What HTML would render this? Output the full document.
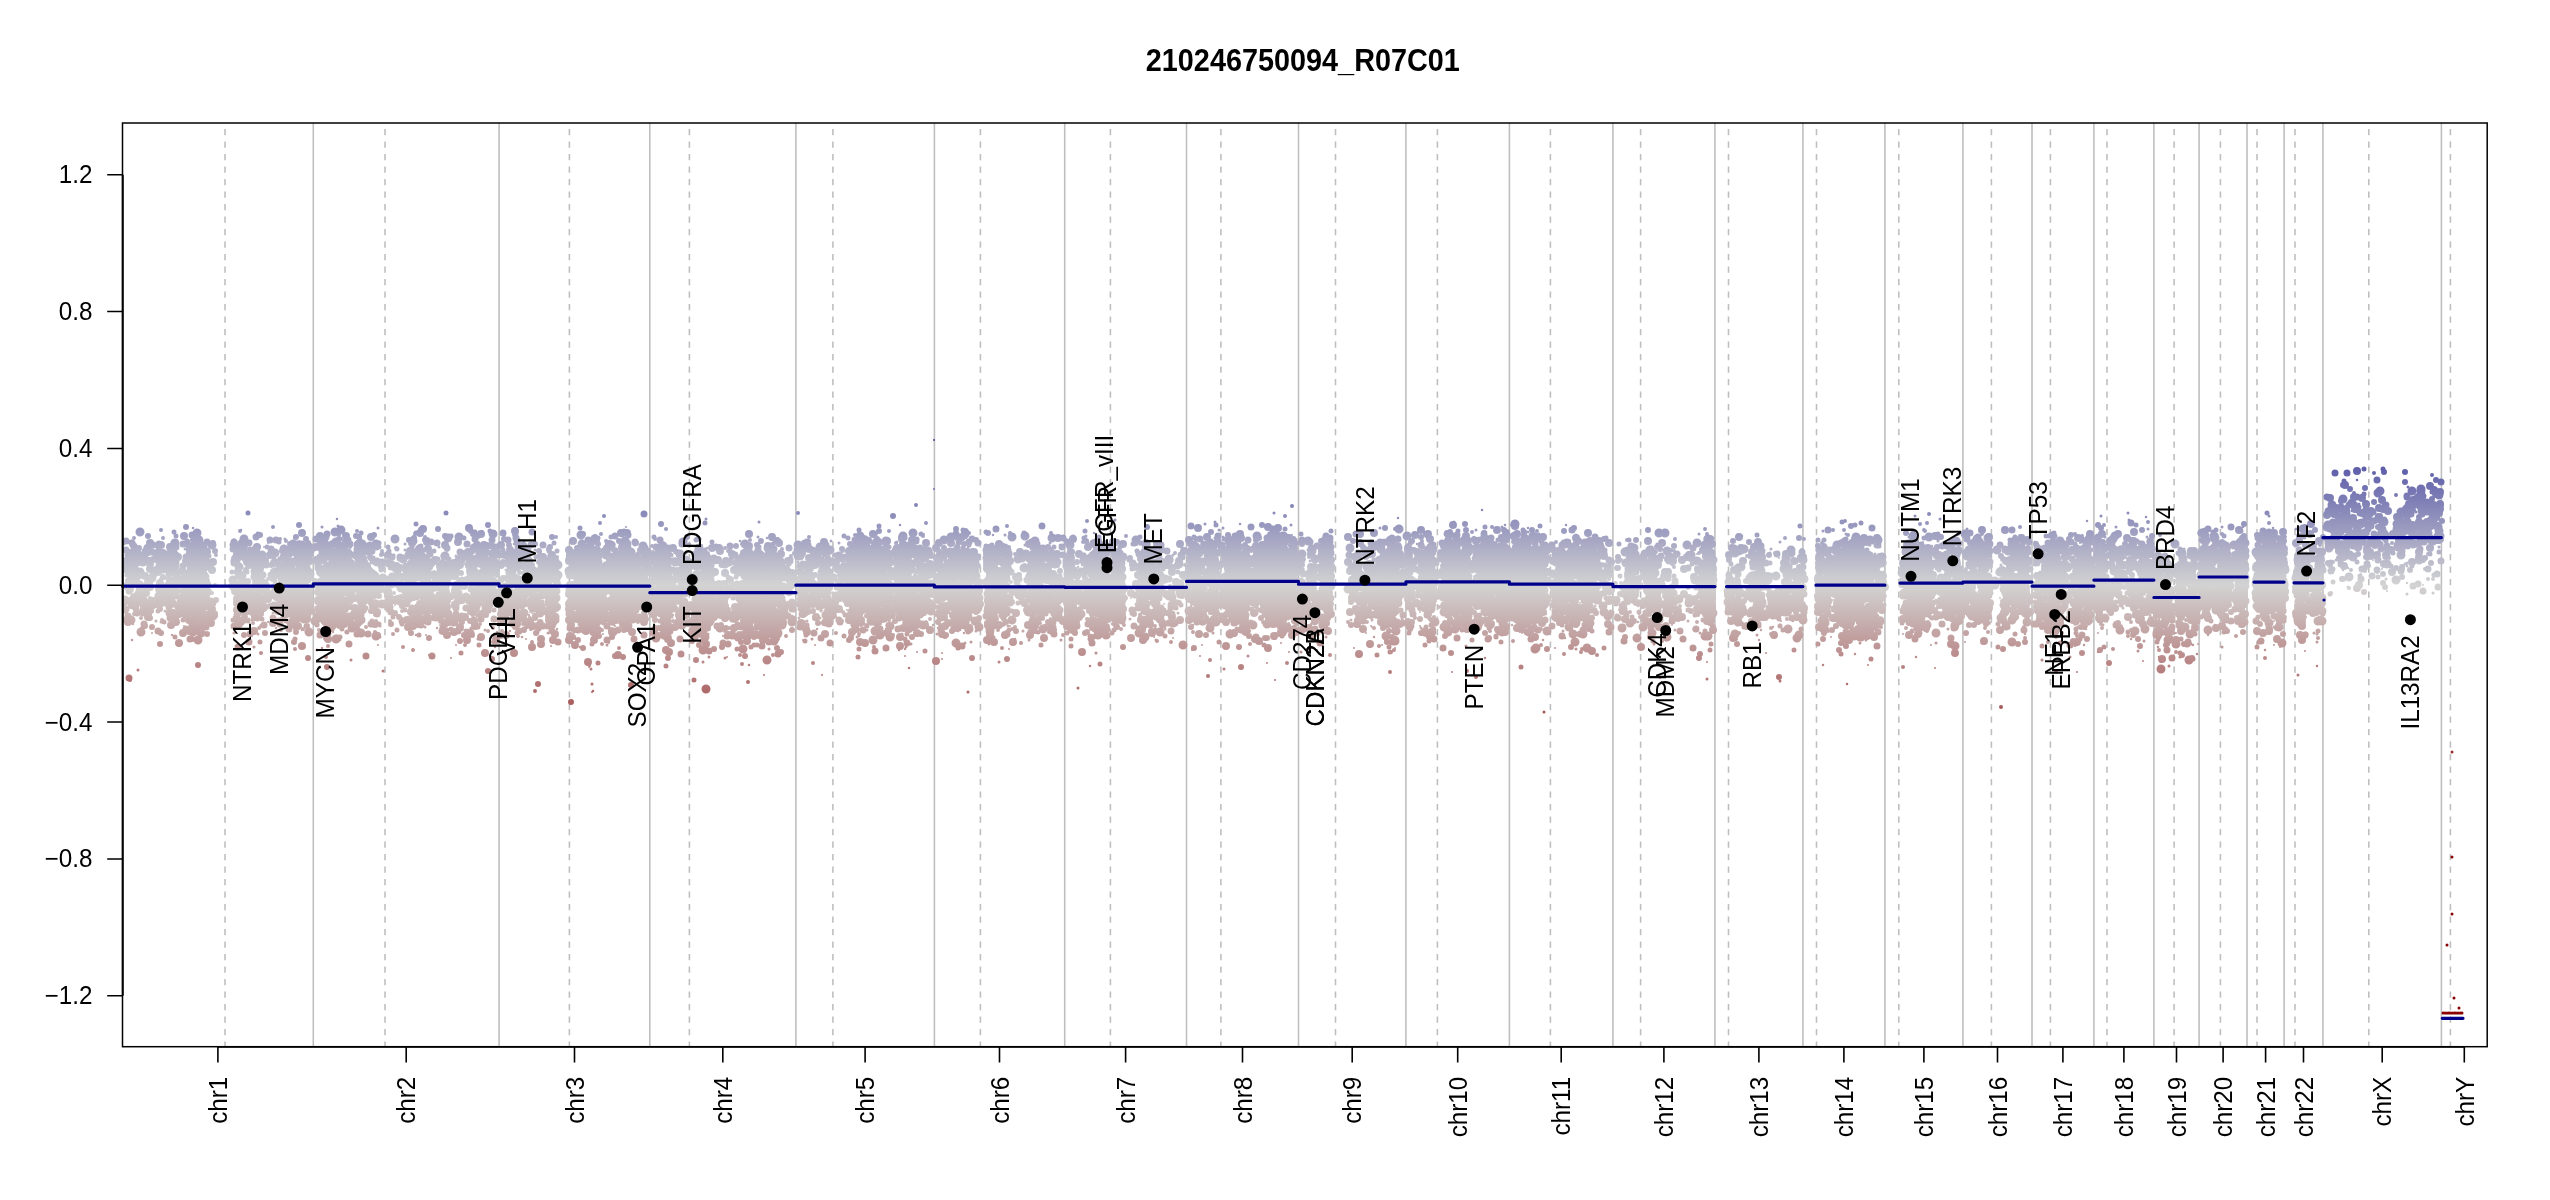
<!DOCTYPE html><html><head><meta charset="utf-8"><style>html,body{margin:0;padding:0;background:#fff;overflow:hidden}svg{display:block}text{font-family:"Liberation Sans",sans-serif;fill:#000}</style></head><body>
<svg style="will-change:transform" width="2550" height="1200" viewBox="0 0 2550 1200">
<rect width="2550" height="1200" fill="#fff"/>
<defs><linearGradient id="g" gradientUnits="userSpaceOnUse" x1="0" y1="373.1" x2="0" y2="797.3">
<stop offset="0" stop-color="#00008b"/><stop offset="0.5" stop-color="#d3d3d3"/><stop offset="1" stop-color="#8b0000"/></linearGradient>
<clipPath id="c"><rect x="122.5" y="123.0" width="2364.7" height="923.7"/></clipPath></defs>
<path stroke="#bebebe" stroke-width="1.56" fill="none" d="M313.3 123.0V1046.7M499.1 123.0V1046.7M649.8 123.0V1046.7M795.9 123.0V1046.7M934.4 123.0V1046.7M1064.7 123.0V1046.7M1186.5 123.0V1046.7M1298.5 123.0V1046.7M1405.9 123.0V1046.7M1509.4 123.0V1046.7M1612.9 123.0V1046.7M1714.9 123.0V1046.7M1802.9 123.0V1046.7M1884.9 123.0V1046.7M1962.9 123.0V1046.7M2032.0 123.0V1046.7M2093.9 123.0V1046.7M2153.9 123.0V1046.7M2199.1 123.0V1046.7M2247.0 123.0V1046.7M2284.1 123.0V1046.7M2322.9 123.0V1046.7M2441.4 123.0V1046.7"/>
<path stroke="#bebebe" stroke-width="1.56" stroke-dasharray="6.25 6.25" stroke-dashoffset="-6" fill="none" d="M225.0 123.0V1046.7M385.0 123.0V1046.7M569.4 123.0V1046.7M689.4 123.0V1046.7M832.9 123.0V1046.7M980.4 123.0V1046.7M1110.4 123.0V1046.7M1220.9 123.0V1046.7M1335.5 123.0V1046.7M1437.4 123.0V1046.7M1550.4 123.0V1046.7M1640.6 123.0V1046.7M1728.5 123.0V1046.7M1816.5 123.0V1046.7M1898.8 123.0V1046.7M1991.4 123.0V1046.7M2050.4 123.0V1046.7M2107.0 123.0V1046.7M2174.1 123.0V1046.7M2220.4 123.0V1046.7M2257.0 123.0V1046.7M2295.0 123.0V1046.7M2368.8 123.0V1046.7M2450.4 123.0V1046.7"/>
<g fill="none" stroke="url(#g)" stroke-linecap="round" clip-path="url(#c)"><path stroke-width="1.5" d=""/><path stroke-width="2.0" d="M152 633h0m1 -34h0m7 7h0m14 -7h0m1 24h0m9 3h0m1 1h0m4 -4h0m0 -35h0m1 13h0m6 -61h0m1 69h0m0 -3h0m4 29h0m0 -21h0m34 11h0m1 4h0m4 -14h0m13 1h0m10 11h0m1 -80h0m4 -4h0m6 25h0m5 29h0m3 22h0m4 -7h0m1 18h0m14 -13h0m16 -8h0m6 12h0m4 -15h0m11 5h0m0 -54h0m3 59h0m15 2h0m1 -19h0m3 -29h0m18 75h0m7 -42h0m10 2h0m10 4h0m4 23h0m1 -90h0m1 18h0m5 2h0m0 49h0m10 24h0m3 20h0m1 -54h0m10 24h0m3 -24h0m2 8h0m0 0h0m3 -23h0m3 72h0m4 -39h0m1 -14h0m0 40h0m6 -45h0m8 0h0m4 -47h0m0 52h0m4 -12h0m5 11h0m3 -56h0m4 11h0m4 -4h0m18 -5h0m3 77h0m0 -20h0m2 -44h0m3 -10h0m6 86h0m0 -35h0m3 13h0m1 -5h0m2 1h0m1 8h0m8 -69h0m3 17h0m4 46h0m2 -55h0m1 86h0m0 -84h0m4 42h0m0 18h0m14 -1h0m2 -36h0m3 48h0m4 -19h0m2 -17h0m1 -48h0m2 5h0m2 68h0m2 7h0m2 38h0m1 -62h0m0 61h0m2 -112h0m0 138h0m0 -152h0m1 38h0m1 53h0m3 -60h0m5 40h0m1 23h0m6 9h0m0 -15h0m6 -2h0m3 -5h0m1 -21h0m1 14h0m2 1h0m0 6h0m1 -21h0m3 -73h0m3 88h0m3 20h0m2 -26h0m20 -37h0m2 -8h0m4 52h0m0 -26h0m3 35h0m0 -66h0m11 -10h0m2 66h0m3 3h0m7 -44h0m16 -29h0m0 32h0m1 -7h0m1 36h0m0 -11h0m0 8h0m3 -41h0m5 46h0m1 2h0m10 26h0m2 -77h0m1 73h0m1 25h0m9 -40h0m10 -5h0m4 -4h0m11 -5h0m1 -6h0m1 46h0m1 32h0m1 -69h0m0 1h0m0 -59h0m1 1h0m2 109h0m10 -31h0m4 -24h0m4 21h0m17 -12h0m0 28h0m2 -32h0m10 10h0m0 27h0m6 -22h0m1 -13h0m0 65h0m1 -67h0m2 7h0m4 3h0m1 -57h0m14 52h0m2 2h0m1 -5h0m13 -43h0m1 57h0m6 -66h0m1 2h0m0 3h0m3 53h0m3 -4h0m1 -6h0m3 16h0m1 -1h0m1 -21h0m1 2h0m8 5h0m7 15h0m1 -16h0m5 -9h0m1 10h0m1 21h0m1 28h0m4 -59h0m8 55h0m7 -118h0m2 87h0m7 -12h0m1 -169h0m0 49h0m4 119h0m3 -3h0m1 48h0m0 6h0m13 -35h0m3 -20h0m1 9h0m2 -9h0m3 6h0m2 11h0m2 -71h0m1 78h0m18 -25h0m0 -40h0m1 -8h0m1 -9h0m4 11h0m1 50h0m7 10h0m6 -6h0m0 -6h0m2 44h0m1 -23h0m17 -25h0m4 22h0m2 -3h0m1 -4h0m0 -73h0m2 90h0m3 -21h0m3 -1h0m1 8h0m0 -14h0m7 13h0m2 11h0m10 -76h0m10 5h0m10 40h0m0 54h0m11 -45h0m2 -9h0m3 27h0m0 -77h0m5 68h0m0 -8h0m0 16h0m10 0h0m6 -59h0m12 33h0m13 -33h0m10 72h0m3 -47h0m7 14h0m3 7h0m6 13h0m0 14h0m17 -89h0m0 67h0m0 -21h0m2 55h0m0 -36h0m0 -19h0m4 10h0m0 -1h0m0 -2h0m2 -10h0m0 11h0m2 53h0m2 -11h0m7 -75h0m8 32h0m12 17h0m1 11h0m4 -76h0m3 40h0m6 -43h0m2 68h0m4 -13h0m10 3h0m0 -54h0m1 43h0m3 -40h0m4 105h0m3 -54h0m4 8h0m1 63h0m3 -87h0m1 40h0m0 -76h0m2 86h0m0 -50h0m1 13h0m0 15h0m0 -16h0m2 -7h0m2 -4h0m0 34h0m1 -1h0m2 25h0m0 -29h0m3 -88h0m1 22h0m1 48h0m1 10h0m17 7h0m4 -77h0m1 105h0m8 -37h0m1 -6h0m24 -8h0m1 -38h0m1 63h0m2 24h0m1 -108h0m3 84h0m3 -6h0m3 -8h0m2 23h0m5 -19h0m0 12h0m1 1h0m1 -73h0m3 55h0m5 -57h0m1 93h0m3 -88h0m1 -1h0m0 3h0m1 78h0m5 -19h0m1 -5h0m0 12h0m2 -29h0m0 52h0m0 -37h0m7 12h0m18 3h0m0 -14h0m2 -2h0m11 -8h0m12 22h0m7 48h0m2 -134h0m11 67h0m18 -3h0m3 -62h0m3 56h0m0 -1h0m17 -45h0m0 64h0m1 -13h0m6 16h0m1 -35h0m0 29h0m1 -51h0m3 59h0m1 9h0m1 4h0m2 -8h0m0 9h0m1 -34h0m0 8h0m9 -58h0m2 77h0m0 -22h0m1 32h0m3 -49h0m9 11h0m8 50h0m7 -92h0m4 55h0m0 -10h0m9 19h0m1 -71h0m2 53h0m2 1h0m3 -50h0m2 45h0m0 17h0m0 -58h0m1 -13h0m1 13h0m2 59h0m1 -21h0m2 56h0m1 -91h0m1 38h0m17 -1h0m8 13h0m8 -52h0m1 64h0m4 1h0m15 -18h0m4 28h0m6 -15h0m3 60h0m6 -53h0m6 0h0m2 -7h0m5 -4h0m1 -6h0m15 19h0m1 -63h0m1 -10h0m10 67h0m0 41h0m3 -102h0m1 75h0m1 -15h0m29 -2h0m5 8h0m5 -70h0m6 53h0m3 16h0m6 28h0m4 -37h0m9 -58h0m2 63h0m2 -21h0m17 11h0m1 21h0m18 -11h0m10 -27h0m2 43h0m2 -37h0m4 -39h0m7 64h0m5 -5h0m5 -33h0m0 21h0m2 -7h0m3 1h0m2 -6h0m0 33h0m7 36h0m2 -66h0m9 31h0m4 -30h0m20 34h0m2 -86h0m7 18h0m1 47h0m1 26h0m1 -16h0m1 11h0m0 -30h0m3 22h0m3 -27h0m0 5h0m1 -62h0m2 70h0m1 -63h0m3 75h0m2 21h0m4 23h0m8 -54h0m1 -82h0m8 80h0m3 -4h0m2 -50h0m2 53h0m6 31h0m0 -40h0m5 -43h0m1 60h0m0 -23h0m0 -28h0m11 33h0m2 0h0m1 20h0m1 -20h0m13 -49h0m1 46h0m3 32h0m1 -30h0m10 9h0m1 -12h0m2 22h0m6 -21h0m4 5h0m2 19h0m8 -41h0m8 24h0m0 -18h0m14 43h0m1 30h0m17 12h0m3 -129h0m1 16h0m2 55h0m1 -5h0m0 -5h0m3 15h0m2 -51h0m3 39h0m6 26h0m4 -83h0m1 67h0m1 -7h0m6 4h0m5 8h0m25 -31h0m3 70h0m9 -55h0m4 29h0m8 -60h0m4 66h0m1 -79h0m7 71h0m1 -69h0m10 49h0m1 -63h0m3 72h0m3 -7h0m4 29h0m7 -91h0m19 67h0m2 -21h0m6 2h0m4 22h0m6 -20h0m1 -23h0m22 -32h0m1 70h0m2 -12h0m3 -13h0m1 9h0m1 -16h0m1 59h0m0 -24h0m6 26h0m4 -27h0m0 -26h0m1 28h0m11 -18h0m1 3h0m1 -10h0m4 -3h0m3 57h0m3 -53h0m1 15h0m2 -4h0m11 4h0m39 -39h0m12 -14h0m9 9h0m5 22h0m36 -6h0"/><path stroke-width="2.5" d="M124 544h0m8 96h0m1 -16h0m5 -25h0m21 4h0m13 32h0m2 -34h0m4 -25h0m6 0h0m0 -11h0m4 34h0m2 3h0m0 -52h0m1 70h0m1 -85h0m1 83h0m0 -90h0m7 35h0m2 3h0m32 51h0m1 -65h0m4 4h0m2 -26h0m2 94h0m1 -18h0m10 -33h0m4 8h0m1 28h0m4 -2h0m5 15h0m7 -58h0m1 64h0m6 -27h0m1 15h0m3 -19h0m8 -53h0m6 44h0m2 42h0m17 -31h0m1 -48h0m2 97h0m0 -58h0m2 22h0m2 10h0m0 -54h0m2 10h0m0 34h0m2 -14h0m0 -15h0m3 49h0m3 -18h0m1 -95h0m1 108h0m0 -20h0m2 33h0m0 -30h0m1 -5h0m0 -35h0m2 2h0m4 9h0m19 -29h0m4 74h0m17 -62h0m3 48h0m0 -33h0m3 1h0m5 16h0m4 22h0m1 3h0m10 -21h0m3 35h0m0 -86h0m2 86h0m19 -7h0m6 -19h0m5 -41h0m6 27h0m2 17h0m12 -46h0m5 58h0m0 -27h0m2 11h0m8 -50h0m1 -2h0m11 91h0m0 -8h0m0 -18h0m2 11h0m6 -51h0m7 50h0m3 -73h0m1 -14h0m1 83h0m2 0h0m5 10h0m1 -87h0m1 -9h0m5 74h0m7 -37h0m1 -8h0m1 39h0m1 16h0m17 -64h0m1 68h0m13 -59h0m0 53h0m3 -24h0m0 14h0m5 -52h0m2 86h0m5 -101h0m1 43h0m0 -9h0m0 35h0m2 -58h0m4 -1h0m1 135h0m0 -108h0m4 43h0m0 -57h0m1 65h0m6 -38h0m1 -50h0m5 66h0m0 -26h0m4 39h0m2 -69h0m1 37h0m4 7h0m1 9h0m1 -6h0m5 12h0m2 -18h0m0 30h0m1 -16h0m1 -22h0m16 8h0m11 -50h0m4 81h0m3 -75h0m0 40h0m2 65h0m0 -51h0m5 8h0m13 -12h0m5 36h0m3 -26h0m6 22h0m1 -16h0m1 -57h0m1 45h0m3 3h0m1 38h0m0 -100h0m9 70h0m12 14h0m11 -47h0m1 -44h0m3 27h0m4 36h0m2 61h0m0 -50h0m2 3h0m6 -56h0m1 11h0m2 32h0m1 5h0m3 -48h0m2 65h0m1 8h0m0 -97h0m4 95h0m2 -93h0m0 30h0m5 61h0m1 -23h0m0 -1h0m6 5h0m4 -17h0m1 -6h0m13 34h0m3 -83h0m0 28h0m2 9h0m9 52h0m6 -88h0m6 14h0m0 56h0m2 -10h0m4 -36h0m1 52h0m12 -79h0m1 5h0m3 15h0m3 65h0m0 -63h0m1 -19h0m1 71h0m2 24h0m1 -7h0m4 -19h0m8 1h0m0 -33h0m0 12h0m3 14h0m0 -1h0m2 -30h0m3 45h0m6 11h0m13 21h0m1 -125h0m1 75h0m2 -50h0m2 99h0m1 -27h0m3 46h0m6 -116h0m1 3h0m2 -6h0m5 49h0m4 24h0m0 -77h0m6 80h0m5 3h0m2 -34h0m13 4h0m0 17h0m1 14h0m1 -61h0m1 10h0m2 53h0m1 -78h0m5 54h0m0 26h0m3 -22h0m1 -20h0m0 -10h0m1 22h0m19 5h0m0 16h0m5 -89h0m2 79h0m0 -65h0m7 69h0m1 -9h0m2 2h0m10 28h0m10 -87h0m3 54h0m1 25h0m7 -50h0m3 29h0m8 -43h0m1 -19h0m0 58h0m3 -29h0m9 -32h0m7 12h0m11 10h0m4 -2h0m1 28h0m5 -51h0m0 19h0m2 105h0m4 -133h0m1 27h0m3 18h0m3 -11h0m1 -13h0m0 72h0m4 -46h0m6 44h0m5 3h0m1 -16h0m2 -51h0m17 -6h0m6 51h0m2 -50h0m11 58h0m34 -12h0m1 5h0m2 19h0m2 -7h0m4 -35h0m3 -35h0m9 15h0m3 52h0m10 -26h0m1 -29h0m0 -7h0m2 29h0m2 10h0m2 -22h0m1 24h0m0 -19h0m1 21h0m3 -52h0m1 50h0m0 5h0m0 -23h0m3 -17h0m0 -35h0m0 68h0m1 -37h0m2 16h0m2 53h0m6 -32h0m2 3h0m1 0h0m11 -20h0m3 17h0m1 -35h0m0 64h0m1 -26h0m1 18h0m2 -52h0m1 -1h0m3 13h0m2 48h0m0 -71h0m5 43h0m2 34h0m0 -63h0m1 -12h0m1 23h0m6 28h0m8 9h0m3 -7h0m1 -2h0m2 50h0m3 -29h0m17 -29h0m30 -53h0m0 61h0m0 -43h0m11 50h0m0 -6h0m1 9h0m3 -31h0m1 55h0m3 -26h0m4 3h0m1 -19h0m1 -13h0m2 -31h0m0 0h0m2 2h0m0 23h0m4 -5h0m2 -23h0m2 17h0m0 19h0m0 -56h0m2 59h0m1 -69h0m1 105h0m18 -79h0m2 33h0m10 16h0m17 4h0m4 -43h0m1 51h0m2 -61h0m1 31h0m2 -14h0m0 68h0m0 -19h0m1 -16h0m6 -12h0m4 88h0m0 -67h0m3 6h0m3 17h0m1 -12h0m2 9h0m5 -30h0m1 -83h0m3 96h0m0 52h0m1 -102h0m0 -24h0m1 29h0m1 32h0m2 -12h0m1 35h0m0 -27h0m2 4h0m0 -35h0m2 25h0m0 -28h0m2 3h0m1 40h0m2 8h0m0 1h0m3 -67h0m1 69h0m1 -84h0m7 100h0m2 -13h0m2 -14h0m5 -35h0m0 -17h0m1 9h0m5 76h0m1 -103h0m0 97h0m2 -64h0m4 73h0m0 -50h0m2 33h0m1 -7h0m3 -54h0m2 31h0m1 53h0m3 -26h0m1 -13h0m14 -2h0m3 1h0m1 38h0m1 -113h0m4 58h0m1 -38h0m0 46h0m1 -40h0m8 48h0m4 22h0m2 -17h0m4 -10h0m1 8h0m1 3h0m4 -42h0m20 54h0m8 8h0m14 -3h0m0 -16h0m1 8h0m5 11h0m7 -24h0m2 -52h0m14 61h0m7 -9h0m31 16h0m5 -75h0m0 71h0m1 -70h0m0 55h0m17 -26h0m3 14h0m3 24h0m3 15h0m5 -89h0m12 18h0m3 70h0m2 -27h0m0 43h0m1 -25h0m1 15h0m1 -17h0m0 -29h0m8 -9h0m1 31h0m2 21h0m2 -25h0m8 -5h0m2 -29h0m8 53h0m8 -16h0m17 -43h0m3 47h0m2 56h0m1 -49h0m0 -61h0m6 50h0m2 -30h0m11 6h0m1 -3h0m2 67h0m1 -84h0m0 123h0m1 -77h0m2 -43h0m1 55h0m0 -21h0m1 14h0m0 12h0m1 -13h0m1 -26h0m1 23h0m0 46h0m1 -50h0m0 6h0m0 -20h0m2 -54h0m2 46h0m0 -18h0m3 47h0m7 3h0m32 -30h0m1 21h0m2 -55h0m6 10h0m2 34h0m0 -27h0m1 -14h0m1 5h0m1 40h0m0 59h0m1 -123h0m1 23h0m0 39h0m2 14h0m0 7h0m7 -60h0m5 4h0m0 -15h0m0 -10h0m4 64h0m8 25h0m8 -70h0m0 61h0m7 -8h0m9 -12h0m4 5h0m4 -34h0m30 33h0m2 -34h0m6 25h0m4 -35h0m0 61h0m2 -40h0m3 37h0m1 -56h0m0 -12h0m1 88h0m0 -68h0m3 -6h0m14 26h0m3 15h0m4 -23h0m3 10h0m1 15h0m1 -51h0m0 -8h0m0 68h0m1 -62h0m1 35h0m0 29h0m1 -40h0m1 42h0m0 -35h0m2 -13h0m2 -17h0m18 32h0m0 -11h0m2 55h0m2 18h0m1 -101h0m1 85h0m1 -108h0m3 57h0m2 -38h0m5 31h0m0 -14h0m1 95h0m3 -122h0m1 31h0m11 18h0m12 -25h0m6 85h0m1 -54h0m0 22h0m13 -52h0m1 -38h0m1 86h0m4 -64h0m1 15h0m6 93h0m1 -26h0m0 36h0m0 -38h0m0 10h0m5 -17h0m2 14h0m9 7h0m0 -59h0m0 40h0m3 -59h0m6 72h0m7 -8h0m0 -51h0m1 31h0m1 46h0m0 -24h0m4 33h0m1 -42h0m10 23h0m2 -15h0m1 -27h0m4 32h0m21 -35h0m5 -30h0m2 -33h0m2 75h0m0 1h0m0 17h0m13 -21h0m2 23h0m1 -61h0m1 2h0m1 -5h0m2 92h0m4 -45h0m3 -28h0m1 -49h0m1 87h0m3 -53h0m0 23h0m0 38h0m6 -26h0m15 -39h0m0 58h0m1 -52h0m0 53h0m1 -11h0m1 33h0m1 -41h0m4 12h0m2 -2h0m2 -42h0m5 -38h0m2 138h0m4 -54h0m15 -81h0m7 39h0m5 -2h0m4 -57h0m5 -31h0m22 65h0m28 38h0m11 -22h0m20 -43h0"/><path stroke-width="3.0" d="M131 580h0m7 90h0m1 -89h0m1 32h0m5 -52h0m0 37h0m1 16h0m1 -38h0m0 40h0m0 -66h0m2 10h0m7 61h0m3 -23h0m1 -17h0m1 41h0m1 -32h0m3 21h0m5 -16h0m4 -38h0m11 -8h0m1 60h0m2 4h0m1 -39h0m1 51h0m1 -85h0m0 26h0m1 -5h0m1 17h0m1 -22h0m2 12h0m1 7h0m1 30h0m1 -62h0m1 -2h0m1 48h0m1 -19h0m2 -1h0m0 19h0m10 12h0m20 33h0m1 -28h0m4 9h0m3 -47h0m1 53h0m1 -42h0m0 39h0m1 -76h0m3 67h0m1 11h0m1 -13h0m0 -65h0m2 79h0m0 -14h0m2 41h0m1 -57h0m3 44h0m0 -27h0m1 -15h0m4 -39h0m10 60h0m0 -59h0m6 4h0m3 -10h0m3 -9h0m5 48h0m1 15h0m0 8h0m0 -9h0m3 -11h0m1 -10h0m0 9h0m0 -9h0m2 1h0m0 28h0m3 -7h0m2 -59h0m0 52h0m4 36h0m1 -15h0m2 -50h0m0 -20h0m8 104h0m1 -103h0m0 77h0m0 -14h0m4 -83h0m0 78h0m0 -61h0m1 50h0m10 -16h0m0 -21h0m1 22h0m2 24h0m1 -6h0m1 -71h0m1 51h0m0 37h0m1 -45h0m1 15h0m2 7h0m2 7h0m1 34h0m1 -8h0m3 -82h0m1 118h0m0 -58h0m7 0h0m3 11h0m1 10h0m5 -79h0m5 15h0m1 -1h0m0 44h0m0 -55h0m1 -2h0m0 12h0m4 -29h0m2 109h0m0 -11h0m3 45h0m5 -94h0m6 -22h0m5 63h0m1 -29h0m3 -12h0m1 32h0m1 -65h0m0 6h0m8 20h0m4 9h0m0 -18h0m3 26h0m1 -39h0m4 79h0m6 -42h0m3 15h0m3 -17h0m2 -17h0m0 -19h0m1 45h0m1 36h0m6 -52h0m1 23h0m1 -30h0m7 -13h0m2 12h0m3 -6h0m1 -8h0m1 82h0m1 -28h0m6 -36h0m0 62h0m1 -6h0m2 -24h0m0 2h0m1 -58h0m2 58h0m2 5h0m0 28h0m0 -51h0m1 -32h0m1 17h0m5 57h0m4 -51h0m1 26h0m0 -38h0m0 -20h0m3 23h0m0 -6h0m8 43h0m2 -63h0m1 55h0m2 -29h0m3 53h0m3 -47h0m3 -9h0m1 55h0m1 -16h0m0 -38h0m0 -6h0m1 52h0m3 -30h0m2 44h0m2 -22h0m5 2h0m1 -46h0m4 -12h0m2 67h0m1 -11h0m1 -15h0m1 22h0m0 -5h0m3 -24h0m4 -20h0m0 64h0m0 -41h0m1 46h0m0 -53h0m1 -6h0m7 -2h0m0 -14h0m1 17h0m0 25h0m13 -38h0m0 9h0m0 42h0m8 -25h0m0 18h0m1 -45h0m2 55h0m0 -4h0m2 -9h0m0 -30h0m2 -26h0m0 47h0m1 5h0m2 -37h0m1 24h0m2 83h0m0 -86h0m1 101h0m1 -90h0m0 13h0m1 -10h0m0 30h0m1 -70h0m2 26h0m3 26h0m0 -33h0m1 19h0m0 28h0m4 -28h0m2 50h0m3 -91h0m1 40h0m0 -1h0m0 -19h0m2 5h0m2 9h0m1 20h0m2 -27h0m2 16h0m0 -7h0m2 -23h0m4 -2h0m0 9h0m0 -18h0m1 -20h0m5 72h0m5 -11h0m0 -42h0m2 45h0m3 -14h0m3 -27h0m1 39h0m6 -9h0m4 9h0m3 14h0m2 -27h0m2 -16h0m1 21h0m0 30h0m0 -3h0m1 -54h0m0 11h0m2 3h0m3 -28h0m2 68h0m2 -53h0m1 64h0m4 -43h0m1 -3h0m0 -19h0m1 17h0m5 -27h0m0 -12h0m6 77h0m1 -64h0m0 32h0m1 -21h0m1 10h0m3 -7h0m0 60h0m4 21h0m1 -60h0m0 73h0m1 -26h0m1 -13h0m1 -53h0m0 26h0m0 -77h0m2 108h0m0 7h0m0 -4h0m1 27h0m1 -32h0m1 -20h0m1 -41h0m3 24h0m5 40h0m4 -11h0m1 41h0m13 -25h0m2 -25h0m1 -38h0m0 36h0m1 28h0m1 -8h0m1 -39h0m2 27h0m1 -11h0m0 -10h0m1 -43h0m0 69h0m2 -34h0m0 40h0m5 -59h0m1 27h0m2 7h0m0 -63h0m1 -15h0m1 25h0m0 -1h0m1 38h0m0 23h0m2 -22h0m1 21h0m2 14h0m0 -72h0m1 79h0m0 -57h0m1 46h0m1 9h0m0 -58h0m0 82h0m2 -93h0m0 65h0m8 -29h0m0 13h0m1 31h0m0 -85h0m18 11h0m1 56h0m4 -66h0m0 28h0m4 41h0m3 -20h0m0 -11h0m2 -20h0m0 69h0m2 -43h0m0 -3h0m6 25h0m1 -7h0m2 -56h0m1 -6h0m0 65h0m2 -31h0m1 -12h0m1 5h0m2 -15h0m1 -20h0m8 2h0m7 71h0m8 -22h0m1 18h0m0 -1h0m1 -4h0m0 10h0m0 -53h0m1 32h0m0 26h0m0 17h0m1 -30h0m1 -9h0m1 7h0m1 4h0m0 -18h0m1 19h0m3 -39h0m0 -22h0m0 53h0m1 13h0m1 15h0m1 -84h0m2 10h0m1 25h0m2 -33h0m0 32h0m1 -30h0m0 -10h0m1 56h0m1 -28h0m1 22h0m1 -43h0m8 54h0m1 -42h0m1 19h0m1 49h0m3 -16h0m5 -23h0m0 -46h0m1 49h0m2 12h0m0 -38h0m1 15h0m0 -20h0m1 43h0m0 -29h0m0 60h0m1 -75h0m1 36h0m1 -41h0m1 93h0m1 -63h0m1 -11h0m1 43h0m0 -2h0m1 -25h0m1 55h0m2 -103h0m0 76h0m2 -33h0m9 2h0m0 24h0m3 -53h0m2 46h0m8 31h0m1 -51h0m0 33h0m1 -22h0m1 -23h0m1 47h0m4 -42h0m2 30h0m5 -38h0m1 12h0m1 30h0m0 16h0m1 -26h0m1 5h0m1 -37h0m4 41h0m0 -32h0m2 -4h0m0 -8h0m1 -5h0m1 83h0m1 -57h0m1 -32h0m0 2h0m1 136h0m0 -144h0m2 5h0m1 89h0m0 -70h0m4 52h0m1 7h0m1 -40h0m0 -29h0m2 57h0m7 -14h0m1 12h0m1 4h0m0 -19h0m1 42h0m0 -35h0m0 -50h0m1 23h0m1 -37h0m3 92h0m3 -58h0m1 31h0m0 -32h0m1 84h0m0 -99h0m3 33h0m2 29h0m0 -29h0m0 19h0m1 -17h0m0 1h0m0 0h0m0 -64h0m3 91h0m15 5h0m2 -86h0m4 95h0m2 -23h0m1 -26h0m5 13h0m3 -38h0m0 49h0m0 -25h0m1 20h0m0 -12h0m4 -10h0m1 -16h0m3 40h0m1 -69h0m1 55h0m3 -41h0m2 33h0m3 -33h0m1 -3h0m0 32h0m1 54h0m0 -40h0m6 8h0m2 -18h0m0 40h0m0 -58h0m2 36h0m0 1h0m1 -5h0m0 11h0m1 -1h0m4 -22h0m1 29h0m0 67h0m5 -127h0m1 34h0m0 -41h0m2 -18h0m6 50h0m3 -27h0m1 64h0m0 -15h0m0 -53h0m0 4h0m0 94h0m0 -23h0m1 -86h0m1 1h0m1 0h0m1 84h0m1 -55h0m1 16h0m0 -29h0m1 46h0m3 -22h0m3 34h0m4 -56h0m2 64h0m0 -107h0m1 94h0m0 -39h0m0 -33h0m2 83h0m4 -59h0m8 53h0m1 -5h0m4 -69h0m1 59h0m1 3h0m3 7h0m0 -70h0m0 27h0m1 48h0m1 -26h0m14 47h0m1 -74h0m0 -8h0m8 71h0m0 -35h0m3 -27h0m1 49h0m4 -61h0m5 58h0m3 -18h0m1 24h0m3 25h0m9 -81h0m0 30h0m0 -43h0m1 27h0m0 4h0m0 -40h0m0 76h0m4 -43h0m2 -21h0m1 35h0m3 -64h0m3 45h0m0 -7h0m1 -15h0m2 72h0m1 -64h0m0 4h0m0 65h0m0 -15h0m1 24h0m0 -58h0m1 12h0m1 -65h0m0 16h0m2 21h0m1 30h0m1 -7h0m0 -52h0m4 7h0m0 -9h0m1 141h0m5 -76h0m2 -29h0m0 49h0m1 -1h0m0 -54h0m0 51h0m0 -35h0m1 -37h0m0 21h0m0 -11h0m1 59h0m1 -66h0m1 49h0m0 -7h0m1 -39h0m3 72h0m0 -24h0m2 12h0m1 14h0m0 -57h0m1 -11h0m0 44h0m1 1h0m0 3h0m3 59h0m4 -90h0m2 -5h0m2 32h0m3 18h0m0 -60h0m2 41h0m1 -43h0m0 11h0m3 30h0m1 -38h0m0 -25h0m1 75h0m1 -2h0m1 -60h0m1 19h0m1 45h0m0 -49h0m1 -12h0m2 -30h0m0 76h0m1 -24h0m0 52h0m2 1h0m0 -58h0m1 31h0m1 -42h0m0 78h0m0 -31h0m1 -46h0m1 58h0m0 -53h0m0 49h0m1 -20h0m0 30h0m1 -28h0m1 -21h0m1 45h0m1 22h0m2 -13h0m2 -38h0m1 -56h0m2 83h0m1 -12h0m1 -29h0m1 -23h0m1 30h0m4 78h0m0 -29h0m7 -73h0m2 11h0m4 59h0m4 -5h0m0 -16h0m3 -16h0m2 -13h0m0 2h0m3 65h0m1 -43h0m2 -26h0m1 7h0m0 22h0m0 -10h0m1 21h0m18 -54h0m2 66h0m1 -71h0m3 52h0m2 5h0m5 -57h0m6 30h0m3 6h0m1 35h0m1 -46h0m1 32h0m2 8h0m1 0h0m1 -19h0m2 -67h0m2 74h0m1 -8h0m1 -54h0m0 32h0m1 -2h0m0 16h0m1 33h0m1 -79h0m0 25h0m0 21h0m3 7h0m1 4h0m0 34h0m0 -22h0m0 -22h0m1 1h0m1 35h0m0 -15h0m0 -2h0m0 6h0m0 -53h0m1 11h0m1 -23h0m0 41h0m3 -24h0m1 10h0m0 27h0m0 -12h0m1 -23h0m1 12h0m1 41h0m9 -40h0m4 38h0m6 11h0m1 -26h0m4 -52h0m0 65h0m3 4h0m2 -34h0m16 -23h0m0 44h0m1 -60h0m0 59h0m0 1h0m0 -3h0m0 -16h0m1 -23h0m2 20h0m0 30h0m3 -18h0m0 -29h0m0 -45h0m0 91h0m1 -37h0m2 -18h0m4 8h0m2 -3h0m1 61h0m2 22h0m2 -83h0m0 -25h0m0 78h0m2 -62h0m0 60h0m0 -13h0m1 11h0m2 12h0m0 -66h0m1 70h0m2 -7h0m0 -91h0m3 8h0m1 20h0m0 27h0m4 -43h0m0 78h0m1 -50h0m2 29h0m2 -13h0m0 5h0m3 -38h0m2 28h0m2 28h0m0 -64h0m0 73h0m0 -33h0m2 -27h0m1 15h0m0 -24h0m1 26h0m1 14h0m0 -2h0m1 -60h0m1 60h0m2 4h0m0 -40h0m2 56h0m1 -22h0m0 44h0m3 -42h0m1 -49h0m2 20h0m0 -2h0m1 61h0m0 -56h0m0 26h0m0 -50h0m4 12h0m1 79h0m0 -22h0m1 -25h0m1 -28h0m1 13h0m2 -18h0m0 14h0m0 -7h0m1 0h0m0 70h0m2 -93h0m0 59h0m0 15h0m2 -17h0m0 32h0m1 -62h0m0 28h0m0 26h0m1 -63h0m0 20h0m0 23h0m1 20h0m1 -13h0m2 -26h0m3 -40h0m1 8h0m1 61h0m2 -33h0m0 11h0m1 131h0m0 -149h0m0 30h0m1 -41h0m6 53h0m1 -9h0m1 18h0m1 -58h0m2 1h0m4 29h0m0 -34h0m0 9h0m1 0h0m1 2h0m0 -17h0m1 85h0m6 -25h0m1 -31h0m0 20h0m1 -16h0m1 18h0m1 -34h0m1 51h0m1 -73h0m1 108h0m0 -114h0m0 58h0m1 -26h0m1 47h0m1 -36h0m0 -8h0m1 42h0m2 -32h0m1 35h0m0 -7h0m1 -42h0m1 -8h0m1 38h0m0 -1h0m0 15h0m2 15h0m0 -76h0m0 0h0m1 68h0m2 -19h0m1 -53h0m0 41h0m1 33h0m1 -18h0m1 5h0m5 -14h0m11 -30h0m7 5h0m14 -7h0m3 7h0m8 48h0m6 11h0m0 -67h0m2 -2h0m0 51h0m0 2h0m1 -63h0m2 97h0m3 -100h0m1 44h0m2 23h0m2 -4h0m4 33h0m2 -31h0m3 -46h0m1 37h0m3 30h0m3 -31h0m10 22h0m8 -54h0m3 -33h0m1 50h0m0 49h0m0 21h0m3 -61h0m2 23h0m0 -33h0m1 -45h0m1 141h0m1 -126h0m2 10h0m0 36h0m1 -23h0m0 16h0m2 -54h0m27 80h0m2 -8h0m8 -20h0m3 21h0m0 -62h0m2 77h0m2 -23h0m0 32h0m2 -71h0m0 -5h0m0 42h0m1 -14h0m1 -11h0m1 -32h0m1 38h0m1 -20h0m6 -9h0m1 -4h0m3 59h0m6 17h0m0 56h0m0 -139h0m5 54h0m7 -32h0m5 47h0m1 -1h0m5 2h0m1 -55h0m15 -7h0m1 47h0m3 -2h0m0 -10h0m0 -54h0m1 35h0m3 -10h0m1 47h0m5 -10h0m4 -40h0m5 30h0m1 41h0m0 -27h0m1 24h0m2 -87h0m0 113h0m3 -47h0m0 17h0m1 9h0m1 -81h0m0 90h0m0 -45h0m2 8h0m0 -32h0m0 31h0m1 -50h0m0 39h0m3 -6h0m0 -39h0m2 45h0m0 -9h0m0 13h0m1 14h0m0 -30h0m0 33h0m0 36h0m2 -58h0m1 -4h0m2 -12h0m0 -1h0m1 72h0m3 -36h0m0 -59h0m1 0h0m1 26h0m1 3h0m0 10h0m1 -41h0m2 11h0m2 42h0m1 26h0m6 -50h0m20 -1h0m3 -19h0m1 35h0m1 -33h0m0 -17h0m2 59h0m1 2h0m0 10h0m2 -27h0m0 -42h0m1 -23h0m1 107h0m2 -18h0m3 -27h0m0 -5h0m1 -13h0m0 55h0m3 -15h0m1 5h0m0 -43h0m3 8h0m1 -35h0m1 30h0m2 27h0m3 51h0m2 -102h0m2 -22h0m2 35h0m1 70h0m5 -35h0m0 40h0m2 -24h0m4 -4h0m1 -3h0m1 -50h0m0 74h0m1 -1h0m1 -62h0m7 11h0m2 -7h0m0 -34h0m2 67h0m3 12h0m0 -52h0m3 -13h0m0 35h0m7 65h0m3 -81h0m0 -13h0m1 31h0m0 -33h0m15 18h0m1 5h0m1 30h0m2 -17h0m1 -11h0m3 56h0m4 -99h0m1 92h0m0 -38h0m0 -36h0m3 -7h0m1 41h0m1 -20h0m1 18h0m0 -7h0m3 19h0m1 -23h0m2 12h0m2 26h0m7 -64h0m1 -10h0m5 77h0m1 51h0m1 -36h0m1 -19h0m1 -49h0m0 8h0m0 55h0m2 -72h0m1 74h0m3 15h0m1 -37h0m0 -5h0m1 60h0m0 -49h0m1 -20h0m1 -48h0m1 9h0m0 80h0m1 7h0m2 -74h0m2 42h0m0 -61h0m6 17h0m3 100h0m1 -58h0m4 -28h0m0 27h0m0 18h0m0 8h0m1 -44h0m0 39h0m2 -52h0m0 60h0m0 -22h0m1 7h0m0 -63h0m1 49h0m0 -13h0m0 -35h0m1 55h0m2 -11h0m0 -3h0m1 13h0m0 2h0m1 8h0m0 -56h0m0 36h0m0 -47h0m3 -13h0m1 40h0m0 50h0m7 -34h0m1 -28h0m2 9h0m1 31h0m1 -86h0m0 50h0m2 59h0m1 -16h0m0 -63h0m1 -9h0m5 19h0m5 2h0m1 -31h0m7 81h0m3 7h0m2 -102h0m1 7h0m3 76h0m0 -26h0m6 11h0m0 70h0m1 -11h0m1 -96h0m3 42h0m1 55h0m1 -38h0m0 -50h0m0 38h0m2 -19h0m0 -35h0m1 -8h0m0 59h0m2 27h0m2 -65h0m4 68h0m1 -69h0m0 0h0m0 42h0m2 34h0m0 -28h0m5 37h0m1 -6h0m0 3h0m0 -71h0m1 30h0m1 -9h0m2 85h0m4 -48h0m5 -47h0m1 14h0m1 72h0m0 -71h0m2 -18h0m2 -19h0m1 45h0m4 -43h0m1 15h0m1 78h0m4 -49h0m0 38h0m1 -35h0m5 -40h0m1 40h0m3 1h0m1 10h0m1 -55h0m0 31h0m5 4h0m1 0h0m3 11h0m0 -20h0m0 1h0m4 32h0m1 -12h0m1 46h0m0 -120h0m1 25h0m1 30h0m0 0h0m4 40h0m12 4h0m1 -25h0m1 -35h0m0 -11h0m1 40h0m1 -10h0m0 -46h0m0 52h0m1 -2h0m12 -2h0m1 16h0m1 -8h0m1 -60h0m1 48h0m1 36h0m1 -10h0m0 22h0m2 -73h0m1 20h0m1 -20h0m1 61h0m0 -51h0m1 65h0m0 -117h0m1 75h0m1 6h0m0 -15h0m1 -26h0m2 71h0m1 -83h0m1 43h0m4 25h0m4 -46h0m1 16h0m0 28h0m11 -22h0m0 -59h0m2 87h0m0 59h0m0 -78h0m1 0h0m1 -49h0m1 30h0m1 -35h0m1 49h0m5 12h0m3 -38h0m0 41h0m3 26h0m2 -58h0m1 59h0m0 8h0m1 -37h0m1 -55h0m2 51h0m1 -61h0m6 24h0m1 -48h0m7 44h0m7 -28h0m4 10h0m1 45h0m11 -83h0m17 32h0m6 7h0m2 15h0m2 21h0m0 8h0m3 -32h0m16 9h0m2 30h0m0 -28h0m0 -3h0m1 -76h0m2 47h0m6 -22h0m1 49h0m14 -12h0m2 44h0m6 -46h0m4 466h0m1 0h0m2 0h0m1 -68h0m1 68h0m1 0h0m1 0h0m2 -99h0m0 99h0m0 -261h0m0 105h0m2 156h0m0 -15h0m1 15h0m1 0h0m2 0h0m1 -5h0m1 5h0m1 0h0m1 0h0"/><path stroke-width="4.0" d="M130 680h0m1 -104h0m0 -4h0m3 -34h0m0 76h0m2 -32h0m1 26h0m4 10h0m1 10h0m6 -78h0m2 48h0m0 4h0m3 -33h0m1 33h0m4 -57h0m0 48h0m1 6h0m1 -30h0m1 -39h0m0 49h0m1 5h0m0 36h0m1 -82h0m2 40h0m3 -8h0m1 -1h0m1 0h0m1 47h0m0 -35h0m1 15h0m1 -3h0m0 18h0m1 -7h0m1 -50h0m3 55h0m6 -2h0m0 -28h0m1 33h0m0 1h0m1 -5h0m0 -17h0m1 28h0m0 -4h0m1 -62h0m2 5h0m2 34h0m0 -49h0m1 32h0m0 -14h0m1 -19h0m0 85h0m1 -47h0m0 31h0m1 -23h0m0 -15h0m0 -2h0m1 25h0m0 -10h0m0 -44h0m1 1h0m0 55h0m1 -15h0m1 0h0m0 -38h0m0 56h0m0 -4h0m0 -25h0m2 27h0m0 14h0m0 -18h0m1 1h0m0 -47h0m1 46h0m0 6h0m8 -8h0m3 -8h0m1 -30h0m0 61h0m17 -58h0m0 14h0m3 5h0m2 0h0m2 -46h0m0 37h0m2 -25h0m4 60h0m0 -9h0m2 -27h0m2 24h0m3 -24h0m0 56h0m0 -46h0m1 5h0m2 19h0m0 -7h0m1 7h0m1 2h0m1 25h0m0 -48h0m0 -33h0m1 13h0m1 93h0m0 -27h0m0 -18h0m1 -10h0m0 11h0m3 -2h0m2 -1h0m1 -27h0m2 -25h0m2 67h0m1 -94h0m0 70h0m1 27h0m5 -4h0m0 -17h0m1 -64h0m1 91h0m2 -65h0m0 -2h0m0 41h0m1 7h0m1 -9h0m1 -2h0m0 -59h0m4 72h0m1 -18h0m0 0h0m1 14h0m1 1h0m0 -12h0m1 -44h0m1 -16h0m0 5h0m0 106h0m0 -53h0m0 -1h0m2 13h0m0 -25h0m1 -11h0m0 27h0m0 17h0m1 -74h0m0 85h0m0 -20h0m1 -11h0m2 -4h0m0 9h0m0 -48h0m1 76h0m1 -55h0m1 -24h0m0 15h0m1 25h0m12 21h0m1 19h0m0 -43h0m2 -35h0m1 -8h0m0 38h0m3 11h0m0 14h0m1 50h0m0 -89h0m0 5h0m0 54h0m0 -71h0m1 40h0m1 16h0m0 -1h0m0 35h0m1 -48h0m1 10h0m1 21h0m2 -43h0m1 -5h0m1 -15h0m1 -8h0m0 46h0m0 -12h0m1 12h0m1 -4h0m1 27h0m0 -92h0m0 15h0m0 36h0m0 2h0m2 -49h0m0 50h0m0 -1h0m1 -14h0m0 41h0m0 -20h0m0 -28h0m1 22h0m0 -13h0m3 -4h0m0 -29h0m1 75h0m0 -16h0m2 -25h0m1 -30h0m1 24h0m0 -10h0m2 1h0m4 -31h0m2 16h0m1 -3h0m0 41h0m0 24h0m2 1h0m1 -24h0m0 -24h0m2 -2h0m0 41h0m1 26h0m1 -45h0m2 11h0m0 -45h0m1 11h0m3 36h0m1 6h0m1 31h0m0 -35h0m1 24h0m5 -66h0m1 -4h0m1 36h0m0 3h0m7 31h0m0 -11h0m1 -6h0m2 -28h0m0 58h0m1 -41h0m2 -45h0m1 53h0m0 -4h0m3 -21h0m1 -10h0m0 0h0m1 45h0m1 36h0m2 -49h0m1 -3h0m0 -8h0m3 31h0m0 -24h0m1 19h0m2 -42h0m1 7h0m0 -6h0m0 78h0m1 -75h0m1 -41h0m0 35h0m1 5h0m0 34h0m0 -44h0m1 25h0m1 -37h0m1 18h0m0 25h0m1 -66h0m1 50h0m3 8h0m0 2h0m1 -28h0m0 -24h0m0 65h0m3 -31h0m0 20h0m5 7h0m1 -26h0m1 -13h0m6 3h0m1 56h0m0 8h0m1 -71h0m1 38h0m0 -12h0m0 3h0m1 -27h0m0 -3h0m2 -4h0m2 51h0m3 -3h0m2 -9h0m0 6h0m1 8h0m0 11h0m3 -50h0m1 -7h0m3 41h0m3 47h0m1 -81h0m1 -11h0m0 44h0m4 -13h0m0 -10h0m0 2h0m1 35h0m1 -13h0m1 7h0m0 15h0m1 -63h0m0 65h0m1 -23h0m0 -4h0m1 6h0m0 9h0m0 -15h0m1 -58h0m1 58h0m1 29h0m0 -22h0m0 -20h0m1 -9h0m1 -41h0m0 63h0m0 -63h0m2 72h0m3 9h0m1 18h0m1 -28h0m1 -14h0m1 -23h0m2 62h0m0 14h0m1 -75h0m7 70h0m1 -6h0m1 -19h0m1 -11h0m0 -66h0m3 46h0m0 4h0m0 24h0m0 -13h0m1 -3h0m1 -13h0m1 24h0m0 -13h0m2 -5h0m1 -24h0m1 54h0m0 -81h0m0 61h0m1 28h0m1 -81h0m0 7h0m1 39h0m0 22h0m1 5h0m0 20h0m1 -63h0m0 -2h0m1 8h0m2 -13h0m0 7h0m1 51h0m1 -48h0m1 6h0m1 18h0m1 -53h0m1 40h0m2 31h0m0 -72h0m1 58h0m0 25h0m1 13h0m2 -26h0m1 75h0m3 -135h0m0 30h0m2 53h0m6 -68h0m0 -1h0m1 35h0m0 -9h0m0 -32h0m2 -13h0m1 65h0m2 -11h0m1 5h0m3 -9h0m0 -39h0m0 -25h0m1 20h0m0 53h0m0 -50h0m12 68h0m1 -51h0m4 20h0m1 -32h0m3 2h0m0 26h0m0 -44h0m1 59h0m0 -58h0m1 79h0m1 -77h0m0 53h0m1 -12h0m0 11h0m1 16h0m0 -41h0m0 48h0m1 -69h0m1 63h0m0 -56h0m0 2h0m0 13h0m0 -35h0m1 68h0m0 -56h0m2 -3h0m0 30h0m1 36h0m0 -18h0m1 -22h0m1 19h0m0 -39h0m1 -22h0m0 66h0m1 -67h0m0 73h0m0 -50h0m1 42h0m0 -65h0m0 48h0m0 -34h0m0 78h0m1 4h0m0 -85h0m0 39h0m1 -8h0m1 -2h0m0 48h0m0 -26h0m1 0h0m0 -4h0m0 3h0m1 32h0m0 -60h0m0 -20h0m1 -27h0m0 81h0m1 -7h0m0 -63h0m0 70h0m0 -18h0m1 31h0m0 13h0m0 -43h0m0 4h0m0 53h0m1 -38h0m0 -28h0m1 7h0m0 -8h0m0 -61h0m1 72h0m0 15h0m1 -62h0m2 48h0m3 -28h0m1 5h0m1 40h0m1 14h0m0 -49h0m0 16h0m0 11h0m1 21h0m1 -53h0m0 -10h0m2 28h0m1 2h0m0 62h0m0 -53h0m1 18h0m0 -80h0m1 42h0m1 26h0m0 -3h0m0 -40h0m0 -2h0m0 50h0m1 -43h0m1 34h0m0 -13h0m0 -36h0m1 45h0m0 28h0m1 9h0m0 -46h0m0 24h0m5 -33h0m1 40h0m0 -5h0m0 -18h0m0 12h0m1 -11h0m0 -36h0m2 81h0m1 -48h0m0 20h0m1 -20h0m1 32h0m2 -18h0m2 -3h0m1 35h0m0 -65h0m1 -2h0m0 -5h0m1 43h0m0 -7h0m0 -20h0m1 -32h0m0 49h0m1 -3h0m4 40h0m1 -88h0m1 6h0m2 -13h0m0 88h0m3 -25h0m0 9h0m2 -24h0m0 25h0m1 18h0m1 -51h0m0 35h0m0 2h0m0 -15h0m0 -48h0m0 60h0m1 -14h0m0 10h0m1 -65h0m0 40h0m0 -25h0m1 79h0m1 -109h0m0 28h0m0 7h0m0 47h0m1 13h0m0 -35h0m1 -31h0m1 26h0m1 13h0m1 12h0m2 12h0m0 -58h0m2 -11h0m1 26h0m3 61h0m3 -62h0m2 47h0m7 -56h0m1 14h0m1 50h0m1 -25h0m1 3h0m1 -2h0m0 29h0m2 -76h0m1 19h0m0 -2h0m0 -25h0m1 75h0m0 -23h0m0 -48h0m1 57h0m0 10h0m0 -39h0m1 -9h0m0 -2h0m1 -5h0m1 46h0m0 -3h0m0 -26h0m0 35h0m1 -12h0m1 -43h0m0 -1h0m0 48h0m3 -24h0m0 32h0m0 8h0m0 -64h0m3 -2h0m0 25h0m0 30h0m3 -4h0m1 -4h0m1 -17h0m2 33h0m3 0h0m3 -78h0m0 83h0m1 -59h0m0 0h0m2 -21h0m1 58h0m0 19h0m1 -13h0m4 -9h0m4 -45h0m1 72h0m1 22h0m2 9h0m0 -47h0m0 -65h0m0 -8h0m1 14h0m1 29h0m1 1h0m0 -5h0m0 41h0m1 -82h0m0 36h0m1 19h0m0 16h0m0 -36h0m0 9h0m1 96h0m0 -96h0m0 41h0m0 -16h0m1 -3h0m0 -14h0m0 -35h0m0 47h0m0 16h0m0 -22h0m0 11h0m1 -3h0m0 -68h0m1 87h0m0 1h0m1 -30h0m0 7h0m0 -2h0m1 -16h0m0 -20h0m1 11h0m1 21h0m0 20h0m1 -4h0m1 -29h0m0 35h0m0 -8h0m1 -55h0m1 -1h0m0 10h0m1 8h0m0 30h0m0 14h0m1 -34h0m0 36h0m0 -55h0m1 66h0m2 -54h0m0 32h0m0 19h0m0 -28h0m1 5h0m0 7h0m0 -26h0m0 -5h0m0 12h0m0 -3h0m0 11h0m2 -45h0m0 74h0m1 -68h0m1 20h0m1 2h0m1 31h0m1 -8h0m1 47h0m2 -92h0m0 -13h0m2 48h0m1 -1h0m0 29h0m0 -57h0m1 -12h0m0 60h0m0 -10h0m0 -44h0m1 -19h0m2 82h0m0 -77h0m1 37h0m3 50h0m2 -51h0m2 -1h0m1 -28h0m1 62h0m2 -65h0m0 24h0m4 -64h0m0 32h0m6 77h0m2 -28h0m0 -50h0m1 35h0m2 -42h0m0 4h0m1 35h0m0 27h0m3 60h0m0 -85h0m1 -29h0m5 6h0m0 -4h0m4 36h0m0 -34h0m2 47h0m1 -35h0m0 33h0m4 -5h0m4 11h0m0 -24h0m1 36h0m1 17h0m3 -53h0m3 41h0m1 -34h0m0 25h0m0 -61h0m4 22h0m3 18h0m0 -14h0m2 19h0m3 -23h0m0 -38h0m0 48h0m2 -3h0m0 18h0m2 -42h0m0 19h0m0 23h0m0 5h0m0 -33h0m0 64h0m0 -27h0m0 -40h0m1 17h0m0 29h0m1 -16h0m0 -50h0m0 76h0m0 2h0m1 -88h0m0 31h0m0 31h0m1 -10h0m2 8h0m1 -50h0m0 69h0m0 9h0m1 -38h0m0 -8h0m3 -37h0m2 60h0m0 -19h0m1 29h0m0 9h0m1 -5h0m0 -20h0m0 51h0m1 -51h0m0 -1h0m1 7h0m0 -55h0m0 -13h0m1 85h0m0 -15h0m1 -22h0m0 53h0m0 -54h0m1 38h0m1 -56h0m0 7h0m1 44h0m1 -25h0m0 25h0m1 -44h0m0 -6h0m1 -20h0m0 42h0m0 24h0m3 -14h0m0 2h0m0 -44h0m1 10h0m0 -18h0m0 32h0m1 17h0m0 -64h0m0 89h0m1 -15h0m0 -47h0m2 35h0m1 42h0m3 -92h0m2 42h0m0 -34h0m2 45h0m0 -13h0m1 21h0m2 -26h0m0 -26h0m1 54h0m0 -19h0m0 7h0m1 -15h0m1 31h0m1 -7h0m2 -39h0m2 24h0m1 -21h0m0 -20h0m2 22h0m1 6h0m1 -19h0m0 30h0m0 -81h0m1 75h0m0 5h0m1 33h0m2 -42h0m0 30h0m1 -12h0m2 14h0m0 -72h0m0 57h0m1 21h0m2 -91h0m0 59h0m1 9h0m3 28h0m2 -23h0m4 19h0m1 -40h0m2 -25h0m0 1h0m1 37h0m0 -37h0m5 75h0m1 -36h0m6 -47h0m0 -1h0m3 27h0m0 -2h0m1 60h0m0 -54h0m0 54h0m2 -76h0m1 49h0m1 -47h0m1 34h0m0 -10h0m1 50h0m2 -49h0m0 26h0m0 5h0m0 -63h0m2 -9h0m0 24h0m0 12h0m1 0h0m0 25h0m1 -55h0m0 55h0m0 -7h0m0 -40h0m1 9h0m0 -27h0m1 69h0m1 7h0m1 -38h0m0 -21h0m0 22h0m0 18h0m1 19h0m1 -21h0m1 15h0m1 17h0m3 -25h0m8 -49h0m0 49h0m1 -48h0m0 25h0m1 0h0m4 27h0m0 -8h0m2 -26h0m1 57h0m1 -75h0m0 72h0m1 -26h0m0 -32h0m0 69h0m1 -35h0m1 -2h0m0 -15h0m2 70h0m0 -83h0m0 -11h0m1 65h0m1 -28h0m2 -30h0m0 14h0m1 -49h0m1 83h0m1 -62h0m0 50h0m1 -64h0m1 49h0m1 47h0m3 -75h0m0 73h0m4 -34h0m2 50h0m4 -78h0m3 11h0m6 3h0m1 34h0m1 -30h0m0 -13h0m2 47h0m1 -42h0m1 48h0m0 -11h0m1 -13h0m0 -18h0m0 37h0m0 -5h0m1 -19h0m0 -16h0m0 53h0m0 -15h0m1 2h0m0 -5h0m1 -43h0m4 -22h0m1 84h0m0 -71h0m1 41h0m1 -53h0m0 -16h0m2 26h0m3 44h0m0 12h0m1 -10h0m0 -41h0m1 2h0m5 69h0m3 -13h0m2 -26h0m1 -47h0m0 25h0m0 36h0m0 -50h0m1 20h0m1 -26h0m1 37h0m0 12h0m0 -25h0m1 4h0m0 -17h0m5 6h0m5 -29h0m2 24h0m2 53h0m0 -98h0m1 84h0m0 -14h0m2 -44h0m1 46h0m0 12h0m1 -31h0m2 37h0m0 -37h0m0 -33h0m1 45h0m0 45h0m1 -31h0m0 -20h0m0 -17h0m0 22h0m1 -11h0m1 28h0m0 -8h0m0 12h0m0 -39h0m1 9h0m0 -1h0m0 62h0m0 -1h0m0 -30h0m0 -11h0m0 -27h0m2 -7h0m0 73h0m1 -21h0m0 -54h0m0 56h0m0 -72h0m1 62h0m1 -46h0m1 -9h0m0 65h0m0 -73h0m0 63h0m1 -46h0m1 54h0m2 -18h0m4 -7h0m1 11h0m0 7h0m1 3h0m1 -31h0m1 13h0m1 31h0m0 -6h0m0 -51h0m1 36h0m1 17h0m1 11h0m1 -71h0m2 67h0m2 -89h0m0 62h0m5 -36h0m3 49h0m1 -47h0m2 24h0m1 -19h0m2 46h0m0 -17h0m2 -11h0m2 1h0m1 18h0m0 -16h0m0 -9h0m0 37h0m1 1h0m0 -36h0m1 -33h0m2 62h0m0 -44h0m1 30h0m0 26h0m0 -21h0m1 24h0m4 -24h0m0 23h0m2 15h0m1 -40h0m2 -14h0m2 47h0m0 -68h0m3 46h0m1 -45h0m4 19h0m1 56h0m4 -89h0m3 13h0m3 -9h0m4 8h0m3 23h0m1 4h0m2 29h0m2 -51h0m0 -14h0m0 18h0m0 58h0m0 16h0m1 -105h0m0 53h0m0 -44h0m0 45h0m1 -30h0m0 -6h0m1 1h0m1 5h0m0 15h0m0 -1h0m1 6h0m0 28h0m0 -66h0m0 20h0m0 18h0m1 8h0m0 -26h0m0 34h0m1 -25h0m6 24h0m1 15h0m1 59h0m1 -79h0m1 13h0m0 50h0m0 -47h0m3 -37h0m1 -33h0m1 52h0m1 -26h0m0 -10h0m0 9h0m0 6h0m3 -1h0m3 -7h0m0 34h0m2 -6h0m1 -5h0m0 -13h0m4 -24h0m2 0h0m0 32h0m1 -19h0m0 11h0m1 -4h0m0 -21h0m1 28h0m0 -1h0m2 -27h0m1 8h0m0 -18h0m1 13h0m1 62h0m1 -31h0m1 -25h0m0 66h0m1 -43h0m1 16h0m2 29h0m0 -7h0m2 -31h0m2 41h0m1 13h0m1 -72h0m0 -21h0m2 6h0m0 27h0m1 -28h0m1 -10h0m1 6h0m1 56h0m2 -49h0m0 51h0m0 -53h0m1 35h0m1 10h0m0 -15h0m0 22h0m0 -59h0m2 72h0m0 -37h0m1 -3h0m0 -23h0m1 48h0m1 -55h0m2 1h0m0 19h0m0 29h0m1 8h0m0 1h0m1 -35h0m0 23h0m0 -37h0m2 11h0m0 -11h0m1 -14h0m0 29h0m0 19h0m0 11h0m0 18h0m0 -25h0m0 -44h0m1 -4h0m1 38h0m0 49h0m0 -53h0m1 35h0m0 -66h0m0 80h0m0 -57h0m1 -18h0m0 27h0m0 31h0m0 -11h0m1 -38h0m1 67h0m2 -37h0m0 -28h0m1 6h0m0 -38h0m1 40h0m0 -2h0m0 53h0m1 -23h0m0 -36h0m0 16h0m0 -31h0m1 -39h0m0 78h0m2 69h0m1 -64h0m1 1h0m2 -6h0m1 13h0m0 -101h0m0 105h0m1 -18h0m0 -29h0m1 -26h0m0 21h0m1 -18h0m0 36h0m1 -29h0m0 26h0m0 45h0m1 -34h0m0 44h0m3 -61h0m1 33h0m0 2h0m0 -32h0m3 52h0m0 -64h0m5 92h0m0 -48h0m0 -46h0m3 35h0m1 6h0m1 -6h0m1 -19h0m2 29h0m3 -23h0m1 -20h0m0 33h0m1 -4h0m0 -6h0m3 12h0m1 14h0m0 -3h0m0 -41h0m1 -5h0m0 71h0m1 -67h0m0 48h0m1 -71h0m0 92h0m0 -20h0m0 -29h0m1 72h0m0 -107h0m0 -2h0m1 38h0m0 -31h0m0 56h0m0 -12h0m17 25h0m6 -11h0m1 -44h0m2 49h0m3 -35h0m3 3h0m1 17h0m2 -14h0m1 35h0m2 -19h0m1 -56h0m0 30h0m1 -3h0m1 -10h0m2 64h0m1 -54h0m1 8h0m3 64h0m2 -43h0m0 21h0m1 -2h0m1 -1h0m1 -35h0m0 12h0m0 -8h0m1 -30h0m0 -4h0m1 48h0m0 -26h0m0 45h0m0 -5h0m0 23h0m0 -14h0m1 -65h0m0 76h0m1 -41h0m0 -28h0m1 1h0m0 43h0m1 59h0m1 -20h0m1 -77h0m1 45h0m0 -73h0m0 9h0m1 94h0m0 -84h0m1 -1h0m0 -36h0m0 55h0m0 16h0m0 -58h0m0 32h0m1 23h0m1 -3h0m0 2h0m1 16h0m1 14h0m0 -40h0m0 -9h0m1 9h0m1 8h0m0 -13h0m9 -34h0m0 45h0m0 -36h0m4 48h0m1 14h0m1 -58h0m6 -19h0m2 46h0m1 -5h0m1 -21h0m2 0h0m0 -13h0m0 85h0m1 -23h0m0 -73h0m0 80h0m2 -46h0m0 -20h0m0 -1h0m1 43h0m0 0h0m0 28h0m0 -10h0m1 -42h0m1 26h0m0 -3h0m0 25h0m5 -10h0m6 -12h0m2 -10h0m1 -46h0m0 44h0m0 13h0m1 -35h0m1 51h0m0 -64h0m1 20h0m2 19h0m1 -20h0m0 -16h0m1 16h0m0 22h0m1 16h0m0 32h0m1 -11h0m0 -19h0m0 -37h0m1 -21h0m0 32h0m0 -19h0m0 -12h0m1 44h0m0 5h0m0 -53h0m0 35h0m0 -15h0m1 28h0m1 -4h0m1 -21h0m0 8h0m1 35h0m0 -69h0m0 40h0m1 -25h0m1 61h0m0 -79h0m1 78h0m1 -25h0m0 -10h0m0 -44h0m0 132h0m0 -128h0m1 69h0m0 -15h0m0 -26h0m0 35h0m0 -2h0m1 19h0m0 -71h0m2 11h0m1 -31h0m1 32h0m1 -3h0m1 51h0m1 -64h0m0 129h0m3 -122h0m2 -1h0m0 71h0m1 -66h0m2 53h0m1 -52h0m1 27h0m0 16h0m0 22h0m0 -32h0m0 1h0m1 13h0m1 19h0m0 -6h0m1 -82h0m0 36h0m0 37h0m0 -23h0m1 16h0m0 27h0m0 -80h0m2 39h0m0 -63h0m3 36h0m1 29h0m1 22h0m0 -13h0m2 3h0m1 -25h0m1 17h0m0 -16h0m0 -39h0m1 26h0m1 44h0m0 -13h0m1 -13h0m0 10h0m1 10h0m0 3h0m1 -60h0m0 61h0m0 -60h0m2 67h0m3 -4h0m1 -54h0m0 38h0m0 -34h0m0 -37h0m0 74h0m1 4h0m0 -49h0m0 -12h0m0 66h0m0 33h0m2 -33h0m0 -14h0m0 -29h0m0 -20h0m1 33h0m0 6h0m1 22h0m0 -45h0m0 -6h0m0 65h0m1 -15h0m0 18h0m0 -25h0m1 -30h0m0 6h0m1 50h0m1 -55h0m0 7h0m0 12h0m2 -40h0m0 -4h0m0 67h0m1 19h0m0 -57h0m1 7h0m1 3h0m0 8h0m1 -18h0m1 50h0m0 -2h0m1 7h0m0 -31h0m1 -6h0m0 20h0m1 -12h0m0 31h0m1 -34h0m0 13h0m0 -49h0m2 25h0m0 2h0m0 39h0m0 -35h0m2 29h0m0 18h0m1 -107h0m0 76h0m1 11h0m0 -39h0m0 24h0m0 -55h0m1 24h0m1 -32h0m1 78h0m0 27h0m0 -16h0m1 -37h0m0 -20h0m2 22h0m1 -32h0m0 2h0m11 -22h0m2 68h0m2 14h0m1 -11h0m1 -8h0m2 49h0m1 -90h0m0 16h0m2 34h0m0 -2h0m1 -2h0m0 -17h0m0 4h0m0 13h0m1 -55h0m0 -14h0m2 64h0m0 13h0m1 6h0m1 -15h0m1 -60h0m0 43h0m3 22h0m0 -76h0m1 12h0m2 56h0m1 46h0m1 -3h0m0 -90h0m0 -17h0m1 69h0m0 -4h0m0 -47h0m0 14h0m0 -24h0m1 17h0m0 -5h0m0 -10h0m2 -1h0m0 17h0m1 -10h0m0 68h0m0 -24h0m1 -10h0m0 -39h0m0 47h0m0 -23h0m0 -31h0m1 16h0m1 26h0m1 -11h0m0 30h0m0 -8h0m1 -55h0m1 74h0m2 -31h0m1 1h0m0 11h0m1 56h0m3 -80h0m1 -11h0m4 15h0m4 0h0m0 13h0m1 -30h0m1 14h0m10 7h0m0 -23h0m3 -10h0m0 13h0m1 43h0m2 -66h0m3 72h0m0 -18h0m3 8h0m0 -4h0m4 3h0m2 -24h0m0 27h0m1 13h0m5 -52h0m6 66h0m3 -50h0m2 -29h0m6 89h0m2 -16h0m6 -13h0m1 -62h0m1 14h0m2 3h0m0 -16h0m1 -12h0m1 68h0m4 -1h0m7 -5h0m1 -13h0m7 -43h0m0 63h0m2 14h0m1 -7h0m1 -62h0m0 53h0m3 3h0m0 -58h0m1 50h0m1 9h0m1 -81h0m0 76h0m2 -71h0m1 62h0m0 -59h0m0 43h0m2 -28h0m1 58h0m0 -48h0m0 27h0m0 -4h0m1 37h0m0 -54h0m0 -11h0m1 47h0m0 -27h0m0 17h0m21 39h0m1 -18h0m0 -32h0m0 32h0m1 24h0m1 -60h0m2 43h0m0 -47h0m0 58h0m3 -18h0m1 -54h0m4 -5h0m3 19h0m4 40h0m0 4h0m1 -26h0m0 11h0m2 -7h0m0 -39h0m2 51h0m2 -48h0m2 37h0m8 36h0m0 -19h0m0 13h0m0 -13h0m1 -8h0m3 -7h0m0 -47h0m1 52h0m3 1h0m2 -12h0m0 5h0m4 -61h0m1 61h0m0 -30h0m1 50h0m1 -22h0m4 11h0m8 -20h0m0 -20h0m2 -18h0m2 -11h0m15 54h0m0 -45h0m0 59h0m1 -41h0m2 -23h0m0 49h0m1 -3h0m2 23h0m1 -65h0m2 84h0m1 -32h0m1 8h0m1 -30h0m1 9h0m1 -56h0m1 66h0m4 -4h0m1 25h0m0 -29h0m0 23h0m4 -28h0m1 13h0m0 -44h0m0 -22h0m0 73h0m0 15h0m1 -72h0m0 48h0m0 -73h0m0 85h0m0 -49h0m0 65h0m1 -66h0m0 77h0m0 12h0m1 -52h0m0 8h0m0 12h0m0 -46h0m1 37h0m0 -61h0m0 63h0m0 -71h0m0 92h0m0 -57h0m1 1h0m0 20h0m1 -25h0m0 7h0m0 14h0m1 45h0m2 -23h0m0 -10h0m0 18h0m1 -33h0m0 -39h0m0 11h0m2 43h0m0 -63h0m0 12h0m0 45h0m0 -31h0m1 69h0m0 -40h0m1 28h0m0 -23h0m1 32h0m0 -27h0m0 -12h0m0 8h0m0 11h0m2 3h0m1 20h0m0 -21h0m0 -62h0m0 70h0m0 -21h0m1 -54h0m4 84h0m1 -88h0m0 66h0m0 -15h0m3 35h0m0 -13h0m2 13h0m0 -16h0m1 15h0m0 -39h0m0 23h0m1 -4h0m0 -41h0m0 71h0m2 -42h0m0 8h0m2 -45h0m0 49h0m2 23h0m1 -5h0m3 -26h0m17 -30h0m0 3h0m1 17h0m0 9h0m0 12h0m0 60h0m1 -109h0m1 8h0m1 -12h0m0 74h0m1 -40h0m0 -33h0m2 -13h0m0 2h0m2 41h0m0 13h0m0 18h0m2 9h0m0 -94h0m1 12h0m0 5h0m1 88h0m0 -83h0m0 30h0m0 -4h0m1 -4h0m0 -12h0m0 40h0m0 -38h0m1 -2h0m0 35h0m1 3h0m0 6h0m1 -19h0m0 -19h0m0 33h0m1 -78h0m1 82h0m1 20h0m0 -65h0m1 11h0m0 -9h0m0 11h0m1 48h0m0 -92h0m1 66h0m0 -16h0m0 -49h0m1 58h0m1 -22h0m0 56h0m0 -100h0m0 108h0m1 -9h0m1 -108h0m1 103h0m2 -49h0m0 7h0m2 37h0m0 -34h0m6 -24h0m2 3h0m2 10h0m0 0h0m1 39h0m2 -45h0m1 37h0m1 -15h0m0 -16h0m1 -16h0m1 -2h0m2 -3h0m1 2h0m0 61h0m1 -69h0m2 58h0m0 -7h0m0 -40h0m0 58h0m1 -75h0m0 22h0m0 51h0m2 -34h0m1 47h0m0 -7h0m5 -44h0m2 46h0m1 -42h0m0 -9h0m3 44h0m0 -14h0m2 5h0m0 -6h0m2 15h0m2 -31h0m4 -43h0m1 39h0m2 -19h0m0 74h0m3 -43h0m0 38h0m0 9h0m0 -21h0m1 -15h0m0 27h0m0 -27h0m0 12h0m12 99h0m1 -95h0m0 -11h0m1 -31h0m1 -19h0m1 -1h0m2 38h0m2 -30h0m6 22h0m0 -25h0m0 58h0m0 -46h0m1 13h0m1 32h0m1 -9h0m1 -23h0m1 -44h0m0 77h0m0 -86h0m4 100h0m0 -79h0m1 41h0m0 -38h0m0 87h0m1 -70h0m1 49h0m0 -62h0m0 52h0m1 -1h0m2 7h0m0 -16h0m0 -34h0m0 -1h0m6 32h0m7 22h0m3 -26h0m0 9h0m1 -34h0m0 51h0m1 26h0m1 -54h0m1 -36h0m3 15h0m1 85h0m1 -44h0m0 7h0m1 22h0m0 35h0m1 -57h0m0 -46h0m0 0h0m1 10h0m0 20h0m1 -15h0m3 38h0m0 11h0m2 -55h0m3 -15h0m2 -9h0m1 35h0m1 28h0m0 -16h0m1 -22h0m2 -5h0m0 -3h0m1 74h0m0 -111h0m1 27h0m1 75h0m1 -23h0m2 -60h0m1 25h0m0 11h0m0 10h0m1 -41h0m0 -22h0m0 100h0m1 -40h0m1 -14h0m0 45h0m1 -43h0m1 -42h0m0 84h0m1 -11h0m1 -30h0m1 38h0m1 -63h0m1 45h0m1 -55h0m5 36h0m0 -16h0m0 -10h0m1 -9h0m0 -13h0m1 26h0m0 19h0m1 -33h0m0 53h0m0 6h0m1 15h0m0 -56h0m1 60h0m0 -33h0m1 -2h0m1 -68h0m0 36h0m0 15h0m6 28h0m2 -32h0m1 77h0m1 -113h0m2 19h0m2 21h0m2 -19h0m5 0h0m0 31h0m2 -10h0m0 27h0m1 31h0m0 -65h0m3 51h0m0 8h0m1 -37h0m0 -6h0m4 -39h0m2 8h0m7 21h0m0 -6h0m1 33h0m2 -82h0m2 41h0m2 -25h0m4 32h0m0 38h0m0 6h0m0 -23h0m1 -34h0m2 9h0m0 8h0m0 76h0m0 -86h0m1 -29h0m0 74h0m0 -32h0m1 84h0m3 -50h0m2 6h0m1 18h0m5 -3h0m4 20h0m1 -30h0m0 -7h0m1 -18h0m1 23h0m1 -44h0m0 35h0m0 -55h0m2 -6h0m0 47h0m2 -6h0m0 19h0m0 5h0m0 10h0m1 -14h0m1 9h0m2 -19h0m3 -34h0m0 26h0m1 65h0m0 -25h0m1 -46h0m0 26h0m0 4h0m1 2h0m0 -8h0m0 -20h0m1 -10h0m0 28h0m2 -5h0m4 -18h0m1 30h0m0 -74h0m1 49h0m1 -42h0m0 -16h0m2 45h0m2 -11h0m0 -17h0m1 11h0m1 39h0m1 -46h0m1 -14h0m1 -6h0m0 15h0m2 46h0m0 16h0m2 -3h0m3 -32h0m0 -26h0m2 76h0m0 -34h0m0 3h0m0 -61h0m1 60h0m0 -46h0m1 6h0m0 41h0m1 -5h0m1 10h0m0 -36h0m1 9h0m0 21h0m1 -7h0m4 33h0m4 -50h0m0 66h0m1 -90h0m0 1h0m5 31h0m1 -12h0m1 -24h0m1 -2h0m0 29h0m13 -26h0m3 35h0m0 -11h0m0 26h0m0 5h0m1 -15h0m0 -8h0m2 11h0m0 -20h0m0 26h0m0 24h0m1 -78h0m0 120h0m1 -120h0m0 74h0m0 -77h0m0 49h0m1 18h0m0 -28h0m0 31h0m1 15h0m0 -17h0m0 7h0m0 -57h0m0 53h0m0 2h0m1 -85h0m0 66h0m1 -4h0m0 15h0m1 -21h0m0 44h0m0 -59h0m2 -3h0m0 -4h0m1 25h0m1 -24h0m2 50h0m1 -36h0m0 -14h0m0 41h0m1 -8h0m0 -48h0m0 46h0m0 -1h0m4 -33h0m0 48h0m2 14h0m0 -80h0m11 56h0m0 -31h0m0 -5h0m1 39h0m0 -54h0m0 75h0m0 -37h0m1 42h0m1 -54h0m0 17h0m1 0h0m0 14h0m1 -2h0m0 9h0m0 -34h0m1 18h0m0 -55h0m2 44h0m0 -2h0m0 45h0m1 -5h0m0 -12h0m1 -32h0m0 -7h0m0 39h0m0 3h0m2 -36h0m1 -39h0m1 73h0m1 3h0m6 5h0m1 24h0m1 -44h0m1 -49h0m3 9h0m5 -26h0m3 65h0m1 -66h0m1 35h0m1 -35h0m1 7h0m3 6h0m1 -23h0m3 25h0m6 6h0m1 40h0m0 -44h0m2 26h0m3 -77h0m2 11h0m4 32h0m5 35h0m1 -48h0m1 36h0m0 -34h0m2 41h0m5 -93h0m3 99h0m5 -52h0m0 9h0m4 3h0m3 26h0m3 -15h0m4 -48h0m8 46h0m1 -8h0m3 -19h0m5 11h0m2 6h0m10 38h0m3 10h0m0 -25h0m3 -28h0m1 -51h0m0 25h0m1 79h0m8 -47h0"/><path stroke-width="5.0" d="M127 575h0m0 -20h0m3 29h0m2 -42h0m3 23h0m1 17h0m3 -10h0m2 3h0m1 10h0m2 -34h0m1 43h0m4 -48h0m2 22h0m4 38h0m3 5h0m2 -12h0m1 -43h0m1 14h0m2 52h0m1 -69h0m3 10h0m1 1h0m1 39h0m0 0h0m1 23h0m2 -46h0m1 -48h0m0 60h0m1 45h0m0 -52h0m0 -41h0m1 -8h0m1 81h0m5 -47h0m1 50h0m3 -28h0m0 11h0m1 -15h0m0 -47h0m0 68h0m0 -21h0m0 -29h0m1 32h0m0 -11h0m1 -2h0m0 -25h0m1 33h0m0 -5h0m3 -8h0m0 10h0m0 -45h0m0 53h0m0 -23h0m0 15h0m1 2h0m0 22h0m1 0h0m1 -51h0m0 57h0m0 -59h0m1 55h0m0 -31h0m0 -2h0m1 3h0m0 18h0m1 -34h0m0 -18h0m0 11h0m1 38h0m2 -21h0m0 -25h0m1 63h0m0 -28h0m0 8h0m1 8h0m0 -13h0m0 38h0m0 -6h0m1 -16h0m0 -3h0m1 -45h0m0 45h0m0 -48h0m2 51h0m1 -46h0m23 16h0m1 48h0m1 -79h0m0 43h0m1 -5h0m3 8h0m1 -39h0m1 36h0m2 17h0m0 -43h0m0 30h0m0 -34h0m2 2h0m2 44h0m1 -28h0m1 -59h0m0 108h0m2 -72h0m0 55h0m2 5h0m2 23h0m1 -55h0m0 20h0m1 -17h0m1 -18h0m0 23h0m1 -51h0m1 48h0m1 19h0m0 41h0m0 -43h0m1 6h0m0 -9h0m1 4h0m0 19h0m0 -32h0m2 20h0m3 -60h0m4 60h0m1 0h0m2 -48h0m1 22h0m1 -18h0m2 27h0m1 -48h0m0 67h0m1 -4h0m0 -36h0m3 3h0m2 9h0m0 27h0m1 13h0m1 -13h0m1 -40h0m2 21h0m0 -19h0m1 18h0m0 6h0m1 -27h0m0 0h0m2 31h0m0 -38h0m1 2h0m0 77h0m1 -35h0m0 3h0m0 -13h0m1 -30h0m0 -10h0m1 61h0m3 -44h0m0 -25h0m1 66h0m0 -11h0m0 -34h0m1 41h0m0 -8h0m2 16h0m1 10h0m0 -27h0m2 0h0m0 -9h0m9 -25h0m0 43h0m0 17h0m1 -43h0m1 38h0m0 -53h0m1 -5h0m0 22h0m1 -34h0m0 48h0m1 33h0m2 -69h0m0 67h0m0 -51h0m0 25h0m1 0h0m0 -22h0m0 -31h0m0 66h0m1 8h0m0 -41h0m0 -6h0m1 18h0m1 -28h0m0 -3h0m1 28h0m0 42h0m0 -27h0m1 2h0m1 -33h0m0 -17h0m0 6h0m0 43h0m0 -37h0m2 36h0m0 -18h0m1 -26h0m0 15h0m0 22h0m1 -35h0m1 -1h0m1 60h0m0 -68h0m0 41h0m1 -43h0m1 6h0m0 27h0m1 50h0m0 -58h0m0 28h0m0 15h0m1 -14h0m0 -54h0m1 75h0m0 -34h0m0 -37h0m1 44h0m0 -49h0m0 50h0m0 5h0m1 -60h0m2 15h0m0 47h0m0 -60h0m1 82h0m0 -58h0m2 8h0m2 13h0m1 -8h0m4 31h0m0 6h0m1 -10h0m0 -55h0m0 27h0m1 -44h0m0 87h0m1 -33h0m0 -17h0m0 21h0m1 -60h0m0 76h0m0 -23h0m0 -37h0m1 -23h0m1 85h0m1 16h0m0 -63h0m2 -18h0m1 55h0m1 -24h0m5 37h0m3 -26h0m2 -47h0m2 -5h0m0 4h0m0 77h0m1 -38h0m1 -16h0m1 -16h0m5 33h0m1 -40h0m0 63h0m1 -59h0m3 51h0m1 15h0m4 13h0m0 -81h0m3 52h0m1 -20h0m1 43h0m2 -63h0m1 49h0m1 -23h0m1 -18h0m0 20h0m1 1h0m2 10h0m1 -3h0m0 11h0m1 -49h0m0 -12h0m0 20h0m2 23h0m2 -57h0m0 -9h0m1 74h0m1 -30h0m0 23h0m1 -1h0m0 45h0m0 -41h0m0 -15h0m0 30h0m1 -23h0m0 10h0m0 24h0m1 -87h0m0 13h0m0 41h0m0 8h0m2 -3h0m1 -13h0m0 -29h0m0 53h0m0 -8h0m2 -18h0m1 22h0m0 5h0m0 -12h0m1 -36h0m0 19h0m1 -3h0m5 -21h0m4 8h0m0 35h0m0 4h0m1 -28h0m2 12h0m0 -8h0m1 41h0m0 -26h0m1 -28h0m0 -5h0m1 73h0m0 -54h0m1 10h0m1 3h0m0 -75h0m1 57h0m0 60h0m2 -71h0m2 -23h0m0 81h0m0 12h0m3 -43h0m0 18h0m1 -17h0m1 -26h0m2 21h0m3 47h0m0 24h0m1 -74h0m2 -41h0m2 93h0m2 -29h0m2 1h0m2 -23h0m1 -9h0m1 34h0m1 -73h0m1 56h0m1 -9h0m0 12h0m0 11h0m1 -37h0m0 50h0m0 -60h0m0 72h0m1 -72h0m0 90h0m0 -64h0m1 5h0m2 -40h0m0 45h0m0 3h0m1 -26h0m0 -5h0m1 47h0m1 -21h0m0 -3h0m1 12h0m3 -8h0m0 -17h0m0 38h0m1 -80h0m1 35h0m0 38h0m0 -30h0m2 20h0m1 -38h0m0 54h0m1 -26h0m0 51h0m2 -31h0m4 -4h0m0 -19h0m0 17h0m0 -42h0m2 -6h0m0 65h0m0 -17h0m6 -11h0m1 37h0m0 -47h0m1 15h0m0 -14h0m2 15h0m0 -40h0m0 39h0m0 -8h0m0 40h0m1 -2h0m1 -1h0m0 -10h0m1 -32h0m0 19h0m0 -64h0m1 99h0m0 -25h0m1 15h0m0 -83h0m0 66h0m1 0h0m0 -5h0m0 -11h0m0 3h0m0 -41h0m0 60h0m1 4h0m1 -49h0m1 52h0m1 -25h0m1 -30h0m0 -6h0m2 8h0m1 55h0m1 -17h0m2 -51h0m2 47h0m1 2h0m2 13h0m1 -58h0m0 52h0m1 23h0m1 -44h0m0 15h0m1 26h0m2 -7h0m1 -20h0m2 -7h0m2 -8h0m0 -1h0m0 -20h0m3 1h0m0 -2h0m0 -14h0m1 55h0m0 -50h0m0 51h0m0 -10h0m0 28h0m1 -67h0m0 23h0m2 28h0m1 1h0m0 -42h0m0 -25h0m1 30h0m0 19h0m1 -13h0m0 22h0m0 -2h0m1 -48h0m12 50h0m0 -13h0m2 -15h0m0 -1h0m0 5h0m1 -4h0m0 35h0m2 -25h0m2 -20h0m0 52h0m0 -7h0m1 -31h0m0 -13h0m1 -9h0m1 32h0m0 -12h0m0 -6h0m1 3h0m0 43h0m0 9h0m0 -96h0m1 40h0m1 52h0m0 -69h0m0 38h0m0 2h0m1 -13h0m0 16h0m0 -38h0m1 45h0m0 -26h0m0 -12h0m0 46h0m0 -59h0m1 1h0m1 -3h0m1 38h0m1 -29h0m0 7h0m0 31h0m0 -47h0m1 27h0m1 29h0m0 -60h0m1 52h0m1 37h0m0 -20h0m0 18h0m0 -6h0m0 -84h0m0 103h0m0 -26h0m0 -68h0m2 27h0m0 -18h0m0 34h0m1 -30h0m0 6h0m0 52h0m1 16h0m0 -3h0m0 -26h0m0 -20h0m1 24h0m0 -15h0m1 -59h0m0 85h0m0 40h0m1 -108h0m0 66h0m0 -56h0m0 -5h0m3 62h0m2 1h0m0 -15h0m0 -43h0m3 7h0m0 3h0m1 11h0m0 -11h0m1 15h0m2 -9h0m0 3h0m0 -47h0m1 47h0m1 16h0m0 23h0m1 -44h0m0 32h0m0 -32h0m0 5h0m1 16h0m0 -36h0m1 -14h0m1 52h0m0 -9h0m0 26h0m1 -51h0m0 41h0m0 -16h0m0 -6h0m0 -12h0m0 8h0m1 -3h0m0 -11h0m0 5h0m0 45h0m0 -15h0m0 -17h0m1 23h0m0 -4h0m1 -7h0m0 -21h0m1 -43h0m1 56h0m0 -35h0m1 13h0m0 37h0m0 -75h0m1 94h0m0 -34h0m0 -37h0m0 17h0m0 -1h0m0 0h0m1 -17h0m1 51h0m1 17h0m0 -11h0m0 -53h0m0 13h0m0 50h0m1 -72h0m3 33h0m0 24h0m1 16h0m1 -5h0m1 -72h0m1 31h0m0 45h0m1 -28h0m0 -28h0m1 -10h0m1 53h0m0 -25h0m3 13h0m1 -37h0m1 45h0m3 -21h0m1 18h0m0 -43h0m4 34h0m0 2h0m2 -56h0m1 20h0m1 72h0m4 -8h0m0 -16h0m1 2h0m0 -59h0m0 80h0m1 -31h0m0 23h0m1 -4h0m0 -9h0m0 29h0m0 -29h0m1 26h0m0 -64h0m0 39h0m0 -22h0m2 51h0m0 29h0m0 -37h0m0 -2h0m0 -30h0m0 11h0m0 -29h0m0 7h0m1 -18h0m0 36h0m0 -5h0m1 0h0m1 32h0m0 -39h0m0 5h0m1 6h0m0 10h0m1 -9h0m0 -43h0m0 -6h0m4 5h0m0 40h0m3 -28h0m0 39h0m3 1h0m4 -19h0m1 -6h0m3 -42h0m1 89h0m3 -7h0m1 -28h0m0 81h0m2 -102h0m0 -38h0m1 10h0m0 82h0m0 -64h0m1 43h0m1 -72h0m1 52h0m2 50h0m0 -31h0m0 -53h0m1 67h0m0 -16h0m1 -36h0m0 54h0m1 3h0m0 -106h0m0 27h0m0 2h0m1 50h0m0 5h0m0 -5h0m1 -4h0m0 -6h0m0 15h0m0 -20h0m0 24h0m0 -33h0m0 6h0m1 22h0m0 -35h0m1 26h0m0 -14h0m0 20h0m1 -4h0m0 -37h0m1 2h0m1 -22h0m2 31h0m1 -11h0m1 28h0m1 14h0m4 -39h0m0 47h0m1 34h0m1 -36h0m1 8h0m1 -12h0m1 -1h0m0 8h0m2 -36h0m0 13h0m2 -39h0m2 33h0m0 36h0m0 -34h0m1 12h0m2 -42h0m0 53h0m1 -32h0m0 15h0m1 57h0m1 -25h0m1 -58h0m1 40h0m0 -6h0m1 -38h0m0 31h0m2 -21h0m0 15h0m1 14h0m0 7h0m1 -30h0m0 36h0m0 -54h0m0 14h0m1 38h0m1 -56h0m1 47h0m0 -38h0m0 34h0m0 16h0m2 -50h0m0 59h0m1 23h0m0 -37h0m0 -41h0m0 -12h0m2 34h0m1 -35h0m0 89h0m1 -36h0m2 -50h0m0 12h0m0 74h0m0 -21h0m1 10h0m0 -8h0m1 -57h0m1 41h0m0 -32h0m1 5h0m1 -23h0m0 29h0m1 8h0m1 0h0m1 7h0m2 -18h0m0 41h0m1 -37h0m1 20h0m0 -34h0m0 12h0m0 -38h0m0 21h0m1 -12h0m0 72h0m0 -67h0m0 15h0m1 17h0m0 8h0m0 -40h0m1 3h0m0 3h0m0 28h0m1 -21h0m0 -2h0m0 6h0m0 -37h0m1 19h0m0 59h0m0 -17h0m0 5h0m1 -27h0m1 -21h0m4 0h0m0 20h0m0 39h0m1 5h0m2 -58h0m0 53h0m1 -36h0m4 5h0m1 -26h0m0 13h0m5 33h0m6 -1h0m2 -44h0m1 8h0m0 37h0m1 -11h0m0 -49h0m1 91h0m1 -6h0m0 -86h0m0 57h0m1 19h0m0 -28h0m0 -8h0m1 8h0m0 7h0m0 -23h0m1 -22h0m5 31h0m1 -40h0m0 41h0m8 -40h0m1 25h0m1 29h0m0 -50h0m1 16h0m1 -2h0m0 -3h0m0 -13h0m1 60h0m0 -22h0m1 -27h0m1 13h0m1 -27h0m0 32h0m0 41h0m0 -43h0m2 37h0m2 -62h0m2 26h0m3 15h0m4 40h0m0 -100h0m0 38h0m1 41h0m3 -29h0m0 -48h0m0 40h0m0 -8h0m1 5h0m0 4h0m1 -7h0m0 39h0m1 -7h0m0 -13h0m1 -22h0m0 31h0m1 -36h0m1 -13h0m0 23h0m0 36h0m1 -24h0m0 44h0m0 -74h0m0 27h0m2 -24h0m0 25h0m0 -22h0m0 32h0m0 -11h0m1 -6h0m0 80h0m1 -61h0m0 -66h0m0 119h0m1 -93h0m0 66h0m1 -47h0m0 23h0m1 -24h0m0 -4h0m0 -28h0m0 21h0m0 20h0m1 -41h0m1 17h0m0 2h0m0 13h0m1 -21h0m1 27h0m0 15h0m1 21h0m0 10h0m0 -59h0m0 -1h0m1 4h0m3 23h0m1 -26h0m0 52h0m0 -33h0m1 -19h0m0 -2h0m0 17h0m1 27h0m0 -29h0m0 17h0m1 -39h0m1 38h0m0 -41h0m0 17h0m1 41h0m0 -7h0m0 -58h0m1 18h0m0 -23h0m0 17h0m0 5h0m0 46h0m0 -17h0m0 31h0m1 -99h0m0 48h0m1 61h0m0 -34h0m0 3h0m0 -7h0m0 -32h0m3 -10h0m0 19h0m2 46h0m1 12h0m0 -30h0m1 -50h0m1 73h0m0 -57h0m1 -21h0m0 43h0m1 -26h0m0 -8h0m2 57h0m3 -9h0m1 -17h0m1 22h0m1 -28h0m1 -7h0m0 13h0m3 27h0m0 -56h0m0 -8h0m0 11h0m1 13h0m0 26h0m1 10h0m0 -59h0m1 14h0m0 74h0m0 -16h0m0 -85h0m2 96h0m1 -76h0m0 49h0m2 21h0m1 -46h0m1 -19h0m0 51h0m0 -22h0m0 -1h0m0 -29h0m0 32h0m1 -52h0m0 4h0m2 47h0m1 -21h0m1 -33h0m1 27h0m3 -32h0m2 70h0m2 47h0m1 -63h0m0 -31h0m1 70h0m1 -18h0m2 -15h0m2 -2h0m5 15h0m0 -37h0m1 -5h0m1 33h0m1 15h0m0 -33h0m4 34h0m0 -27h0m0 -2h0m3 -10h0m3 2h0m0 25h0m0 -25h0m1 -8h0m1 55h0m1 -21h0m0 -42h0m1 35h0m2 8h0m1 -69h0m0 92h0m1 -80h0m0 11h0m0 34h0m0 -21h0m0 77h0m0 -105h0m0 71h0m1 15h0m0 -56h0m1 18h0m0 -22h0m0 -32h0m2 40h0m1 -47h0m0 58h0m0 -39h0m0 -1h0m0 48h0m0 -7h0m1 23h0m0 -31h0m1 10h0m0 34h0m1 -48h0m1 44h0m0 9h0m0 -61h0m1 63h0m1 -87h0m2 14h0m1 6h0m2 0h0m0 42h0m1 -16h0m0 1h0m1 9h0m2 -7h0m1 -2h0m7 -60h0m0 14h0m1 71h0m0 -32h0m1 15h0m0 -10h0m1 -37h0m0 23h0m1 18h0m1 38h0m1 -67h0m0 -20h0m1 59h0m0 -1h0m1 24h0m1 -21h0m1 -23h0m1 16h0m2 -29h0m1 28h0m1 -7h0m0 -36h0m0 47h0m0 -32h0m1 35h0m0 -27h0m1 46h0m1 -5h0m0 -62h0m0 55h0m1 -6h0m1 -36h0m0 52h0m1 -42h0m2 50h0m0 -80h0m1 3h0m2 58h0m6 -8h0m6 -70h0m0 68h0m2 -7h0m2 0h0m0 -16h0m0 -11h0m2 24h0m0 19h0m1 -27h0m0 -42h0m0 47h0m1 -40h0m0 -3h0m1 14h0m0 53h0m1 -17h0m0 -17h0m1 27h0m1 -20h0m0 16h0m0 -53h0m1 35h0m1 49h0m0 -63h0m1 42h0m0 0h0m1 -11h0m0 10h0m1 -62h0m0 56h0m0 13h0m0 28h0m1 -72h0m0 -15h0m2 18h0m0 -4h0m1 -7h0m1 22h0m0 -38h0m0 44h0m0 21h0m0 -7h0m2 -8h0m1 -4h0m0 9h0m1 -22h0m1 39h0m0 -32h0m2 25h0m1 -51h0m0 -16h0m1 35h0m1 9h0m3 11h0m1 -26h0m0 40h0m1 -31h0m0 34h0m6 14h0m0 -48h0m1 30h0m0 -12h0m1 20h0m1 -69h0m0 -7h0m1 16h0m0 40h0m0 36h0m0 -32h0m0 39h0m1 -78h0m0 20h0m0 -21h0m0 49h0m0 -15h0m1 -64h0m0 56h0m1 6h0m1 16h0m4 3h0m2 -45h0m1 33h0m2 -51h0m0 -17h0m1 -7h0m0 67h0m1 -7h0m2 -34h0m1 29h0m0 34h0m1 16h0m0 3h0m1 -16h0m1 -5h0m1 -18h0m0 -34h0m1 33h0m0 -47h0m1 55h0m0 -12h0m0 -15h0m1 18h0m0 2h0m0 -44h0m0 22h0m0 -2h0m1 32h0m0 7h0m0 -54h0m1 21h0m0 -18h0m0 22h0m1 -5h0m0 11h0m0 -55h0m0 45h0m0 22h0m0 -34h0m1 35h0m0 6h0m0 53h0m1 -51h0m1 -24h0m0 39h0m0 6h0m0 -44h0m1 30h0m0 -23h0m0 38h0m0 -47h0m0 -7h0m0 2h0m0 15h0m1 -43h0m0 5h0m0 52h0m1 3h0m2 -28h0m0 -3h0m1 52h0m0 -16h0m1 -75h0m0 49h0m2 -46h0m1 85h0m1 -24h0m0 -38h0m0 -24h0m1 55h0m0 28h0m0 -26h0m1 -20h0m1 0h0m0 16h0m0 -5h0m0 -6h0m1 31h0m0 -25h0m0 12h0m1 9h0m2 -49h0m0 -20h0m0 27h0m1 -1h0m0 -16h0m1 13h0m1 31h0m6 -41h0m3 9h0m1 -25h0m2 39h0m2 -32h0m1 77h0m0 -54h0m1 -1h0m1 -36h0m0 81h0m0 -37h0m1 -4h0m0 -34h0m0 63h0m2 -1h0m0 -13h0m0 20h0m1 -44h0m0 13h0m0 -26h0m0 16h0m1 7h0m1 15h0m0 -7h0m0 -11h0m1 32h0m1 -34h0m0 7h0m0 1h0m2 -6h0m0 50h0m0 -28h0m5 33h0m1 -12h0m1 -38h0m1 31h0m0 -29h0m0 21h0m1 -39h0m1 66h0m3 -61h0m0 45h0m1 -4h0m1 -49h0m0 75h0m5 -74h0m0 46h0m0 -29h0m0 31h0m1 -50h0m5 48h0m1 -24h0m1 -12h0m0 21h0m0 9h0m3 -45h0m0 48h0m8 -33h0m1 43h0m0 -15h0m1 -26h0m0 13h0m0 -27h0m1 1h0m1 39h0m0 -48h0m0 21h0m0 -1h0m1 14h0m0 9h0m0 -58h0m1 60h0m0 -59h0m0 62h0m1 -46h0m0 15h0m0 35h0m0 -56h0m1 44h0m1 -35h0m0 -18h0m0 59h0m1 -44h0m0 1h0m0 60h0m1 -11h0m1 9h0m1 -19h0m0 29h0m1 -27h0m0 -53h0m0 59h0m0 1h0m0 -30h0m0 -5h0m1 47h0m1 -16h0m2 20h0m4 4h0m0 -82h0m1 60h0m0 -16h0m0 -16h0m1 -20h0m0 60h0m0 10h0m1 5h0m0 -41h0m1 14h0m0 -40h0m1 -32h0m0 58h0m0 -30h0m2 -11h0m0 72h0m1 -73h0m0 101h0m3 -27h0m2 -76h0m1 78h0m2 -67h0m0 27h0m1 -5h0m0 32h0m0 8h0m0 -30h0m1 -20h0m1 32h0m0 2h0m0 -38h0m1 62h0m0 -23h0m1 -43h0m0 -7h0m0 25h0m1 32h0m0 -38h0m0 -13h0m1 50h0m0 -40h0m0 -12h0m1 28h0m0 4h0m0 23h0m2 23h0m1 -54h0m1 -17h0m0 43h0m0 -59h0m0 52h0m1 28h0m0 -63h0m1 -3h0m0 17h0m1 27h0m0 13h0m0 -19h0m1 -2h0m0 15h0m1 -44h0m1 39h0m1 -29h0m1 22h0m0 5h0m2 -28h0m0 37h0m0 -52h0m0 21h0m2 44h0m0 -33h0m1 20h0m4 -5h0m0 2h0m0 7h0m1 -14h0m0 -29h0m0 2h0m1 -2h0m1 -4h0m1 6h0m0 -4h0m0 20h0m0 -41h0m0 32h0m1 21h0m1 4h0m0 7h0m0 -57h0m0 -4h0m0 48h0m2 17h0m0 -64h0m0 -2h0m0 96h0m0 -89h0m1 -2h0m1 31h0m0 13h0m0 -34h0m1 32h0m1 23h0m1 -63h0m0 28h0m0 -45h0m1 43h0m0 -42h0m1 -1h0m0 38h0m1 20h0m1 6h0m0 -9h0m0 7h0m0 -2h0m1 -34h0m0 -31h0m0 50h0m0 19h0m0 -35h0m0 39h0m0 -16h0m0 -57h0m1 91h0m1 -26h0m1 -65h0m0 50h0m0 -51h0m0 74h0m0 -40h0m1 -1h0m0 -12h0m1 69h0m1 -2h0m1 -27h0m0 -59h0m0 63h0m0 -47h0m1 85h0m0 -76h0m0 54h0m0 -54h0m1 68h0m0 -58h0m1 36h0m0 20h0m0 0h0m0 -41h0m1 -26h0m0 69h0m0 2h0m0 -45h0m0 -56h0m1 68h0m0 -54h0m1 8h0m2 30h0m0 9h0m2 -19h0m1 31h0m0 33h0m0 -60h0m1 -17h0m0 6h0m0 2h0m1 -19h0m0 11h0m1 -18h0m0 33h0m0 6h0m0 27h0m1 -34h0m0 15h0m0 -16h0m0 53h0m0 -25h0m1 -56h0m3 88h0m1 -51h0m0 -46h0m0 36h0m1 37h0m0 1h0m4 -18h0m3 -7h0m0 25h0m1 -32h0m0 -2h0m1 -3h0m1 -19h0m7 43h0m0 22h0m1 -42h0m1 51h0m0 -71h0m1 45h0m1 -36h0m0 8h0m0 13h0m1 10h0m0 36h0m1 -49h0m0 -20h0m0 7h0m0 18h0m1 -20h0m1 -4h0m0 26h0m0 14h0m1 -63h0m0 25h0m1 30h0m2 -64h0m0 24h0m21 12h0m1 6h0m3 14h0m2 -27h0m1 8h0m0 49h0m1 -17h0m0 -5h0m0 16h0m2 -47h0m2 -10h0m2 13h0m4 32h0m0 13h0m1 -30h0m3 -22h0m2 -17h0m1 69h0m0 43h0m0 -83h0m3 1h0m1 14h0m0 -9h0m0 8h0m1 17h0m0 6h0m1 6h0m0 4h0m0 -76h0m1 73h0m0 -32h0m0 -10h0m0 29h0m3 -24h0m0 -7h0m0 13h0m1 -31h0m1 39h0m0 54h0m0 -54h0m0 12h0m1 47h0m0 -101h0m0 9h0m1 8h0m1 24h0m0 0h0m1 33h0m0 -14h0m0 15h0m1 -76h0m0 51h0m0 -27h0m0 7h0m0 -16h0m0 18h0m0 15h0m1 -45h0m1 44h0m0 -44h0m0 48h0m0 -33h0m1 2h0m0 12h0m2 -37h0m2 65h0m2 -20h0m1 -2h0m4 -5h0m1 -18h0m0 -20h0m0 88h0m1 -36h0m0 -24h0m1 -24h0m1 58h0m0 -40h0m0 30h0m1 -37h0m1 -9h0m0 53h0m3 -11h0m1 3h0m1 -8h0m0 7h0m2 9h0m2 -17h0m1 -15h0m1 15h0m0 58h0m1 -18h0m0 -34h0m1 14h0m0 -71h0m1 65h0m1 40h0m0 -76h0m1 38h0m1 22h0m0 -60h0m1 13h0m1 2h0m1 0h0m3 11h0m3 5h0m2 -53h0m1 18h0m1 28h0m0 -13h0m1 7h0m1 -49h0m1 80h0m0 -17h0m1 18h0m0 -23h0m0 8h0m1 -16h0m0 -23h0m0 24h0m0 41h0m0 -18h0m0 -48h0m1 6h0m0 9h0m0 -10h0m1 40h0m0 4h0m2 -29h0m0 -10h0m1 13h0m0 -32h0m0 25h0m1 -23h0m0 7h0m0 -15h0m0 43h0m1 -3h0m0 -13h0m0 15h0m0 13h0m2 -41h0m0 56h0m0 -76h0m0 56h0m0 8h0m0 -54h0m0 61h0m0 -22h0m0 -2h0m0 -55h0m1 23h0m1 1h0m0 7h0m0 -10h0m1 44h0m0 -6h0m1 40h0m1 -64h0m1 37h0m0 -54h0m0 45h0m0 5h0m0 -7h0m1 13h0m0 6h0m1 -1h0m1 7h0m0 -52h0m0 64h0m1 -24h0m0 -31h0m1 -9h0m1 11h0m0 25h0m1 -17h0m1 9h0m0 47h0m0 -69h0m1 -2h0m1 27h0m0 -2h0m1 -11h0m1 17h0m1 -52h0m0 19h0m0 24h0m0 -48h0m0 75h0m3 -3h0m2 -27h0m0 -41h0m0 5h0m1 3h0m0 56h0m1 -12h0m1 -26h0m0 17h0m0 -63h0m1 92h0m0 -28h0m2 -10h0m0 -2h0m0 -21h0m1 70h0m0 -70h0m0 -16h0m1 42h0m0 4h0m0 -35h0m0 38h0m0 12h0m1 -46h0m0 47h0m1 11h0m1 -4h0m3 26h0m0 -74h0m0 73h0m1 -36h0m1 -8h0m0 11h0m0 -27h0m0 -3h0m0 29h0m0 -62h0m1 49h0m0 -5h0m1 -34h0m0 10h0m0 -5h0m0 47h0m0 -9h0m1 22h0m0 27h0m1 -82h0m0 36h0m0 5h0m0 33h0m0 -36h0m0 -57h0m1 66h0m0 -50h0m1 8h0m0 9h0m0 24h0m0 -43h0m1 -5h0m0 21h0m0 18h0m0 -12h0m0 5h0m0 2h0m1 17h0m0 -54h0m0 37h0m0 9h0m1 -28h0m0 -14h0m0 61h0m0 -4h0m1 -21h0m4 9h0m0 23h0m0 -53h0m1 -16h0m1 61h0m0 -1h0m0 -11h0m1 -3h0m0 -17h0m1 1h0m0 48h0m1 -30h0m0 7h0m0 -1h0m0 9h0m1 -22h0m1 6h0m0 -8h0m2 24h0m0 54h0m1 -112h0m0 37h0m1 -22h0m0 -16h0m0 -24h0m2 34h0m0 9h0m0 16h0m0 12h0m1 6h0m0 -8h0m0 -14h0m0 -35h0m0 36h0m1 -31h0m1 53h0m0 8h0m0 -67h0m1 12h0m0 -3h0m0 6h0m1 10h0m0 37h0m0 0h0m0 -60h0m2 36h0m0 44h0m0 -18h0m1 -63h0m0 9h0m0 37h0m0 7h0m1 -32h0m1 34h0m0 -47h0m0 36h0m1 -3h0m0 29h0m0 -17h0m0 -58h0m0 42h0m0 26h0m0 3h0m0 -19h0m1 -5h0m0 9h0m0 -15h0m0 -49h0m1 37h0m1 39h0m0 -41h0m0 41h0m0 -8h0m0 -17h0m1 -12h0m0 -50h0m1 88h0m1 -20h0m0 -49h0m0 -5h0m0 29h0m1 -6h0m0 21h0m0 17h0m0 20h0m1 -44h0m2 27h0m1 -52h0m0 52h0m1 -3h0m3 -51h0m0 36h0m1 19h0m0 -9h0m4 -15h0m1 -30h0m1 -1h0m1 49h0m0 -50h0m0 50h0m0 -38h0m1 33h0m2 31h0m1 -55h0m1 18h0m0 -20h0m1 -4h0m2 56h0m1 -2h0m0 -59h0m1 69h0m1 -32h0m0 -31h0m1 -14h0m0 25h0m1 12h0m0 -41h0m2 22h0m0 40h0m0 -22h0m0 24h0m1 -6h0m0 -33h0m1 -16h0m3 10h0m1 25h0m1 3h0m0 25h0m1 -58h0m1 56h0m0 1h0m0 -50h0m0 38h0m0 -5h0m1 7h0m1 9h0m0 -3h0m0 -48h0m1 54h0m0 -52h0m0 9h0m0 -6h0m0 0h0m1 32h0m1 -42h0m0 21h0m1 12h0m1 -37h0m0 -8h0m0 71h0m0 -25h0m0 -46h0m1 19h0m0 -16h0m1 23h0m0 56h0m0 -14h0m1 -39h0m0 -1h0m0 -16h0m1 24h0m1 -37h0m0 62h0m0 -19h0m3 -30h0m2 18h0m3 -14h0m1 83h0m0 -61h0m1 -37h0m0 15h0m1 33h0m0 -60h0m0 52h0m4 8h0m6 6h0m1 12h0m2 -72h0m1 32h0m1 29h0m3 -42h0m3 52h0m0 -42h0m0 -4h0m0 11h0m1 -18h0m0 35h0m1 -44h0m0 33h0m0 -46h0m3 77h0m0 -22h0m2 -13h0m2 19h0m3 11h0m0 -32h0m4 20h0m2 -33h0m0 -8h0m1 53h0m2 -6h0m1 -35h0m0 -8h0m2 33h0m0 24h0m0 -58h0m0 11h0m1 23h0m0 -19h0m0 -12h0m0 46h0m1 30h0m2 -48h0m0 -4h0m2 4h0m2 5h0m15 20h0m0 -42h0m2 25h0m12 9h0m1 -8h0m3 -38h0m3 65h0m0 -14h0m1 -27h0m6 2h0m1 30h0m1 -68h0m0 -4h0m1 42h0m0 -14h0m0 2h0m0 6h0m0 47h0m2 -77h0m0 36h0m0 10h0m0 20h0m1 -61h0m0 26h0m0 2h0m1 34h0m0 -21h0m0 1h0m1 9h0m0 40h0m0 -91h0m1 44h0m0 21h0m0 -33h0m0 53h0m0 -67h0m1 31h0m0 -1h0m0 -25h0m1 -19h0m0 -4h0m17 49h0m1 -1h0m0 -43h0m2 35h0m2 -8h0m0 12h0m0 9h0m1 -22h0m1 1h0m1 6h0m1 -44h0m0 67h0m3 -26h0m0 8h0m0 22h0m2 3h0m12 -10h0m0 -50h0m1 -32h0m0 48h0m0 29h0m1 -5h0m1 -1h0m0 -2h0m0 22h0m1 -63h0m2 11h0m0 28h0m0 5h0m4 -21h0m3 4h0m0 -12h0m1 -15h0m3 46h0m6 10h0m1 -14h0m0 21h0m0 -13h0m2 -2h0m1 19h0m0 -25h0m1 -6h0m1 -43h0m0 7h0m1 31h0m1 -17h0m0 27h0m1 -35h0m1 3h0m3 13h0m2 65h0m2 -55h0m2 3h0m2 -19h0m0 -53h0m1 103h0m2 -40h0m0 26h0m1 -1h0m14 -74h0m0 65h0m0 -55h0m0 94h0m0 -89h0m1 23h0m0 -20h0m1 4h0m1 -1h0m0 21h0m1 5h0m0 -27h0m0 56h0m2 -76h0m1 33h0m1 -12h0m0 69h0m0 -61h0m1 12h0m0 10h0m0 -30h0m2 -31h0m0 33h0m1 29h0m2 2h0m2 -14h0m2 35h0m2 -9h0m1 -15h0m0 -35h0m1 35h0m1 63h0m0 -63h0m1 -69h0m2 98h0m0 0h0m1 -42h0m0 -15h0m0 -3h0m0 13h0m1 13h0m0 -28h0m0 -19h0m0 60h0m0 -34h0m1 35h0m0 1h0m0 -9h0m0 -43h0m0 24h0m0 48h0m2 -13h0m0 -64h0m0 60h0m0 -19h0m1 -40h0m0 76h0m1 -27h0m0 5h0m0 -43h0m0 20h0m1 20h0m0 -9h0m1 -20h0m0 -20h0m1 58h0m0 -23h0m1 21h0m0 -14h0m0 -64h0m0 89h0m1 -18h0m0 7h0m0 14h0m0 2h0m1 -25h0m1 -18h0m0 -20h0m0 -7h0m1 64h0m1 -33h0m0 -8h0m1 -49h0m0 75h0m0 -21h0m2 45h0m0 -39h0m0 43h0m0 -30h0m0 -11h0m1 26h0m3 -16h0m0 4h0m0 -49h0m3 69h0m0 -62h0m0 16h0m1 86h0m1 -73h0m0 31h0m3 -12h0m0 -47h0m1 -1h0m0 16h0m2 28h0m1 -55h0m2 73h0m0 4h0m2 -43h0m1 25h0m18 18h0m2 -62h0m2 -14h0m0 55h0m3 -31h0m0 16h0m1 8h0m0 15h0m0 -14h0m1 -6h0m0 4h0m1 37h0m0 -24h0m0 -69h0m0 75h0m0 -25h0m0 21h0m0 -69h0m1 -1h0m1 76h0m1 -46h0m0 35h0m0 -18h0m0 -35h0m1 -1h0m1 53h0m0 -13h0m1 -16h0m0 2h0m1 -29h0m0 34h0m0 -3h0m0 5h0m0 9h0m0 -30h0m0 59h0m0 -69h0m0 -4h0m1 67h0m0 18h0m1 -52h0m0 -10h0m0 -7h0m0 48h0m1 -17h0m1 11h0m0 12h0m0 -9h0m1 -34h0m0 13h0m0 -39h0m0 -11h0m1 73h0m1 -39h0m1 0h0m1 -16h0m1 -7h0m3 69h0m1 -68h0m1 12h0m0 18h0m1 22h0m1 10h0m1 -44h0m0 -2h0m0 -10h0m1 -18h0m0 -4h0m1 59h0m0 -23h0m2 -10h0m2 22h0m2 -39h0m1 10h0m1 34h0m5 24h0m0 -28h0m1 -8h0m0 51h0m2 -34h0m1 36h0m1 -49h0m1 9h0m0 3h0m1 0h0m0 12h0m1 -60h0m0 35h0m1 41h0m0 -51h0m0 18h0m0 7h0m0 -6h0m4 14h0m0 -16h0m8 9h0m2 25h0m1 -21h0m1 -2h0m3 2h0m0 -29h0m1 -28h0m0 58h0m1 18h0m0 -24h0m0 -25h0m1 53h0m1 -36h0m1 -14h0m2 49h0m0 -42h0m1 1h0m1 -29h0m2 43h0m7 31h0m0 -51h0m0 74h0m2 -26h0m5 -51h0m2 53h0m1 -15h0m0 -5h0m2 -63h0m3 41h0m1 -42h0m0 43h0m1 8h0m0 -53h0m0 97h0m1 -84h0m0 67h0m0 -74h0m1 49h0m0 2h0m1 12h0m0 -3h0m0 -16h0m1 -23h0m0 4h0m2 -14h0m0 13h0m1 3h0m0 -24h0m1 -6h0m0 41h0m1 25h0m1 9h0m2 -33h0m0 20h0m1 -32h0m2 7h0m4 11h0m1 14h0m0 -38h0m3 56h0m0 -30h0m1 16h0m1 -13h0m1 15h0m0 -49h0m1 87h0m2 -42h0m0 1h0m2 9h0m0 -78h0m1 63h0m2 -63h0m0 46h0m0 -38h0m1 -8h0m2 36h0m0 45h0m1 -19h0m0 -2h0m0 16h0m1 -27h0m0 -52h0m0 93h0m1 -23h0m0 -35h0m0 56h0m0 -65h0m0 -23h0m2 27h0m0 -4h0m0 47h0m1 -30h0m1 20h0m1 -18h0m0 32h0m0 33h0m2 -79h0m1 31h0m1 10h0m3 -25h0m1 38h0m5 -35h0m1 2h0m1 18h0m0 -59h0m0 73h0m1 6h0m0 6h0m0 4h0m1 -30h0m1 -13h0m1 15h0m1 34h0m0 -29h0m0 -50h0m0 6h0m0 39h0m1 -3h0m1 -36h0m0 -12h0m0 66h0m0 -25h0m2 -18h0m0 45h0m0 -51h0m1 46h0m1 -20h0m0 10h0m0 -38h0m0 39h0m1 -32h0m0 -3h0m1 -32h0m0 68h0m0 -67h0m1 73h0m0 -7h0m1 -49h0m1 -16h0m1 28h0m4 -9h0m2 28h0m0 23h0m0 -22h0m0 -3h0m1 -8h0m1 -22h0m0 62h0m1 -68h0m1 -6h0m0 2h0m2 48h0m0 -24h0m0 75h0m0 -91h0m10 3h0m1 -21h0m1 64h0m1 -53h0m1 47h0m0 -30h0m0 -4h0m2 -1h0m0 32h0m1 12h0m3 -38h0m0 20h0m2 -37h0m1 43h0m1 39h0m3 -70h0m0 41h0m0 -8h0m1 1h0m1 -48h0m1 2h0m0 0h0m2 -25h0m1 90h0m0 -74h0m1 14h0m1 16h0m1 -28h0m1 32h0m3 50h0m1 -75h0m0 4h0m0 1h0m1 54h0m0 -40h0m2 0h0m1 -27h0m0 14h0m1 42h0m0 9h0m0 -29h0m0 -33h0m1 39h0m0 16h0m1 -11h0m4 -16h0m0 43h0m1 26h0m0 -29h0m0 -49h0m0 36h0m1 39h0m0 -80h0m1 -2h0m0 47h0m1 -29h0m0 41h0m1 -12h0m1 -13h0m0 19h0m1 -51h0m1 42h0m1 -14h0m3 43h0m3 8h0m7 -23h0m0 -9h0m0 -53h0m2 -4h0m0 104h0m1 -14h0m0 -62h0m0 8h0m1 0h0m1 -34h0m1 40h0m0 -25h0m2 15h0m1 30h0m0 -35h0m2 67h0m1 -33h0m1 -44h0m1 22h0m0 23h0m1 -30h0m0 78h0m0 -82h0m1 21h0m0 -29h0m0 37h0m1 28h0m6 -72h0m0 26h0m0 29h0m0 -77h0m2 44h0m0 2h0m0 -49h0m0 53h0m1 -15h0m0 1h0m1 12h0m0 -25h0m2 -28h0m0 61h0m1 -33h0m3 58h0m0 -28h0m2 -61h0m3 -2h0m0 55h0m0 -50h0m2 59h0m1 7h0m1 -4h0m0 -44h0m1 10h0m1 4h0m0 24h0m0 -18h0m1 -28h0m0 18h0m0 46h0m0 2h0m0 -16h0m1 -59h0m0 96h0m0 -45h0m1 28h0m1 -33h0m2 -18h0m1 33h0m0 7h0m8 -18h0m0 -37h0m0 54h0m2 -23h0m0 19h0m1 -10h0m1 -58h0m0 23h0m0 30h0m1 23h0m2 -11h0m0 10h0m0 -20h0m0 37h0m1 -42h0m0 -24h0m11 34h0m0 31h0m1 25h0m0 -109h0m0 64h0m1 3h0m0 -5h0m0 17h0m1 -74h0m0 99h0m0 -42h0m0 -6h0m1 -15h0m0 -29h0m0 45h0m1 -54h0m0 19h0m1 -24h0m0 59h0m0 -1h0m1 -31h0m0 71h0m0 -78h0m0 30h0m0 4h0m1 -11h0m0 16h0m0 -33h0m1 43h0m0 -36h0m0 32h0m0 -27h0m1 -1h0m1 -60h0m0 87h0m0 9h0m0 8h0m1 -51h0m0 44h0m0 -70h0m0 87h0m1 -23h0m0 -33h0m0 17h0m1 22h0m0 -40h0m0 -36h0m1 4h0m1 66h0m1 -6h0m1 18h0m0 -1h0m1 -24h0m0 -5h0m0 0h0m2 -20h0m1 22h0m1 -3h0m0 -4h0m0 12h0m0 -5h0m0 -29h0m0 38h0m0 -36h0m1 4h0m0 -7h0m0 -13h0m1 14h0m1 40h0m0 10h0m1 -19h0m1 31h0m0 -52h0m1 28h0m0 -29h0m0 -3h0m0 15h0m11 33h0m0 -25h0m1 26h0m1 -18h0m1 -1h0m0 9h0m0 -15h0m2 -19h0m1 20h0m0 4h0m1 20h0m1 -47h0m0 -30h0m2 17h0m0 80h0m1 -28h0m0 -11h0m2 7h0m1 10h0m2 -52h0m2 -16h0m1 39h0m0 -13h0m1 9h0m2 -9h0m0 61h0m1 -64h0m0 -11h0m0 29h0m1 2h0m0 31h0m0 -31h0m1 20h0m0 -10h0m2 17h0m6 -69h0m1 49h0m1 -32h0m0 -16h0m1 -23h0m1 59h0m0 -13h0m5 -56h0m1 -5h0m0 17h0m2 6h0m0 -25h0m0 19h0m0 27h0m1 -4h0m2 -67h0m4 30h0m8 16h0m1 35h0m2 -55h0m1 69h0m4 -82h0m0 -25h0m2 82h0m8 -9h0m4 35h0m5 -43h0m0 -65h0m3 40h0m0 32h0m5 25h0m2 -13h0m7 -33h0m1 -3h0m2 21h0m4 -6h0m1 15h0m0 -40h0m1 31h0m0 -17h0m3 45h0m5 -39h0m0 -31h0m3 34h0m3 -17h0m1 -17h0m2 8h0m3 35h0m1 15h0m0 -21h0m1 -14h0m0 28h0m1 -8h0m0 -47h0m2 83h0m1 -58h0m4 35h0"/><path stroke-width="6.0" d="M127 585h0m0 1h0m2 -34h0m1 7h0m1 25h0m0 22h0m2 -6h0m3 -48h0m0 58h0m1 -16h0m2 -46h0m2 84h0m2 -70h0m1 26h0m1 38h0m2 -43h0m0 -36h0m1 -11h0m1 79h0m0 -7h0m1 10h0m1 -7h0m1 16h0m1 -68h0m3 10h0m3 32h0m1 43h0m0 -35h0m1 24h0m0 -29h0m2 -27h0m1 17h0m4 -7h0m2 11h0m1 -29h0m0 29h0m0 -11h0m2 -18h0m1 43h0m4 -38h0m1 33h0m2 -10h0m1 -6h0m1 19h0m1 -15h0m0 8h0m1 -26h0m0 17h0m0 -33h0m1 -34h0m0 50h0m1 11h0m0 2h0m1 0h0m1 -7h0m0 49h0m0 -34h0m0 -50h0m1 65h0m1 -42h0m1 3h0m0 6h0m0 59h0m1 -72h0m1 53h0m0 -39h0m1 6h0m0 -17h0m0 -7h0m1 33h0m0 -15h0m0 28h0m0 22h0m0 -19h0m0 19h0m1 -71h0m0 32h0m0 -3h0m1 76h0m0 -114h0m0 12h0m1 -7h0m0 13h0m1 -9h0m0 -13h0m0 2h0m0 67h0m0 -68h0m1 30h0m0 19h0m1 21h0m0 -66h0m0 33h0m1 -8h0m1 11h0m1 26h0m0 -55h0m1 43h0m1 -21h0m0 53h0m0 -27h0m1 -55h0m5 -9h0m2 8h0m1 49h0m19 -42h0m0 -1h0m1 36h0m0 10h0m0 17h0m0 -37h0m5 14h0m0 3h0m2 -26h0m1 61h0m0 -86h0m1 68h0m0 -7h0m1 -40h0m2 11h0m6 37h0m0 -32h0m0 31h0m0 -44h0m1 25h0m1 -38h0m0 -11h0m1 38h0m1 -6h0m1 -10h0m0 -17h0m0 28h0m0 -2h0m0 -12h0m0 27h0m0 -31h0m1 -29h0m1 79h0m0 -37h0m4 56h0m5 -27h0m1 -41h0m2 -13h0m1 2h0m0 24h0m1 -2h0m0 19h0m1 3h0m1 8h0m0 -16h0m2 14h0m2 -24h0m1 11h0m0 9h0m0 -49h0m1 32h0m0 36h0m1 -7h0m0 -43h0m1 24h0m0 7h0m0 -9h0m0 -12h0m0 0h0m1 7h0m0 9h0m0 3h0m1 -4h0m1 -45h0m1 73h0m0 -35h0m1 2h0m0 -45h0m0 20h0m0 34h0m1 2h0m0 9h0m1 -6h0m0 -35h0m0 14h0m0 -10h0m0 24h0m0 -30h0m1 39h0m1 37h0m2 -10h0m0 -95h0m1 48h0m0 34h0m0 -67h0m2 11h0m0 -38h0m0 79h0m1 -43h0m1 57h0m0 -51h0m0 22h0m0 -30h0m1 44h0m0 -9h0m1 -2h0m0 16h0m1 5h0m0 -21h0m0 -30h0m1 4h0m1 14h0m0 -41h0m0 23h0m0 9h0m1 55h0m1 32h0m0 -43h0m0 -72h0m1 35h0m2 23h0m4 -20h0m3 5h0m1 -19h0m1 2h0m0 0h0m0 38h0m1 -37h0m1 -28h0m0 56h0m2 6h0m0 -7h0m1 -39h0m0 -13h0m0 14h0m0 64h0m1 15h0m1 29h0m0 -73h0m0 -41h0m0 20h0m0 55h0m1 -58h0m1 -22h0m1 58h0m0 -15h0m0 14h0m1 -25h0m0 -36h0m0 50h0m1 20h0m0 -51h0m2 63h0m0 -7h0m0 -13h0m1 12h0m0 -56h0m0 -10h0m0 28h0m1 -12h0m0 33h0m1 -18h0m0 -18h0m1 -7h0m0 65h0m1 -84h0m0 12h0m1 59h0m1 -62h0m0 70h0m0 6h0m1 -38h0m0 8h0m0 16h0m0 -8h0m1 -53h0m1 20h0m1 8h0m0 31h0m1 -3h0m1 -27h0m1 29h0m0 -30h0m1 12h0m2 11h0m0 1h0m0 6h0m0 10h0m5 -81h0m0 39h0m1 38h0m0 -69h0m1 16h0m1 -23h0m0 56h0m1 -4h0m0 24h0m0 -26h0m1 17h0m0 6h0m0 -54h0m1 -12h0m1 58h0m1 -44h0m0 17h0m0 35h0m3 -14h0m2 0h0m1 -39h0m1 54h0m1 -39h0m0 13h0m0 -36h0m2 36h0m0 19h0m0 -69h0m2 79h0m1 -19h0m0 -11h0m1 -1h0m0 52h0m1 -39h0m2 -29h0m1 2h0m4 22h0m1 10h0m1 -21h0m3 44h0m4 -11h0m2 -48h0m2 52h0m2 -20h0m1 9h0m4 -40h0m1 11h0m0 2h0m0 18h0m1 -19h0m0 -8h0m1 -30h0m1 15h0m0 -1h0m1 79h0m0 -37h0m0 31h0m2 -3h0m0 -31h0m1 -55h0m1 79h0m0 -33h0m1 37h0m0 -62h0m0 29h0m1 -34h0m1 4h0m0 67h0m0 -61h0m1 48h0m0 -42h0m0 -17h0m1 -6h0m1 65h0m3 -54h0m1 -18h0m2 0h0m1 79h0m1 -8h0m0 27h0m1 -20h0m0 -22h0m1 -31h0m2 53h0m1 -56h0m1 16h0m0 -16h0m0 42h0m3 -75h0m2 54h0m1 38h0m0 -13h0m2 24h0m1 -49h0m1 -47h0m0 31h0m1 -2h0m1 51h0m1 -16h0m0 18h0m1 -46h0m0 -1h0m5 19h0m0 3h0m2 -4h0m0 1h0m0 0h0m0 -6h0m2 -25h0m1 7h0m0 53h0m1 22h0m1 -82h0m0 14h0m1 49h0m2 13h0m0 -82h0m4 13h0m1 -7h0m1 62h0m0 -23h0m0 14h0m1 -81h0m1 104h0m0 -77h0m1 11h0m0 45h0m0 -80h0m2 37h0m0 9h0m2 -44h0m0 59h0m0 -51h0m0 18h0m3 26h0m0 -25h0m1 -17h0m0 28h0m1 -18h0m0 42h0m1 -2h0m0 2h0m1 -42h0m1 42h0m0 -6h0m1 23h0m2 56h0m0 -146h0m1 43h0m1 -15h0m2 106h0m2 -69h0m0 -24h0m3 9h0m5 14h0m1 -27h0m0 46h0m0 -30h0m1 -39h0m0 15h0m1 24h0m2 31h0m0 -1h0m2 -63h0m0 33h0m1 -8h0m1 26h0m1 2h0m0 -32h0m0 48h0m1 -62h0m0 43h0m1 -26h0m1 -12h0m0 70h0m1 -26h0m0 19h0m0 -58h0m0 3h0m2 28h0m0 3h0m2 -9h0m2 7h0m0 -11h0m2 17h0m0 1h0m0 29h0m3 -4h0m0 -67h0m0 21h0m1 12h0m0 33h0m1 -39h0m2 20h0m0 -29h0m1 -5h0m0 -7h0m3 -21h0m0 74h0m1 15h0m1 -37h0m1 88h0m1 -133h0m0 11h0m1 60h0m1 -66h0m0 33h0m0 -14h0m2 -6h0m5 29h0m1 -49h0m0 60h0m0 13h0m1 -75h0m0 30h0m2 -40h0m1 80h0m2 -10h0m0 0h0m0 -46h0m1 0h0m13 15h0m0 -20h0m2 57h0m0 -45h0m0 134h0m2 -65h0m1 -69h0m0 62h0m1 -43h0m0 -33h0m1 -2h0m1 51h0m0 -55h0m1 16h0m0 76h0m0 -87h0m0 50h0m0 -29h0m0 45h0m1 -13h0m0 -8h0m1 -43h0m0 35h0m1 -41h0m0 9h0m0 20h0m1 -27h0m0 1h0m0 14h0m0 -17h0m1 67h0m0 32h0m0 -114h0m1 88h0m0 8h0m0 -30h0m1 -46h0m2 24h0m1 29h0m0 13h0m0 -48h0m1 2h0m0 38h0m0 -35h0m0 2h0m1 23h0m0 10h0m0 -58h0m0 12h0m0 25h0m1 2h0m0 17h0m0 -56h0m0 68h0m1 -10h0m0 -60h0m0 40h0m1 15h0m1 6h0m0 -37h0m0 4h0m0 22h0m0 -34h0m1 -31h0m1 54h0m0 2h0m1 -3h0m1 0h0m0 10h0m0 -42h0m0 -14h0m0 34h0m1 0h0m0 58h0m0 -52h0m0 16h0m1 18h0m0 -48h0m3 19h0m1 -12h0m0 16h0m4 -49h0m0 1h0m1 10h0m1 53h0m0 -18h0m1 40h0m0 -31h0m1 -54h0m0 92h0m2 -31h0m0 -56h0m1 40h0m0 66h0m0 -48h0m1 -12h0m0 25h0m0 -13h0m1 -23h0m0 -1h0m0 -1h0m0 -20h0m1 20h0m0 -22h0m1 -20h0m0 51h0m1 5h0m1 -49h0m1 77h0m0 -62h0m0 -2h0m1 18h0m0 78h0m0 -36h0m1 9h0m1 -4h0m0 -42h0m0 34h0m0 -10h0m1 -7h0m0 -11h0m1 -5h0m0 -28h0m0 -5h0m1 56h0m0 -28h0m0 29h0m0 20h0m1 -41h0m1 3h0m1 94h0m0 -81h0m1 -13h0m0 25h0m1 -51h0m0 -10h0m2 13h0m1 -25h0m2 26h0m0 20h0m0 56h0m2 -95h0m0 57h0m1 -16h0m0 12h0m3 -1h0m0 11h0m1 3h0m0 -35h0m0 24h0m1 14h0m1 -36h0m1 -28h0m0 28h0m0 -32h0m3 62h0m1 -28h0m1 14h0m0 -18h0m1 35h0m0 -53h0m1 57h0m0 -23h0m0 31h0m3 7h0m0 -84h0m1 53h0m0 24h0m1 -75h0m1 43h0m0 -72h0m0 24h0m2 26h0m0 12h0m1 36h0m0 -25h0m0 -52h0m0 82h0m1 -8h0m0 -61h0m0 0h0m0 5h0m0 7h0m1 46h0m0 -12h0m1 7h0m0 -50h0m0 51h0m0 -41h0m0 6h0m1 81h0m0 -39h0m0 -65h0m0 34h0m1 1h0m0 5h0m1 -15h0m1 27h0m1 2h0m3 -5h0m1 -23h0m0 19h0m1 -47h0m1 43h0m1 -40h0m2 41h0m1 29h0m0 -64h0m1 17h0m2 32h0m2 -33h0m0 29h0m0 -69h0m5 104h0m1 -65h0m1 -22h0m0 61h0m0 -39h0m1 43h0m0 -19h0m0 -5h0m0 3h0m1 9h0m0 53h0m0 -107h0m1 78h0m0 -29h0m0 -6h0m0 30h0m0 -13h0m1 -3h0m0 -18h0m0 -53h0m0 38h0m1 12h0m0 56h0m1 -19h0m0 -59h0m1 -16h0m0 81h0m0 -19h0m1 -1h0m0 23h0m1 -61h0m0 24h0m0 -8h0m1 7h0m1 1h0m0 18h0m0 -11h0m1 11h0m0 -41h0m1 23h0m0 -44h0m0 44h0m0 -27h0m0 29h0m1 -26h0m1 27h0m1 -40h0m2 -1h0m0 15h0m2 74h0m0 -62h0m0 1h0m1 -4h0m0 22h0m1 -3h0m1 6h0m2 -26h0m0 24h0m1 -16h0m0 19h0m0 -21h0m1 36h0m1 22h0m0 -82h0m0 44h0m1 -23h0m1 10h0m1 3h0m1 7h0m0 22h0m0 -20h0m1 -45h0m1 49h0m0 -48h0m4 -7h0m3 54h0m0 9h0m1 -74h0m1 72h0m2 -21h0m1 4h0m1 41h0m0 -54h0m0 54h0m1 -70h0m0 -11h0m0 22h0m1 27h0m0 11h0m0 -24h0m1 -45h0m1 64h0m0 -8h0m0 -43h0m0 91h0m1 -22h0m1 -36h0m0 30h0m0 -42h0m0 17h0m0 36h0m1 -66h0m0 -22h0m0 48h0m0 -25h0m1 34h0m0 -1h0m0 -9h0m1 -35h0m0 45h0m0 -27h0m0 3h0m0 41h0m1 7h0m0 -14h0m0 -4h0m0 8h0m2 -25h0m1 5h0m0 -13h0m0 -6h0m0 54h0m1 -66h0m0 17h0m1 -10h0m0 19h0m0 -8h0m0 44h0m1 -80h0m0 23h0m0 36h0m0 -67h0m1 39h0m1 22h0m1 1h0m0 11h0m0 -37h0m0 32h0m1 -20h0m0 -25h0m0 -27h0m2 35h0m0 35h0m1 -18h0m1 -9h0m0 3h0m0 4h0m0 13h0m0 23h0m1 -50h0m0 -15h0m0 5h0m0 47h0m1 -24h0m0 -27h0m1 53h0m1 5h0m0 -41h0m1 48h0m1 -28h0m0 13h0m0 -36h0m2 -27h0m1 30h0m0 56h0m1 -60h0m0 26h0m0 -47h0m0 70h0m1 -13h0m0 -28h0m0 27h0m1 -47h0m0 21h0m0 63h0m1 -82h0m0 55h0m0 -50h0m0 0h0m0 82h0m0 -82h0m1 27h0m1 -14h0m0 15h0m1 53h0m10 -75h0m1 53h0m0 -57h0m1 31h0m7 -18h0m2 -10h0m1 -29h0m1 -4h0m1 42h0m0 -42h0m1 56h0m1 -3h0m1 11h0m0 5h0m1 -26h0m1 -10h0m1 25h0m0 -1h0m1 -7h0m1 18h0m0 -51h0m1 32h0m1 26h0m0 -24h0m0 -19h0m3 24h0m0 24h0m1 -70h0m0 11h0m1 39h0m2 -15h0m2 -6h0m0 23h0m0 -2h0m0 20h0m4 -53h0m0 6h0m0 14h0m1 15h0m1 6h0m0 -25h0m0 -14h0m0 16h0m1 29h0m1 -16h0m4 2h0m2 -36h0m2 32h0m0 -24h0m2 -26h0m0 23h0m3 15h0m2 17h0m0 -33h0m1 1h0m1 68h0m1 -96h0m1 94h0m0 -1h0m4 -28h0m0 0h0m1 17h0m0 -64h0m0 27h0m0 -47h0m1 7h0m0 81h0m0 -18h0m1 -20h0m0 -38h0m0 12h0m0 16h0m2 10h0m0 23h0m1 8h0m0 -28h0m0 -27h0m1 55h0m0 -23h0m0 -4h0m1 -7h0m1 3h0m1 -36h0m0 13h0m1 40h0m2 -19h0m1 -50h0m1 27h0m1 40h0m1 -14h0m1 9h0m1 -58h0m0 29h0m0 -30h0m0 67h0m0 -37h0m1 3h0m0 -17h0m1 48h0m0 -27h0m0 -22h0m0 -4h0m1 36h0m0 -51h0m0 48h0m1 -2h0m0 32h0m0 -37h0m1 43h0m0 -30h0m0 -20h0m0 -42h0m0 10h0m1 38h0m1 -3h0m0 -9h0m1 -3h0m0 19h0m0 -34h0m1 9h0m1 42h0m0 -28h0m0 32h0m1 -25h0m0 -16h0m1 -18h0m1 54h0m0 -51h0m0 15h0m2 35h0m0 33h0m1 -24h0m2 -20h0m1 -71h0m1 84h0m1 -15h0m0 19h0m0 17h0m1 -43h0m1 18h0m1 3h0m1 -26h0m1 27h0m0 -3h0m1 -23h0m0 -35h0m0 15h0m1 59h0m0 -17h0m0 3h0m0 3h0m0 -12h0m1 -7h0m0 -39h0m0 39h0m0 4h0m0 -44h0m1 16h0m0 -8h0m1 33h0m0 -7h0m0 23h0m1 -11h0m0 -28h0m0 62h0m1 -52h0m0 -17h0m0 59h0m1 -48h0m0 8h0m0 9h0m0 -8h0m1 -5h0m0 11h0m0 -25h0m0 40h0m1 -3h0m1 23h0m0 12h0m1 10h0m0 -43h0m1 25h0m2 -12h0m0 -13h0m0 19h0m1 -22h0m0 -30h0m2 35h0m1 -32h0m1 46h0m1 24h0m1 -69h0m1 23h0m1 25h0m1 -5h0m0 -59h0m1 28h0m1 -1h0m2 -22h0m2 2h0m2 49h0m0 -33h0m0 3h0m5 1h0m0 46h0m0 -9h0m0 -12h0m1 -15h0m1 -5h0m1 -6h0m0 37h0m1 -25h0m1 21h0m0 -9h0m1 -51h0m1 88h0m1 -46h0m0 45h0m3 -54h0m1 26h0m0 1h0m1 -29h0m1 52h0m0 -39h0m0 -3h0m0 -12h0m1 -16h0m0 29h0m2 22h0m0 -52h0m0 17h0m0 -27h0m1 -21h0m0 90h0m0 -41h0m1 31h0m0 2h0m0 -64h0m0 -9h0m1 17h0m0 10h0m1 12h0m0 -18h0m0 -17h0m1 46h0m0 -49h0m0 51h0m0 2h0m0 2h0m0 -39h0m1 43h0m1 -28h0m0 4h0m0 -1h0m1 -8h0m0 35h0m1 -56h0m1 14h0m0 -7h0m2 47h0m0 -44h0m0 8h0m0 -11h0m0 6h0m0 61h0m1 -60h0m1 13h0m0 35h0m1 -3h0m0 -40h0m0 64h0m1 -39h0m0 -21h0m0 29h0m1 62h0m0 -84h0m1 16h0m1 10h0m2 -29h0m0 41h0m0 -26h0m0 -46h0m2 60h0m0 -12h0m0 -22h0m1 52h0m7 -49h0m1 31h0m0 -16h0m0 24h0m0 15h0m1 -11h0m0 12h0m0 -91h0m0 17h0m1 34h0m0 -21h0m1 30h0m1 6h0m1 6h0m0 -12h0m0 -1h0m1 4h0m0 -6h0m0 30h0m1 -42h0m0 40h0m1 -14h0m0 -38h0m1 -11h0m2 52h0m0 19h0m1 -29h0m0 13h0m1 -59h0m2 43h0m1 -5h0m0 13h0m1 -32h0m0 24h0m1 -17h0m1 20h0m0 -49h0m0 74h0m1 37h0m0 -26h0m0 -56h0m0 -2h0m5 27h0m2 -12h0m2 41h0m3 -75h0m0 19h0m3 27h0m2 2h0m2 6h0m0 0h0m0 -8h0m1 5h0m1 -30h0m1 10h0m1 13h0m0 11h0m2 -18h0m0 13h0m0 -39h0m0 33h0m1 16h0m1 -7h0m0 22h0m0 -22h0m1 -52h0m0 63h0m0 -47h0m0 24h0m0 -44h0m1 -4h0m2 14h0m0 -2h0m0 40h0m0 -50h0m0 48h0m1 -5h0m0 16h0m1 -46h0m0 44h0m0 -38h0m2 48h0m1 -46h0m0 36h0m0 -11h0m2 30h0m0 -32h0m1 -19h0m1 22h0m0 -17h0m1 41h0m0 -75h0m0 41h0m2 -27h0m2 71h0m0 -50h0m0 1h0m0 -27h0m0 -4h0m1 49h0m1 -17h0m0 0h0m0 -6h0m0 4h0m0 31h0m0 17h0m1 -52h0m0 32h0m0 -16h0m0 -15h0m3 4h0m1 -28h0m1 16h0m2 19h0m5 -14h0m1 3h0m0 4h0m0 -14h0m1 7h0m0 0h0m0 23h0m1 -25h0m0 5h0m0 11h0m1 -2h0m1 17h0m0 -15h0m0 12h0m0 -50h0m0 19h0m0 52h0m0 -59h0m1 56h0m0 -31h0m1 17h0m1 -32h0m0 59h0m2 -71h0m2 23h0m1 24h0m1 -26h0m3 -23h0m1 18h0m0 55h0m1 -92h0m0 49h0m1 42h0m0 -33h0m2 5h0m0 7h0m2 -39h0m1 37h0m0 5h0m0 14h0m1 -64h0m0 -4h0m0 77h0m1 -54h0m0 46h0m1 -86h0m0 34h0m0 35h0m0 -11h0m0 4h0m1 -12h0m0 -43h0m0 24h0m1 59h0m0 -92h0m0 60h0m1 -6h0m0 -39h0m1 69h0m0 4h0m0 -15h0m1 -59h0m0 45h0m0 7h0m0 -33h0m0 13h0m1 -24h0m0 18h0m0 9h0m1 -25h0m0 59h0m0 -57h0m1 64h0m0 -21h0m1 -35h0m0 -22h0m0 4h0m1 0h0m1 51h0m1 27h0m0 -81h0m2 -4h0m0 17h0m0 3h0m0 11h0m3 22h0m1 -13h0m0 -21h0m0 -2h0m0 -15h0m0 46h0m2 -28h0m0 54h0m1 -49h0m0 -32h0m0 9h0m1 68h0m0 -78h0m0 85h0m0 -66h0m0 42h0m1 -13h0m0 18h0m0 -4h0m1 -47h0m1 46h0m0 -45h0m1 0h0m0 42h0m2 14h0m0 -22h0m0 55h0m2 -58h0m5 -31h0m2 7h0m2 49h0m0 -46h0m2 -25h0m3 57h0m1 20h0m0 -61h0m2 67h0m1 -29h0m0 -7h0m0 40h0m1 -36h0m0 -9h0m0 20h0m0 6h0m1 -12h0m1 -34h0m0 47h0m0 -26h0m0 7h0m1 0h0m0 -66h0m0 24h0m2 21h0m0 11h0m1 -12h0m1 60h0m1 -68h0m2 6h0m0 17h0m1 -19h0m0 48h0m1 -3h0m0 -68h0m1 37h0m1 18h0m0 -32h0m1 -7h0m0 32h0m1 -11h0m1 31h0m3 -47h0m3 1h0m0 47h0m5 2h0m0 -22h0m3 9h0m4 1h0m3 -7h0m8 -52h0m0 54h0m1 29h0m0 -71h0m1 19h0m1 20h0m0 2h0m1 51h0m0 -68h0m1 -12h0m0 42h0m0 -66h0m0 40h0m0 19h0m0 -43h0m0 37h0m1 -49h0m0 31h0m1 1h0m0 -24h0m0 51h0m0 -48h0m1 55h0m0 -49h0m1 -14h0m0 57h0m1 -43h0m0 -11h0m3 67h0m1 -34h0m1 2h0m1 46h0m0 -39h0m1 -23h0m0 -13h0m1 21h0m3 -49h0m2 74h0m1 -19h0m0 -37h0m1 21h0m0 29h0m0 9h0m1 -67h0m0 51h0m0 0h0m1 0h0m1 -48h0m1 74h0m3 -68h0m1 54h0m1 -7h0m1 4h0m1 12h0m0 -16h0m0 -23h0m0 12h0m1 -31h0m0 13h0m1 27h0m0 -19h0m0 -1h0m0 19h0m0 -60h0m0 4h0m0 17h0m1 51h0m0 -53h0m0 25h0m0 0h0m1 -32h0m0 46h0m0 -30h0m1 -11h0m1 23h0m0 59h0m0 -54h0m0 7h0m1 -13h0m0 -7h0m1 33h0m0 -20h0m1 -23h0m0 45h0m0 -5h0m1 -5h0m0 -53h0m0 24h0m0 16h0m0 21h0m0 1h0m0 -47h0m0 21h0m1 34h0m0 -66h0m0 51h0m1 -26h0m1 -7h0m0 -7h0m0 -1h0m0 94h0m1 -44h0m0 -42h0m1 106h0m0 -107h0m0 14h0m1 9h0m0 -17h0m1 3h0m1 -2h0m0 10h0m1 7h0m0 34h0m0 -73h0m0 23h0m0 49h0m0 -66h0m0 36h0m1 46h0m0 -70h0m0 56h0m1 6h0m0 -76h0m0 42h0m0 32h0m0 6h0m2 7h0m2 -36h0m2 -13h0m1 -5h0m2 -16h0m0 -26h0m1 63h0m0 -24h0m1 -15h0m0 15h0m1 -41h0m0 52h0m1 0h0m1 3h0m0 25h0m0 -51h0m1 26h0m0 -68h0m1 81h0m0 0h0m2 -17h0m0 -8h0m0 6h0m0 -30h0m0 81h0m1 -48h0m0 -36h0m0 46h0m1 -18h0m0 56h0m0 -48h0m1 -17h0m0 7h0m1 -10h0m1 4h0m0 1h0m0 29h0m0 -22h0m0 1h0m1 -5h0m0 -20h0m0 35h0m1 -29h0m0 -29h0m0 61h0m0 0h0m1 -16h0m0 32h0m0 -46h0m0 3h0m0 -17h0m1 25h0m0 -29h0m0 52h0m1 6h0m0 -6h0m0 3h0m0 -14h0m0 -5h0m0 -29h0m1 58h0m0 -68h0m0 38h0m1 6h0m0 0h0m0 -1h0m0 -41h0m0 57h0m0 -17h0m0 -17h0m1 -2h0m0 2h0m0 40h0m0 -51h0m0 -11h0m0 29h0m0 -25h0m1 11h0m0 32h0m0 0h0m1 -57h0m0 33h0m1 47h0m0 -13h0m1 -5h0m0 0h0m0 28h0m0 -64h0m0 -13h0m0 2h0m1 34h0m0 17h0m0 -26h0m1 -2h0m0 12h0m0 -8h0m1 22h0m0 -11h0m0 16h0m1 -7h0m0 13h0m1 -55h0m0 46h0m1 -2h0m0 -2h0m0 -3h0m1 -45h0m2 19h0m1 13h0m1 4h0m0 -21h0m0 -7h0m0 10h0m1 58h0m0 -51h0m0 44h0m1 -31h0m0 -2h0m0 15h0m1 -33h0m0 41h0m0 20h0m1 -42h0m0 23h0m0 -49h0m4 -6h0m0 48h0m1 -61h0m0 21h0m0 21h0m2 26h0m7 -30h0m0 25h0m0 -14h0m1 -21h0m0 58h0m0 8h0m0 -45h0m1 2h0m1 27h0m0 -33h0m1 -18h0m0 13h0m0 -18h0m1 41h0m0 -3h0m4 -6h0m0 4h0m1 -61h0m0 10h0m0 3h0m0 17h0m0 33h0m0 -34h0m1 -20h0m0 43h0m1 7h0m1 -37h0m0 -12h0m0 70h0m1 -23h0m1 -24h0m0 10h0m1 -39h0m0 2h0m0 50h0m0 9h0m2 -53h0m0 36h0m0 -8h0m1 27h0m0 5h0m0 -40h0m0 14h0m0 -3h0m0 23h0m0 -48h0m1 10h0m0 35h0m18 -17h0m2 38h0m0 -23h0m1 -32h0m1 -29h0m0 16h0m1 -1h0m0 42h0m1 10h0m0 -25h0m2 37h0m0 -64h0m2 56h0m0 -45h0m0 -2h0m1 34h0m0 10h0m0 6h0m2 -12h0m1 -56h0m2 64h0m1 -47h0m0 -7h0m1 52h0m1 -35h0m0 15h0m1 19h0m1 -17h0m1 -17h0m1 19h0m1 -27h0m2 22h0m1 6h0m1 -8h0m2 29h0m0 -36h0m1 29h0m1 -44h0m0 -3h0m0 19h0m1 8h0m0 -46h0m0 34h0m0 -26h0m1 6h0m0 21h0m0 51h0m1 -8h0m0 -2h0m0 -13h0m1 -77h0m0 75h0m0 -3h0m1 -47h0m0 57h0m0 -21h0m1 -14h0m0 67h0m1 -85h0m0 -6h0m0 34h0m1 -17h0m0 32h0m0 4h0m0 27h0m0 -24h0m0 6h0m1 -13h0m0 -39h0m0 -14h0m1 57h0m1 33h0m0 -66h0m1 -8h0m0 23h0m0 15h0m0 -35h0m0 25h0m0 -2h0m0 -2h0m1 38h0m0 -34h0m1 37h0m0 -46h0m0 31h0m1 -6h0m1 -14h0m0 -2h0m0 -15h0m0 16h0m0 -33h0m2 35h0m0 6h0m0 -38h0m1 -3h0m0 66h0m1 -36h0m0 -33h0m2 15h0m0 12h0m5 15h0m0 23h0m0 -31h0m2 3h0m0 -28h0m0 64h0m0 -41h0m1 -46h0m1 56h0m0 -57h0m0 81h0m1 -25h0m0 17h0m1 -64h0m2 53h0m2 1h0m1 -33h0m0 20h0m0 12h0m1 16h0m0 -11h0m1 -71h0m0 96h0m1 -86h0m1 43h0m0 -16h0m2 -20h0m1 -20h0m0 61h0m2 -26h0m0 23h0m0 -24h0m0 -16h0m1 -1h0m0 86h0m1 -98h0m0 41h0m0 -31h0m1 41h0m0 -2h0m0 13h0m1 -14h0m0 33h0m1 9h0m0 -32h0m0 -14h0m1 3h0m1 -25h0m0 35h0m1 -19h0m1 -1h0m3 -17h0m2 39h0m1 -32h0m1 32h0m0 -31h0m0 37h0m1 19h0m0 13h0m2 -54h0m0 -1h0m0 -48h0m1 50h0m0 20h0m0 0h0m0 10h0m0 -3h0m1 -46h0m0 45h0m0 -45h0m1 34h0m0 21h0m0 -33h0m0 -54h0m1 23h0m0 18h0m0 80h0m0 -63h0m0 -33h0m0 46h0m1 -10h0m0 -16h0m0 -10h0m0 41h0m2 -36h0m0 33h0m0 -7h0m1 7h0m0 -2h0m0 -35h0m0 4h0m1 53h0m0 -48h0m0 -39h0m0 78h0m1 -62h0m0 62h0m0 -43h0m1 27h0m0 23h0m1 -25h0m0 29h0m0 -49h0m0 18h0m0 -19h0m1 -10h0m0 -7h0m0 21h0m1 7h0m0 -14h0m2 36h0m1 -68h0m0 39h0m1 -57h0m0 39h0m0 -10h0m1 -16h0m0 51h0m0 4h0m0 15h0m0 -7h0m0 -70h0m1 18h0m1 46h0m0 -47h0m0 60h0m1 13h0m1 -25h0m0 -6h0m0 -24h0m1 34h0m3 -37h0m0 24h0m0 -47h0m2 44h0m0 -3h0m0 -28h0m1 -6h0m1 -6h0m2 26h0m3 13h0m0 -35h0m1 54h0m0 -1h0m0 -37h0m0 -27h0m0 25h0m0 37h0m0 -26h0m1 -3h0m0 47h0m0 -34h0m0 54h0m0 -64h0m1 26h0m0 -46h0m0 -2h0m0 44h0m0 -25h0m0 1h0m1 43h0m0 -24h0m0 3h0m1 -14h0m0 48h0m0 -70h0m0 45h0m1 15h0m0 25h0m0 -92h0m1 42h0m1 -19h0m0 3h0m1 2h0m1 16h0m1 -27h0m1 23h0m0 -36h0m0 5h0m1 45h0m0 2h0m0 -46h0m1 -3h0m0 2h0m0 74h0m1 -73h0m0 19h0m1 45h0m0 -52h0m0 22h0m0 17h0m1 -16h0m0 1h0m0 -26h0m0 32h0m1 -5h0m0 -56h0m1 21h0m1 12h0m0 14h0m0 1h0m0 40h0m1 -73h0m0 8h0m0 -4h0m0 47h0m0 -41h0m0 28h0m0 -60h0m1 42h0m0 32h0m0 -7h0m0 -24h0m1 14h0m0 39h0m1 0h0m0 -73h0m0 28h0m1 -18h0m5 34h0m0 -6h0m0 -2h0m0 -14h0m1 -22h0m0 21h0m1 -1h0m0 13h0m1 25h0m0 -9h0m0 -15h0m0 15h0m2 -9h0m1 30h0m1 -3h0m0 -35h0m0 -43h0m0 68h0m0 -46h0m0 43h0m1 -30h0m1 42h0m0 -53h0m0 -25h0m1 33h0m0 56h0m1 -98h0m0 78h0m1 -70h0m0 73h0m1 -26h0m0 -44h0m1 78h0m0 -34h0m0 -28h0m0 40h0m0 -18h0m1 21h0m0 -13h0m0 14h0m1 -7h0m0 -24h0m0 30h0m0 -59h0m0 56h0m1 -35h0m0 3h0m0 25h0m1 2h0m0 12h0m0 -28h0m0 33h0m0 -26h0m1 -7h0m0 -48h0m1 65h0m0 -17h0m0 -6h0m0 15h0m1 -30h0m0 32h0m0 29h0m1 -68h0m0 53h0m0 9h0m2 -43h0m1 -15h0m0 6h0m0 48h0m0 -51h0m0 59h0m0 -29h0m1 -15h0m0 -12h0m1 -11h0m0 58h0m0 -22h0m1 -45h0m0 52h0m1 19h0m0 -29h0m1 -34h0m0 -3h0m1 51h0m0 -31h0m0 -9h0m1 16h0m0 -23h0m0 57h0m1 -32h0m1 75h0m1 -89h0m0 72h0m5 -41h0m1 15h0m2 13h0m2 -32h0m0 1h0m0 6h0m1 -36h0m0 65h0m1 -54h0m0 25h0m1 -26h0m0 48h0m1 -49h0m0 22h0m0 29h0m1 -15h0m0 -20h0m0 13h0m0 -26h0m1 38h0m0 -49h0m0 -28h0m1 62h0m4 6h0m0 -5h0m0 12h0m0 -51h0m0 72h0m1 -76h0m1 96h0m0 -49h0m1 -46h0m0 34h0m0 19h0m0 -50h0m0 59h0m2 -24h0m0 -14h0m0 -48h0m0 40h0m2 57h0m0 -25h0m0 -34h0m2 25h0m0 -35h0m1 -7h0m1 60h0m0 -13h0m1 -23h0m2 2h0m0 57h0m0 -58h0m1 14h0m1 -3h0m0 -1h0m0 -38h0m0 50h0m1 -51h0m0 38h0m1 12h0m0 -48h0m0 30h0m0 45h0m0 -7h0m1 -39h0m0 -4h0m0 -25h0m0 56h0m1 -49h0m0 -8h0m0 59h0m1 -52h0m0 16h0m0 2h0m1 25h0m1 2h0m1 -14h0m0 -24h0m0 39h0m2 -57h0m1 71h0m2 -60h0m1 22h0m0 -18h0m1 39h0m4 -42h0m0 20h0m0 -35h0m1 38h0m4 8h0m6 -1h0m2 34h0m0 -50h0m1 0h0m0 -11h0m0 4h0m2 33h0m2 18h0m3 25h0m1 -24h0m2 -11h0m1 -12h0m1 33h0m3 -23h0m1 21h0m2 -26h0m0 8h0m0 -63h0m7 66h0m1 -4h0m0 -30h0m4 40h0m0 -82h0m1 64h0m0 20h0m1 23h0m0 -36h0m1 -11h0m2 -26h0m0 -11h0m0 52h0m1 -33h0m1 45h0m0 3h0m1 -59h0m0 4h0m1 -18h0m3 13h0m0 -11h0m0 42h0m5 5h0m1 29h0m0 -15h0m2 -10h0m0 -21h0m3 9h0m2 14h0m1 -46h0m0 -10h0m1 10h0m0 46h0m0 -19h0m3 36h0m10 -15h0m1 -46h0m1 40h0m1 13h0m4 -13h0m2 10h0m0 -39h0m2 -8h0m0 97h0m0 -62h0m1 58h0m5 -42h0m1 -28h0m0 -9h0m1 -29h0m0 73h0m0 -30h0m0 10h0m0 -5h0m1 18h0m0 -29h0m0 39h0m0 -33h0m0 -30h0m1 -7h0m1 1h0m0 44h0m0 5h0m0 -6h0m0 -11h0m0 38h0m1 -13h0m0 -27h0m0 -22h0m0 57h0m1 3h0m0 -7h0m0 -24h0m1 -29h0m0 45h0m0 -9h0m0 11h0m0 19h0m16 -67h0m1 22h0m2 30h0m1 -14h0m0 -57h0m4 74h0m0 29h0m0 -65h0m1 3h0m0 -1h0m2 20h0m4 0h0m2 -20h0m3 -39h0m1 72h0m1 9h0m0 -2h0m1 -32h0m2 35h0m0 -32h0m1 27h0m0 -45h0m1 26h0m0 -13h0m1 -2h0m1 3h0m0 -41h0m1 42h0m0 -19h0m0 6h0m1 -24h0m0 14h0m0 7h0m1 39h0m0 -4h0m0 -32h0m0 28h0m1 14h0m1 -38h0m0 2h0m6 -27h0m0 55h0m5 24h0m3 -32h0m2 75h0m4 -78h0m1 14h0m1 -4h0m0 -16h0m1 -5h0m2 0h0m1 24h0m0 -32h0m3 27h0m1 -15h0m0 17h0m0 -25h0m1 10h0m1 5h0m0 -28h0m1 41h0m0 -51h0m3 -23h0m0 29h0m1 21h0m0 -31h0m0 14h0m0 5h0m1 16h0m1 12h0m0 -17h0m1 -14h0m0 35h0m1 -14h0m14 -48h0m1 33h0m0 30h0m0 -39h0m1 35h0m1 -33h0m0 50h0m0 -60h0m0 29h0m2 48h0m1 -93h0m0 87h0m0 -35h0m1 -26h0m0 23h0m1 -2h0m0 -16h0m0 52h0m1 -40h0m1 8h0m1 -41h0m2 15h0m1 -5h0m0 -3h0m0 27h0m0 -10h0m0 50h0m1 -38h0m2 -9h0m0 -31h0m0 22h0m1 52h0m3 -40h0m0 64h0m1 -80h0m0 -3h0m1 76h0m1 -86h0m0 -4h0m0 38h0m0 -2h0m2 -40h0m1 38h0m0 -3h0m0 0h0m0 -44h0m0 39h0m0 -14h0m0 16h0m0 -20h0m0 5h0m1 17h0m0 63h0m1 -62h0m0 24h0m0 -18h0m1 -39h0m0 -1h0m0 61h0m0 7h0m0 -49h0m1 -25h0m0 44h0m1 45h0m0 -84h0m0 28h0m0 -2h0m1 -49h0m1 97h0m0 -11h0m1 -33h0m1 19h0m0 -59h0m1 63h0m0 -56h0m0 13h0m0 1h0m1 28h0m0 15h0m0 -50h0m0 23h0m1 -4h0m0 18h0m1 -27h0m0 -11h0m0 24h0m2 -10h0m0 30h0m1 13h0m0 -4h0m0 -37h0m0 39h0m1 -57h0m0 48h0m0 -36h0m1 55h0m0 0h0m1 -63h0m0 75h0m2 -50h0m1 38h0m1 -57h0m0 59h0m0 -27h0m1 -35h0m0 -3h0m2 27h0m1 46h0m0 -70h0m2 16h0m1 52h0m0 -22h0m0 -43h0m2 31h0m0 -5h0m0 33h0m0 -16h0m1 0h0m1 -21h0m0 -4h0m1 43h0m2 -61h0m2 22h0m18 -2h0m3 -30h0m0 62h0m1 -22h0m0 1h0m0 -58h0m1 71h0m0 0h0m1 -59h0m1 49h0m0 -42h0m0 18h0m0 26h0m0 27h0m1 -38h0m1 -29h0m0 28h0m0 -42h0m0 41h0m0 9h0m1 -29h0m0 2h0m0 -2h0m0 32h0m1 12h0m0 -21h0m0 -12h0m0 -1h0m0 47h0m1 -54h0m0 16h0m1 -19h0m0 57h0m0 -24h0m0 21h0m1 -52h0m0 -24h0m0 47h0m1 -15h0m0 -10h0m1 50h0m0 5h0m1 -39h0m0 25h0m0 -11h0m0 14h0m1 -9h0m0 -36h0m0 14h0m0 25h0m0 12h0m1 -28h0m0 7h0m0 -38h0m1 63h0m0 -56h0m0 5h0m0 25h0m0 -5h0m1 11h0m2 12h0m1 -50h0m0 53h0m0 -52h0m0 51h0m1 -21h0m0 6h0m0 10h0m2 -51h0m0 23h0m0 7h0m1 7h0m0 13h0m0 4h0m1 -5h0m1 -28h0m3 34h0m1 -54h0m0 9h0m1 -18h0m2 59h0m2 -42h0m0 -27h0m0 79h0m1 -33h0m1 -19h0m1 39h0m1 -8h0m1 -26h0m0 45h0m1 -56h0m0 59h0m1 -43h0m0 21h0m3 0h0m0 5h0m1 -48h0m0 48h0m0 4h0m0 -13h0m0 13h0m2 -18h0m1 -6h0m1 -17h0m2 10h0m1 -29h0m0 28h0m0 20h0m0 -10h0m1 2h0m0 5h0m1 -15h0m0 20h0m0 22h0m0 -44h0m4 1h0m0 23h0m1 -20h0m0 36h0m0 21h0m0 -36h0m0 -24h0m1 -36h0m1 63h0m1 -5h0m0 30h0m1 -82h0m1 22h0m1 27h0m2 -9h0m0 -24h0m0 38h0m0 28h0m2 -63h0m2 -14h0m0 4h0m1 -12h0m2 28h0m1 18h0m1 22h0m3 -16h0m0 32h0m2 -81h0m1 68h0m1 -45h0m0 22h0m11 -32h0m2 93h0m0 -90h0m1 51h0m0 -19h0m3 0h0m0 14h0m2 -16h0m4 -31h0m0 8h0m0 -7h0m0 27h0m1 -45h0m1 35h0m0 6h0m1 35h0m0 -18h0m1 -31h0m0 18h0m1 58h0m0 -51h0m0 -1h0m1 -34h0m0 -19h0m1 41h0m0 -13h0m1 34h0m0 -48h0m0 -15h0m0 59h0m1 -60h0m0 22h0m0 25h0m0 -17h0m0 15h0m1 -39h0m0 63h0m0 -26h0m2 62h0m0 -48h0m0 4h0m0 -28h0m0 31h0m1 -15h0m0 -18h0m1 24h0m1 -44h0m1 51h0m5 -4h0m2 -35h0m0 -16h0m3 72h0m0 -38h0m1 42h0m0 -17h0m0 -49h0m1 62h0m0 -2h0m1 13h0m0 -2h0m2 -56h0m0 -3h0m0 51h0m0 -39h0m1 -3h0m0 -9h0m2 40h0m0 -1h0m0 -21h0m0 28h0m1 -46h0m0 46h0m0 -64h0m1 3h0m0 26h0m1 26h0m1 3h0m0 -15h0m1 -18h0m0 19h0m0 16h0m0 -49h0m0 45h0m0 -5h0m1 3h0m0 3h0m0 -3h0m0 10h0m0 -72h0m1 10h0m0 19h0m1 41h0m0 -55h0m0 25h0m2 0h0m0 12h0m0 5h0m0 -45h0m0 33h0m0 45h0m1 -71h0m0 -8h0m1 31h0m0 35h0m1 -28h0m1 35h0m1 -42h0m2 -16h0m4 3h0m1 -30h0m2 -4h0m2 106h0m2 -27h0m1 -67h0m1 72h0m0 -53h0m0 52h0m0 -63h0m1 30h0m0 -3h0m0 -12h0m0 38h0m1 -49h0m0 23h0m0 5h0m0 0h0m1 -38h0m0 58h0m0 -23h0m1 -17h0m0 15h0m0 45h0m0 -28h0m0 17h0m1 -30h0m0 11h0m0 56h0m0 -49h0m0 -51h0m1 22h0m0 -16h0m0 5h0m0 30h0m0 -5h0m0 24h0m0 -10h0m0 19h0m0 -19h0m1 24h0m0 -68h0m1 53h0m0 -17h0m0 -39h0m0 47h0m2 -5h0m0 9h0m0 32h0m0 -85h0m0 26h0m0 14h0m1 0h0m0 -13h0m1 20h0m0 -42h0m0 31h0m0 -22h0m1 -1h0m0 54h0m0 -27h0m1 -7h0m0 14h0m1 -29h0m4 18h0m0 -52h0m0 42h0m1 19h0m0 -4h0m0 -10h0m1 -37h0m0 -23h0m0 70h0m1 -24h0m0 -31h0m1 110h0m0 -86h0m0 -10h0m0 60h0m0 -61h0m1 -25h0m1 62h0m0 4h0m1 -14h0m0 -38h0m1 8h0m4 5h0m0 44h0m1 64h0m1 -55h0m0 -21h0m1 26h0m0 -16h0m1 -37h0m2 -12h0m2 42h0m0 -35h0m1 22h0m1 46h0m0 -39h0m0 9h0m1 3h0m1 -36h0m0 67h0m2 -63h0m3 34h0m0 -54h0m2 39h0m2 -11h0m2 -32h0m1 35h0m0 23h0m0 -9h0m1 -35h0m0 44h0m0 37h0m1 -82h0m0 -13h0m0 50h0m2 -37h0m1 32h0m1 29h0m0 25h0m0 -48h0m1 15h0m1 -40h0m0 80h0m2 -116h0m1 57h0m0 6h0m2 -10h0m1 18h0m1 -51h0m1 27h0m0 4h0m1 -14h0m0 9h0m1 29h0m0 -57h0m0 47h0m0 -12h0m0 -2h0m1 -27h0m0 1h0m0 64h0m1 -83h0m0 48h0m0 -3h0m0 30h0m3 -17h0m1 -19h0m0 12h0m0 28h0m0 -4h0m1 -22h0m0 41h0m1 3h0m0 -34h0m1 24h0m0 -42h0m0 55h0m1 -63h0m0 23h0m6 15h0m0 34h0m0 -51h0m1 22h0m0 -45h0m0 73h0m1 -43h0m1 -13h0m3 9h0m5 14h0m0 -37h0m1 14h0m0 10h0m3 3h0m0 -19h0m1 73h0m1 -25h0m1 -72h0m0 86h0m4 -77h0m0 29h0m1 13h0m1 -6h0m0 13h0m1 -27h0m0 -22h0m1 91h0m0 -46h0m0 -48h0m0 18h0m2 17h0m0 -36h0m0 21h0m0 -28h0m0 29h0m0 -24h0m1 30h0m0 22h0m1 -16h0m1 16h0m5 -80h0m3 59h0m0 -47h0m0 3h0m1 13h0m0 -18h0m1 -2h0m1 41h0m1 23h0m1 -31h0m0 13h0m1 6h0m1 -28h0m0 34h0m1 -62h0m0 27h0m1 -8h0m1 54h0m0 -67h0m0 41h0m1 -30h0m0 1h0m3 29h0m1 30h0m1 2h0m0 -2h0m0 -11h0m0 -39h0m0 3h0m1 6h0m0 -31h0m0 66h0m1 -6h0m2 27h0m0 -68h0m1 -5h0m0 60h0m1 15h0m0 -86h0m1 29h0m0 -17h0m1 48h0m2 7h0m3 -47h0m1 -5h0m1 31h0m1 27h0m0 -51h0m1 -24h0m1 61h0m0 -32h0m0 7h0m0 2h0m2 -23h0m2 2h0m0 72h0m0 -56h0m1 -52h0m0 12h0m1 54h0m11 2h0m0 4h0m1 12h0m0 -73h0m1 42h0m1 8h0m1 -6h0m0 -20h0m0 65h0m2 -22h0m0 -13h0m0 -39h0m1 39h0m0 23h0m0 -55h0m0 37h0m0 -31h0m1 -11h0m0 32h0m0 -23h0m1 32h0m0 -47h0m0 26h0m0 -21h0m1 55h0m0 -67h0m1 33h0m0 47h0m0 -61h0m0 0h0m1 40h0m0 -36h0m0 12h0m0 9h0m0 1h0m1 -42h0m0 6h0m0 39h0m1 42h0m0 -48h0m0 -42h0m0 38h0m1 34h0m0 -31h0m0 -3h0m0 29h0m1 -17h0m0 -11h0m1 23h0m0 -9h0m1 13h0m1 -54h0m0 46h0m1 -21h0m1 52h0m0 -22h0m1 -17h0m0 19h0m0 -70h0m0 89h0m1 -34h0m0 17h0m0 17h0m0 -66h0m0 -8h0m1 35h0m0 11h0m1 -35h0m0 -19h0m1 41h0m0 -29h0m1 15h0m0 4h0m0 -39h0m0 70h0m0 27h0m1 -86h0m0 47h0m0 -28h0m0 -26h0m1 22h0m11 9h0m0 7h0m0 -4h0m0 7h0m1 -19h0m0 52h0m0 -35h0m1 -15h0m0 54h0m1 -49h0m0 -15h0m0 -19h0m0 19h0m1 51h0m0 1h0m1 0h0m0 -18h0m2 -4h0m0 53h0m0 -61h0m0 37h0m1 -5h0m0 -43h0m0 -1h0m1 -38h0m2 58h0m3 -17h0m3 36h0m1 -60h0m1 42h0m0 -56h0m2 21h0m0 8h0m1 12h0m1 8h0m1 16h0m0 -20h0m1 24h0m2 -62h0m4 2h0m1 24h0m2 2h0m0 -56h0m2 31h0m1 -3h0m0 -32h0m1 4h0m1 16h0m2 7h0m0 -21h0m2 47h0m0 1h0m2 -53h0m0 -5h0m1 15h0m0 63h0m1 0h0m0 -94h0m4 45h0m1 0h0m2 -41h0m8 65h0m2 -32h0m2 -10h0m0 2h0m2 78h0m1 -104h0m0 80h0m1 -11h0m0 -49h0m4 31h0m4 -37h0m0 38h0m1 6h0m0 10h0m3 -40h0m0 11h0m1 -7h0m1 -3h0m0 -1h0m0 10h0m2 3h0m1 45h0m0 9h0m1 -111h0m1 115h0m1 -30h0m10 11h0m2 -34h0m0 7h0m4 26h0m0 10h0m0 -8h0m3 -97h0m0 10h0m5 49h0m0 39h0m0 -46h0m3 -14h0m0 52h0m0 -38h0m1 20h0m2 -46h0m1 3h0m2 55h0m0 -39h0m1 -17h0m2 42h0m1 18h0m2 -2h0m6 5h0m1 -64h0m2 5h0m2 -24h0m1 38h0m3 21h0m1 -34h0m1 16h0"/><path stroke-width="7.0" d="M125 599h0m0 11h0m1 -60h0m0 59h0m0 -68h0m2 75h0m1 62h0m0 -125h0m0 38h0m1 10h0m2 -22h0m0 -36h0m0 33h0m1 -31h0m0 58h0m1 -32h0m0 -24h0m0 -1h0m1 21h0m2 16h0m0 2h0m0 28h0m1 -60h0m1 50h0m0 -1h0m0 -11h0m1 -7h0m3 15h0m0 14h0m1 11h0m1 -35h0m0 14h0m3 -55h0m4 4h0m1 53h0m0 -60h0m3 11h0m2 75h0m1 -87h0m2 56h0m1 -1h0m1 -6h0m0 -23h0m0 26h0m6 -22h0m0 33h0m0 -41h0m1 25h0m0 27h0m0 -35h0m3 4h0m1 -35h0m0 -9h0m1 23h0m1 -19h0m0 8h0m0 41h0m0 -22h0m7 -8h0m0 -22h0m2 40h0m0 31h0m1 14h0m0 -72h0m0 18h0m1 -32h0m2 14h0m0 44h0m0 -40h0m0 38h0m0 2h0m0 -53h0m1 55h0m0 36h0m0 -52h0m1 5h0m0 -31h0m0 28h0m0 -17h0m0 35h0m0 -48h0m1 25h0m0 42h0m0 -62h0m0 2h0m0 -31h0m1 34h0m0 20h0m0 0h0m0 -15h0m0 -3h0m1 -19h0m0 23h0m0 -19h0m0 7h0m0 62h0m1 -67h0m0 65h0m0 -46h0m0 -38h0m1 0h0m0 14h0m0 43h0m0 12h0m0 19h0m1 -59h0m0 59h0m0 -37h0m0 -8h0m0 9h0m0 -13h0m1 39h0m0 -33h0m0 -21h0m0 29h0m1 13h0m0 -35h0m0 31h0m0 3h0m0 -10h0m1 -23h0m0 6h0m1 -6h0m1 52h0m0 -44h0m0 -26h0m1 -3h0m0 71h0m0 -62h0m0 25h0m1 -15h0m0 19h0m2 19h0m0 20h0m0 -43h0m1 -42h0m0 9h0m4 50h0m22 -52h0m1 77h0m0 -43h0m0 -41h0m0 21h0m2 28h0m1 -28h0m0 52h0m1 -57h0m0 89h0m3 -104h0m1 37h0m1 2h0m0 -6h0m1 -20h0m0 41h0m1 0h0m1 -10h0m0 13h0m1 -16h0m2 -41h0m0 99h0m1 -8h0m0 -77h0m4 14h0m0 20h0m0 0h0m1 -42h0m0 41h0m1 3h0m0 -56h0m1 57h0m0 9h0m0 -49h0m2 23h0m3 32h0m1 -34h0m1 16h0m0 34h0m2 -60h0m4 -25h0m1 9h0m0 26h0m2 20h0m0 -1h0m0 24h0m3 -78h0m0 31h0m2 -9h0m1 6h0m0 53h0m0 -11h0m1 14h0m1 -46h0m0 7h0m0 -16h0m2 -12h0m0 30h0m2 -1h0m0 4h0m1 -30h0m0 30h0m0 -18h0m1 34h0m0 -12h0m1 -1h0m0 -42h0m1 23h0m0 55h0m0 -18h0m2 -6h0m2 -16h0m0 28h0m0 -26h0m0 18h0m0 -66h0m1 5h0m0 44h0m0 18h0m1 9h0m0 -26h0m0 3h0m1 -9h0m0 40h0m1 -19h0m1 7h0m0 -66h0m0 3h0m0 41h0m1 12h0m0 -38h0m0 11h0m0 3h0m1 -14h0m0 36h0m0 -40h0m1 16h0m0 15h0m1 -50h0m0 32h0m1 40h0m0 -24h0m1 -15h0m0 -25h0m2 39h0m1 -33h0m1 12h0m0 10h0m0 24h0m1 -47h0m1 21h0m0 -6h0m1 2h0m0 33h0m1 4h0m3 -26h0m1 -46h0m1 20h0m0 57h0m2 -24h0m1 -35h0m0 78h0m0 -47h0m0 -47h0m0 51h0m2 -2h0m1 9h0m0 14h0m0 -23h0m0 19h0m1 -50h0m0 62h0m1 -64h0m0 -18h0m1 15h0m0 -17h0m0 7h0m0 49h0m1 19h0m0 6h0m0 -84h0m1 79h0m0 -13h0m2 -1h0m1 4h0m0 -4h0m1 -46h0m0 9h0m1 33h0m0 -1h0m2 -9h0m0 -6h0m1 29h0m0 -56h0m0 61h0m0 -57h0m0 41h0m0 16h0m0 -26h0m0 1h0m1 -23h0m0 73h0m1 -18h0m1 -33h0m0 34h0m1 -1h0m0 2h0m0 -69h0m1 64h0m1 -54h0m1 -11h0m0 12h0m0 49h0m1 -50h0m1 54h0m0 -29h0m0 -31h0m1 62h0m0 -46h0m0 1h0m2 -6h0m0 12h0m0 -40h0m0 76h0m1 28h0m0 -88h0m1 -12h0m0 19h0m1 59h0m0 -36h0m0 -31h0m1 12h0m1 23h0m0 -8h0m1 31h0m1 -2h0m1 17h0m1 6h0m0 -61h0m0 3h0m0 -22h0m0 -5h0m1 26h0m1 10h0m0 33h0m0 -71h0m1 25h0m0 -29h0m0 65h0m0 -62h0m0 19h0m1 8h0m0 42h0m1 5h0m0 -19h0m1 -42h0m1 16h0m0 -26h0m1 15h0m1 31h0m0 61h0m1 -108h0m1 25h0m0 61h0m1 -87h0m0 33h0m1 -35h0m1 51h0m0 28h0m1 -73h0m0 41h0m1 -31h0m4 53h0m14 -29h0m0 27h0m0 -45h0m1 9h0m0 -19h0m0 7h0m4 20h0m2 -10h0m2 -16h0m0 44h0m0 -45h0m2 64h0m1 -44h0m9 31h0m0 -12h0m1 1h0m0 -43h0m0 60h0m0 -1h0m1 -59h0m0 31h0m1 -20h0m0 -6h0m1 5h0m0 -3h0m1 35h0m0 -39h0m1 52h0m0 -15h0m1 -43h0m0 63h0m1 4h0m1 7h0m1 -69h0m1 17h0m0 48h0m1 -15h0m1 -37h0m0 -6h0m2 28h0m1 31h0m2 -23h0m0 -45h0m0 36h0m0 2h0m1 -50h0m0 53h0m1 61h0m3 -79h0m0 5h0m0 30h0m1 -24h0m1 -45h0m5 37h0m0 13h0m0 38h0m0 -40h0m1 37h0m0 -33h0m1 -2h0m0 9h0m0 9h0m3 -63h0m0 66h0m1 -1h0m1 -17h0m0 -29h0m5 -4h0m2 45h0m0 6h0m1 2h0m0 -49h0m1 -3h0m0 67h0m2 -46h0m0 -33h0m1 1h0m1 33h0m0 30h0m1 -34h0m3 26h0m1 -64h0m2 17h0m1 2h0m1 26h0m1 -20h0m0 2h0m2 9h0m1 -41h0m0 54h0m2 -14h0m2 24h0m0 -17h0m0 -9h0m1 3h0m0 6h0m1 -22h0m0 55h0m0 -40h0m0 1h0m0 -6h0m1 -2h0m0 -7h0m0 13h0m1 1h0m1 -2h0m1 18h0m0 12h0m0 -52h0m2 46h0m0 -24h0m1 -11h0m0 44h0m1 -10h0m0 1h0m1 -41h0m1 15h0m0 16h0m1 -8h0m0 -43h0m0 6h0m1 14h0m0 13h0m1 10h0m0 -22h0m0 58h0m0 -70h0m2 22h0m7 34h0m0 -72h0m2 72h0m1 -3h0m1 -14h0m0 -25h0m1 48h0m0 -71h0m1 33h0m1 27h0m0 -33h0m2 15h0m1 -13h0m1 25h0m0 -33h0m1 -5h0m0 46h0m0 5h0m1 -69h0m1 44h0m0 -18h0m0 -23h0m0 50h0m1 -4h0m0 -41h0m1 85h0m0 -78h0m1 50h0m1 -50h0m3 32h0m0 -18h0m0 52h0m1 2h0m0 -27h0m3 -33h0m0 -2h0m0 14h0m0 -22h0m1 22h0m1 8h0m0 4h0m1 7h0m0 -47h0m0 55h0m1 -68h0m0 64h0m1 -23h0m0 26h0m1 3h0m0 -32h0m1 20h0m2 7h0m4 -10h0m2 -42h0m0 81h0m2 -39h0m2 -13h0m1 28h0m0 -10h0m1 -32h0m0 18h0m0 15h0m1 -30h0m1 12h0m0 39h0m0 -58h0m1 75h0m0 -54h0m0 28h0m2 -1h0m0 -8h0m1 -22h0m0 14h0m1 8h0m0 24h0m0 -48h0m2 70h0m11 -52h0m0 -31h0m1 -1h0m0 70h0m2 -62h0m1 28h0m1 -24h0m1 25h0m2 9h0m0 12h0m0 -13h0m0 -40h0m0 3h0m1 26h0m0 38h0m0 -44h0m0 14h0m0 -33h0m0 30h0m1 14h0m0 -14h0m0 -9h0m1 23h0m0 -27h0m0 26h0m1 -40h0m1 -23h0m0 26h0m0 48h0m0 3h0m0 -46h0m0 26h0m0 -22h0m2 34h0m0 -36h0m0 23h0m0 -10h0m0 19h0m1 -35h0m0 35h0m0 -19h0m0 31h0m0 -58h0m0 30h0m1 6h0m1 -13h0m0 26h0m0 -19h0m0 -32h0m1 6h0m0 28h0m0 22h0m0 -80h0m0 7h0m0 16h0m0 34h0m1 4h0m0 1h0m1 -15h0m0 5h0m0 -33h0m0 51h0m0 -15h0m0 -4h0m1 -45h0m0 38h0m0 15h0m0 12h0m0 -34h0m0 4h0m0 -25h0m0 22h0m0 -27h0m1 24h0m1 30h0m0 -50h0m0 36h0m0 25h0m1 -20h0m0 -16h0m1 -40h0m0 95h0m2 -83h0m0 36h0m0 17h0m0 -49h0m0 3h0m0 43h0m1 2h0m0 -23h0m0 -2h0m1 -23h0m1 57h0m1 -34h0m0 13h0m1 12h0m2 -53h0m1 64h0m0 -15h0m0 -11h0m2 2h0m0 35h0m0 14h0m0 -66h0m2 7h0m1 2h0m0 -5h0m1 2h0m0 20h0m0 -37h0m0 40h0m1 -58h0m1 54h0m0 5h0m1 -9h0m0 -37h0m1 7h0m0 24h0m0 -32h0m0 -21h0m1 36h0m0 -4h0m1 21h0m0 -12h0m0 14h0m1 -33h0m0 72h0m0 -61h0m0 33h0m0 -7h0m1 6h0m0 -1h0m0 -7h0m0 -22h0m0 -6h0m0 2h0m1 -4h0m0 42h0m0 -30h0m1 27h0m1 -49h0m0 -8h0m0 1h0m0 19h0m0 19h0m1 -18h0m0 18h0m0 10h0m0 -41h0m1 31h0m0 -17h0m0 22h0m0 8h0m1 -6h0m1 -7h0m1 1h0m0 -4h0m0 -13h0m0 -9h0m0 25h0m1 5h0m0 9h0m0 1h0m0 -64h0m0 61h0m2 -43h0m0 48h0m0 -5h0m0 -27h0m1 51h0m0 -69h0m1 24h0m0 -23h0m0 28h0m0 1h0m1 10h0m0 -30h0m0 -3h0m0 20h0m1 -20h0m0 81h0m0 -59h0m1 13h0m0 8h0m0 -59h0m0 49h0m1 2h0m0 -3h0m0 -3h0m0 23h0m1 -46h0m0 10h0m1 18h0m0 -26h0m1 -7h0m4 48h0m1 -93h0m0 64h0m0 57h0m0 -40h0m1 -47h0m1 42h0m0 16h0m1 -10h0m0 -6h0m0 -30h0m1 34h0m0 14h0m0 -35h0m0 -22h0m4 23h0m3 21h0m1 -33h0m0 -15h0m0 8h0m1 40h0m1 -14h0m1 7h0m1 -48h0m1 32h0m0 -13h0m0 2h0m1 74h0m0 -78h0m0 8h0m1 -14h0m0 48h0m1 32h0m0 -66h0m0 43h0m0 -27h0m0 55h0m0 -26h0m0 -9h0m1 -18h0m0 27h0m0 -45h0m0 33h0m0 -38h0m0 55h0m0 1h0m1 -20h0m0 26h0m0 -45h0m0 -10h0m1 36h0m0 -33h0m1 22h0m0 -28h0m0 57h0m0 -33h0m1 40h0m0 -23h0m0 3h0m1 -2h0m0 25h0m1 -44h0m0 9h0m1 -14h0m1 -11h0m0 -1h0m0 -9h0m0 24h0m2 24h0m4 12h0m1 18h0m1 15h0m0 -91h0m0 39h0m1 -58h0m0 64h0m0 -7h0m0 2h0m0 6h0m1 -50h0m1 57h0m1 -22h0m0 0h0m1 11h0m0 -46h0m5 17h0m1 54h0m2 -68h0m1 76h0m0 -59h0m1 17h0m0 16h0m0 -10h0m0 -24h0m0 -4h0m1 47h0m0 -20h0m0 18h0m1 -35h0m0 43h0m0 -53h0m0 20h0m0 -27h0m1 -11h0m1 60h0m0 -61h0m1 49h0m0 2h0m1 2h0m0 -1h0m0 -43h0m1 -3h0m1 46h0m0 -23h0m2 14h0m1 -27h0m0 -7h0m0 5h0m2 52h0m0 30h0m0 -67h0m0 7h0m0 -33h0m0 24h0m1 11h0m0 -8h0m1 -3h0m0 -16h0m0 33h0m2 -8h0m1 -33h0m0 53h0m1 0h0m0 -52h0m1 35h0m0 -47h0m1 79h0m4 -22h0m0 -17h0m1 20h0m1 36h0m1 -48h0m0 13h0m1 -10h0m2 38h0m1 8h0m0 -49h0m2 -49h0m1 70h0m4 -61h0m0 53h0m2 -1h0m0 -23h0m0 1h0m0 -18h0m0 5h0m0 18h0m2 1h0m0 21h0m2 23h0m1 -8h0m0 -25h0m0 -4h0m0 -5h0m2 12h0m0 -29h0m0 33h0m0 3h0m0 0h0m0 -18h0m0 23h0m1 -59h0m0 35h0m0 3h0m1 23h0m0 -19h0m0 -5h0m1 -40h0m0 -5h0m2 14h0m1 9h0m0 48h0m0 -36h0m0 6h0m0 -23h0m0 -6h0m0 58h0m0 -49h0m1 31h0m0 29h0m1 -25h0m0 0h0m2 -11h0m0 19h0m1 -34h0m0 20h0m1 -36h0m0 -4h0m0 4h0m0 11h0m0 32h0m1 -38h0m0 35h0m0 -16h0m0 32h0m0 7h0m1 -77h0m0 6h0m1 32h0m0 -8h0m0 24h0m1 2h0m1 -5h0m0 -46h0m0 57h0m0 14h0m0 -57h0m0 42h0m1 -24h0m0 -22h0m0 20h0m0 61h0m0 -48h0m0 -39h0m1 50h0m0 6h0m0 -27h0m1 -10h0m0 17h0m0 -20h0m0 48h0m0 -57h0m1 28h0m0 -5h0m0 -6h0m0 4h0m1 -10h0m0 59h0m0 -33h0m0 -9h0m0 -34h0m1 57h0m0 -39h0m0 -4h0m1 26h0m0 8h0m0 -32h0m0 5h0m0 25h0m1 -35h0m0 71h0m0 -35h0m0 3h0m0 -33h0m1 -5h0m0 16h0m0 -10h0m1 55h0m1 -74h0m1 43h0m0 -36h0m0 -13h0m0 8h0m0 58h0m1 -24h0m0 6h0m0 -1h0m0 -51h0m1 30h0m0 21h0m0 12h0m0 -45h0m1 1h0m0 60h0m1 -24h0m0 -15h0m1 65h0m0 -68h0m0 -26h0m0 19h0m1 24h0m0 -12h0m0 4h0m0 -28h0m1 25h0m0 -2h0m1 27h0m0 -56h0m1 37h0m0 -29h0m1 34h0m1 4h0m1 6h0m0 -5h0m1 -20h0m2 28h0m1 -12h0m0 -56h0m1 12h0m0 1h0m1 57h0m1 -9h0m0 -7h0m0 0h0m1 17h0m6 -73h0m1 81h0m0 -61h0m2 48h0m0 -39h0m0 18h0m1 -8h0m0 16h0m0 -37h0m0 36h0m2 -57h0m1 33h0m1 -34h0m1 3h0m0 43h0m3 -13h0m0 1h0m1 14h0m0 -40h0m1 46h0m1 37h0m3 -31h0m0 -7h0m2 6h0m0 6h0m2 -35h0m0 66h0m0 -61h0m1 0h0m3 38h0m1 -17h0m0 -53h0m0 24h0m0 25h0m1 20h0m0 -2h0m0 -10h0m0 -40h0m1 19h0m0 -22h0m0 43h0m0 -27h0m0 23h0m0 -20h0m1 46h0m1 -48h0m0 -4h0m0 71h0m4 -66h0m0 30h0m2 -42h0m1 22h0m2 -1h0m0 34h0m1 -38h0m0 -13h0m0 53h0m1 -27h0m1 -36h0m1 20h0m1 8h0m2 -30h0m2 27h0m0 2h0m1 -2h0m0 36h0m0 -25h0m2 26h0m0 -59h0m2 7h0m2 -29h0m0 57h0m0 -24h0m0 28h0m1 -15h0m0 -7h0m1 -6h0m0 16h0m1 -20h0m0 23h0m0 -29h0m0 -11h0m1 19h0m0 17h0m1 5h0m0 19h0m0 -32h0m0 5h0m1 -22h0m0 28h0m0 -52h0m0 9h0m1 19h0m0 44h0m1 19h0m0 -43h0m0 -16h0m1 -3h0m0 23h0m0 -39h0m1 29h0m0 -15h0m1 20h0m0 15h0m0 -39h0m0 14h0m0 9h0m1 22h0m0 -19h0m0 -31h0m0 14h0m0 18h0m0 19h0m0 2h0m0 -70h0m1 48h0m0 -29h0m1 37h0m0 -17h0m1 37h0m0 -24h0m1 26h0m1 4h0m0 -67h0m1 36h0m0 14h0m1 3h0m0 -39h0m0 8h0m0 21h0m0 -6h0m1 20h0m0 0h0m0 -53h0m0 41h0m0 -30h0m0 81h0m1 -62h0m0 -15h0m0 -9h0m0 45h0m1 -1h0m0 -5h0m0 -27h0m0 47h0m2 -23h0m0 -10h0m1 -31h0m0 69h0m1 -66h0m3 28h0m0 -2h0m0 -19h0m0 30h0m1 -12h0m0 3h0m1 -31h0m0 27h0m0 46h0m0 15h0m1 -72h0m0 36h0m0 -32h0m0 -27h0m1 13h0m0 -1h0m1 29h0m1 2h0m1 -7h0m4 -27h0m1 -11h0m2 50h0m0 -30h0m0 58h0m0 -48h0m1 -15h0m0 52h0m0 -43h0m1 39h0m0 -34h0m0 -11h0m1 31h0m0 -12h0m1 40h0m0 -39h0m1 -26h0m0 -15h0m0 8h0m1 5h0m1 30h0m0 20h0m2 -2h0m0 34h0m1 -89h0m0 3h0m0 38h0m0 -21h0m1 -2h0m1 -1h0m2 31h0m1 -9h0m0 -29h0m2 -1h0m0 -15h0m1 58h0m0 -65h0m0 55h0m0 20h0m1 5h0m3 -73h0m0 56h0m2 -14h0m0 -20h0m1 11h0m1 19h0m1 -34h0m2 22h0m0 -19h0m3 -15h0m0 38h0m1 -2h0m1 0h0m5 9h0m1 -41h0m0 41h0m3 31h0m2 -62h0m0 15h0m1 -4h0m1 -26h0m1 13h0m1 -3h0m2 17h0m2 10h0m0 -4h0m0 12h0m1 -30h0m0 27h0m0 -22h0m1 5h0m0 -5h0m0 24h0m1 6h0m0 0h0m0 25h0m0 -35h0m1 -9h0m1 -10h0m0 -40h0m0 64h0m0 19h0m0 -43h0m0 -17h0m1 51h0m0 -33h0m1 31h0m0 19h0m0 -54h0m1 -7h0m0 61h0m1 -19h0m0 -46h0m0 61h0m1 -54h0m0 16h0m0 -20h0m0 21h0m1 62h0m0 -55h0m0 -54h0m0 15h0m1 5h0m0 36h0m1 26h0m0 -59h0m0 3h0m0 36h0m1 5h0m0 -27h0m1 47h0m0 -90h0m0 24h0m1 41h0m1 -22h0m0 1h0m1 1h0m0 -37h0m1 47h0m0 -7h0m0 -24h0m0 44h0m1 -34h0m1 -29h0m0 52h0m1 -14h0m0 23h0m1 -20h0m1 25h0m0 1h0m1 -4h0m1 19h0m0 -23h0m1 -55h0m1 47h0m1 -8h0m6 34h0m0 -58h0m1 9h0m0 44h0m1 15h0m0 -28h0m2 13h0m1 -30h0m0 22h0m0 -39h0m0 53h0m1 -59h0m0 66h0m0 -49h0m1 12h0m2 9h0m0 21h0m1 -88h0m1 55h0m1 -11h0m0 29h0m0 -51h0m0 45h0m1 -43h0m0 -1h0m0 31h0m1 3h0m2 -40h0m0 43h0m0 -5h0m1 -21h0m0 50h0m0 -17h0m1 -45h0m1 50h0m0 -54h0m0 20h0m1 35h0m1 32h0m0 -55h0m0 34h0m0 -27h0m2 -31h0m1 48h0m1 -31h0m3 20h0m3 -10h0m2 -3h0m1 9h0m4 2h0m3 -10h0m1 16h0m0 -39h0m1 12h0m0 -10h0m1 19h0m0 7h0m1 -22h0m0 69h0m0 -41h0m1 30h0m0 -39h0m0 10h0m1 37h0m0 -63h0m0 -6h0m0 44h0m0 24h0m0 -30h0m1 -31h0m0 -1h0m0 22h0m0 7h0m1 -54h0m0 31h0m1 32h0m0 -23h0m1 -18h0m0 -9h0m1 33h0m0 -1h0m0 0h0m0 13h0m1 -27h0m0 6h0m0 -30h0m0 64h0m1 -10h0m0 -49h0m1 51h0m1 -78h0m1 41h0m0 1h0m0 -20h0m1 46h0m1 -14h0m0 -8h0m1 -18h0m1 55h0m1 -5h0m0 -4h0m2 4h0m0 -39h0m0 -2h0m1 42h0m0 -25h0m1 17h0m1 30h0m0 -16h0m0 -30h0m1 53h0m0 -71h0m0 -8h0m0 49h0m0 -25h0m1 -3h0m1 15h0m0 -7h0m1 34h0m0 -4h0m1 -52h0m1 31h0m1 17h0m0 -24h0m1 -3h0m0 36h0m0 -39h0m1 -33h0m1 8h0m0 -17h0m3 28h0m1 52h0m0 -21h0m0 -55h0m0 41h0m0 -15h0m1 37h0m0 4h0m1 -52h0m0 28h0m1 -20h0m0 -12h0m0 49h0m0 -45h0m0 62h0m1 -67h0m0 45h0m0 -1h0m0 -43h0m0 77h0m0 -37h0m0 15h0m1 -38h0m0 20h0m0 21h0m1 3h0m0 -29h0m0 26h0m1 20h0m1 -21h0m1 -14h0m1 30h0m1 -43h0m2 10h0m2 2h0m1 0h0m0 -37h0m0 47h0m1 -31h0m1 28h0m2 -12h0m1 -8h0m0 18h0m0 24h0m0 -30h0m2 -30h0m0 46h0m1 -36h0m1 -2h0m0 71h0m1 -100h0m0 69h0m0 -7h0m1 -30h0m0 32h0m1 4h0m0 -38h0m1 -9h0m0 47h0m0 -14h0m0 -27h0m1 -21h0m0 51h0m0 -8h0m0 -33h0m0 63h0m1 -52h0m0 27h0m0 12h0m0 -1h0m0 -12h0m0 5h0m1 -54h0m0 67h0m0 -51h0m1 24h0m0 11h0m0 -48h0m0 30h0m0 24h0m1 -30h0m0 17h0m1 43h0m0 -32h0m0 -17h0m0 -6h0m0 -6h0m0 3h0m0 13h0m1 37h0m0 4h0m0 -43h0m1 -20h0m0 32h0m0 -6h0m0 23h0m0 -41h0m1 0h0m1 61h0m0 -20h0m0 4h0m2 -6h0m0 -50h0m2 -15h0m0 55h0m3 0h0m0 -41h0m0 15h0m1 20h0m0 11h0m1 -29h0m1 -22h0m1 46h0m0 -6h0m0 -40h0m1 18h0m0 23h0m1 3h0m0 17h0m0 -50h0m0 41h0m0 -19h0m1 1h0m0 -39h0m1 38h0m0 1h0m0 -1h0m1 -12h0m0 8h0m0 -3h0m0 37h0m0 -53h0m1 9h0m9 33h0m1 -47h0m1 63h0m1 -31h0m3 13h0m0 -20h0m1 16h0m0 -15h0m0 -35h0m2 23h0m0 3h0m0 -4h0m1 -20h0m0 1h0m0 5h0m1 -2h0m0 42h0m1 -48h0m1 38h0m0 14h0m2 -49h0m0 2h0m0 63h0m0 -78h0m0 60h0m2 8h0m0 -47h0m0 24h0m2 -31h0m1 3h0m2 16h0m0 0h0m0 35h0m1 -59h0m1 -4h0m0 41h0m2 -29h0m1 37h0m0 -19h0m0 -27h0m0 6h0m0 23h0m0 15h0m1 -14h0m1 33h0m0 -70h0m0 63h0m1 -58h0m0 40h0m2 -10h0m1 -1h0m2 -28h0m2 72h0m0 -44h0m2 52h0m1 -17h0m2 -11h0m1 20h0m2 -57h0m1 21h0m0 -3h0m2 11h0m1 -40h0m1 2h0m6 40h0m2 -1h0m0 -53h0m0 10h0m0 57h0m1 -84h0m0 42h0m1 42h0m1 -26h0m0 18h0m1 -16h0m1 -18h0m0 14h0m0 -32h0m1 23h0m0 30h0m1 -29h0m0 16h0m0 32h0m1 -54h0m1 23h0m1 -52h0m0 63h0m1 -2h0m1 -7h0m0 -29h0m1 -2h0m0 60h0m1 -74h0m3 57h0m0 -50h0m1 -6h0m0 52h0m1 -7h0m1 13h0m0 -38h0m1 40h0m0 -48h0m2 -7h0m0 14h0m0 -23h0m1 1h0m1 45h0m0 5h0m1 16h0m0 -49h0m2 -27h0m1 62h0m3 -53h0m0 2h0m1 30h0m0 42h0m2 -26h0m0 -32h0m0 45h0m1 -28h0m1 -12h0m0 -17h0m0 49h0m1 -41h0m0 51h0m0 -41h0m0 -1h0m0 2h0m0 4h0m1 -33h0m0 26h0m1 -11h0m1 26h0m1 -24h0m1 50h0m0 -31h0m0 28h0m0 -11h0m0 -40h0m1 41h0m0 -6h0m0 -6h0m0 -19h0m0 61h0m0 -24h0m0 34h0m0 -42h0m0 -45h0m1 49h0m0 -12h0m0 -46h0m0 -1h0m2 56h0m0 26h0m0 -55h0m0 0h0m0 32h0m1 -9h0m0 17h0m0 -17h0m0 -25h0m0 2h0m1 32h0m0 -9h0m0 6h0m1 15h0m0 -35h0m0 48h0m1 10h0m0 -69h0m0 0h0m1 16h0m1 51h0m1 -64h0m0 3h0m1 53h0m0 12h0m0 -44h0m0 12h0m1 -25h0m1 56h0m0 -66h0m0 37h0m0 -28h0m0 -11h0m1 -23h0m3 -13h0m2 22h0m3 88h0m2 -70h0m0 18h0m1 12h0m0 -11h0m0 4h0m0 -27h0m2 -9h0m1 44h0m0 -33h0m1 -16h0m2 6h0m0 26h0m0 20h0m1 -15h0m1 -4h0m0 -44h0m0 73h0m1 -27h0m0 -30h0m0 47h0m0 -61h0m1 15h0m0 44h0m0 13h0m0 -37h0m0 -26h0m0 26h0m0 30h0m2 -18h0m0 -39h0m0 28h0m0 9h0m1 16h0m0 -6h0m0 -34h0m0 10h0m0 -20h0m1 30h0m0 22h0m0 -45h0m0 -29h0m0 79h0m0 -79h0m1 51h0m0 24h0m0 -46h0m0 7h0m1 39h0m0 -21h0m0 33h0m0 -27h0m0 31h0m0 -25h0m0 -31h0m1 24h0m0 1h0m0 -24h0m0 49h0m0 -35h0m1 -11h0m0 1h0m0 -19h0m0 30h0m2 4h0m0 13h0m0 -20h0m0 -14h0m0 -20h0m0 -3h0m1 36h0m0 50h0m0 -56h0m0 26h0m0 -31h0m0 13h0m1 -17h0m0 35h0m0 -3h0m0 -49h0m1 50h0m0 17h0m0 8h0m0 -49h0m0 3h0m1 60h0m1 -54h0m1 -19h0m0 20h0m0 1h0m0 33h0m0 -24h0m1 -15h0m0 -24h0m0 52h0m0 -42h0m0 30h0m0 2h0m1 -17h0m0 -36h0m0 62h0m2 27h0m1 -76h0m2 51h0m0 -64h0m1 72h0m0 -27h0m1 8h0m0 -47h0m1 63h0m0 -23h0m0 32h0m0 -26h0m0 -6h0m1 35h0m5 -8h0m0 -13h0m1 -60h0m0 20h0m0 33h0m1 -19h0m1 24h0m0 8h0m2 0h0m2 -8h0m1 0h0m1 -56h0m0 55h0m1 -24h0m1 -5h0m1 1h0m1 2h0m1 58h0m0 -28h0m2 -55h0m0 50h0m0 37h0m1 -28h0m2 38h0m0 -76h0m1 -12h0m1 51h0m0 -16h0m0 -38h0m0 37h0m1 -24h0m0 -1h0m0 2h0m1 55h0m0 -46h0m0 -20h0m0 35h0m1 -46h0m0 10h0m0 12h0m0 42h0m1 -48h0m0 -24h0m0 24h0m0 42h0m1 -12h0m0 3h0m0 -2h0m0 -38h0m0 46h0m0 4h0m0 -16h0m1 -16h0m1 -15h0m0 -6h0m0 -6h0m0 40h0m0 -24h0m1 54h0m0 -76h0m0 23h0m0 -12h0m0 22h0m1 -24h0m0 51h0m0 -18h0m18 -25h0m2 11h0m1 31h0m1 0h0m1 -5h0m1 -6h0m0 8h0m1 -60h0m0 29h0m0 -2h0m1 51h0m1 -34h0m0 -25h0m1 19h0m2 23h0m1 7h0m0 11h0m1 8h0m1 -14h0m0 -24h0m2 -16h0m0 16h0m1 -33h0m0 50h0m0 1h0m0 -32h0m1 -18h0m1 15h0m0 17h0m0 15h0m1 16h0m1 -71h0m1 52h0m0 -18h0m0 -10h0m0 19h0m1 6h0m3 23h0m1 -20h0m0 -23h0m1 -25h0m0 26h0m1 -13h0m1 31h0m0 -27h0m0 -22h0m1 69h0m0 10h0m0 -71h0m1 49h0m0 -54h0m0 57h0m1 -41h0m0 52h0m0 -15h0m0 26h0m1 -54h0m0 11h0m0 19h0m2 -7h0m0 -24h0m0 -13h0m0 51h0m1 10h0m2 -21h0m0 24h0m0 -43h0m0 26h0m0 -16h0m1 3h0m0 17h0m1 -57h0m0 45h0m0 18h0m1 -37h0m0 45h0m0 -30h0m0 -22h0m0 73h0m0 -104h0m0 28h0m0 45h0m1 8h0m0 -65h0m0 24h0m1 16h0m1 0h0m0 10h0m0 -36h0m0 20h0m1 -10h0m0 -14h0m0 28h0m0 -29h0m1 0h0m0 22h0m1 -46h0m0 7h0m0 42h0m0 36h0m5 -9h0m0 8h0m0 -58h0m5 -16h0m1 58h0m0 -27h0m1 9h0m1 18h0m0 -18h0m0 -10h0m1 31h0m0 -43h0m1 47h0m2 -45h0m1 15h0m1 19h0m4 -38h0m0 -20h0m3 37h0m1 -20h0m0 33h0m0 14h0m1 -33h0m0 22h0m1 -18h0m0 -12h0m0 13h0m0 34h0m0 -36h0m1 -6h0m0 6h0m0 -2h0m3 59h0m0 -49h0m0 2h0m2 -44h0m0 48h0m1 46h0m0 -43h0m0 -34h0m0 -13h0m0 23h0m1 25h0m0 -15h0m1 -19h0m6 9h0m0 -13h0m0 -16h0m1 30h0m0 75h0m0 -75h0m3 54h0m1 -38h0m1 -1h0m0 -11h0m0 14h0m0 -19h0m1 6h0m0 -34h0m0 40h0m0 14h0m0 15h0m1 9h0m0 -21h0m1 -66h0m0 15h0m0 28h0m0 18h0m0 -2h0m0 -18h0m1 -12h0m0 32h0m0 -4h0m0 1h0m2 -5h0m1 25h0m0 -15h0m1 -4h0m0 -55h0m1 -4h0m0 70h0m0 33h0m0 -71h0m0 -3h0m0 -23h0m0 74h0m1 -9h0m1 -7h0m0 -35h0m1 -2h0m0 -9h0m1 -10h0m0 0h0m1 68h0m0 12h0m1 -63h0m0 14h0m1 9h0m0 -2h0m0 -4h0m1 -9h0m0 57h0m1 -48h0m0 -18h0m1 39h0m0 27h0m0 -38h0m0 -2h0m0 -6h0m0 3h0m0 -18h0m0 10h0m1 -23h0m0 53h0m0 -24h0m1 43h0m0 -7h0m1 -51h0m0 38h0m0 -9h0m4 -3h0m1 -22h0m0 -21h0m1 8h0m1 60h0m2 -30h0m2 0h0m0 -25h0m0 2h0m1 39h0m0 -12h0m1 -22h0m0 27h0m1 -61h0m0 69h0m1 17h0m0 -30h0m0 7h0m0 -47h0m1 63h0m0 -68h0m0 25h0m0 -26h0m0 46h0m0 -3h0m0 19h0m0 -16h0m1 -32h0m0 19h0m0 15h0m0 -32h0m0 52h0m1 -1h0m0 28h0m0 -68h0m1 -11h0m0 36h0m0 8h0m0 -1h0m1 4h0m0 -55h0m0 24h0m0 50h0m0 -33h0m0 15h0m1 -31h0m0 7h0m0 -46h0m0 11h0m0 68h0m0 -8h0m0 -43h0m0 50h0m1 -52h0m0 16h0m1 27h0m1 -55h0m1 15h0m0 11h0m0 28h0m1 -32h0m0 40h0m1 -56h0m0 34h0m0 24h0m0 -23h0m1 -18h0m0 55h0m0 -82h0m1 37h0m0 -16h0m0 15h0m0 -13h0m1 -25h0m0 16h0m1 32h0m0 -1h0m0 -3h0m1 -17h0m0 17h0m0 4h0m0 -7h0m1 12h0m0 15h0m1 1h0m0 -12h0m1 7h0m0 -32h0m1 19h0m0 -38h0m0 -19h0m0 35h0m0 44h0m1 -13h0m0 -47h0m0 48h0m0 -18h0m1 10h0m3 -18h0m1 -1h0m0 -7h0m0 20h0m0 -36h0m1 -6h0m0 53h0m0 -19h0m0 21h0m0 -70h0m0 49h0m0 1h0m1 29h0m1 -75h0m0 48h0m0 -3h0m0 8h0m0 -40h0m1 55h0m0 -49h0m0 2h0m1 4h0m0 0h0m1 10h0m0 -10h0m1 3h0m0 12h0m1 -16h0m0 26h0m0 -45h0m0 84h0m0 -7h0m0 -23h0m1 -58h0m0 29h0m0 35h0m0 -56h0m2 29h0m0 -38h0m0 80h0m0 1h0m0 -72h0m1 -13h0m0 53h0m0 26h0m1 -42h0m0 14h0m0 -38h0m0 39h0m0 23h0m1 -20h0m1 41h0m0 -71h0m0 6h0m0 10h0m0 -38h0m0 85h0m1 -6h0m0 5h0m0 -6h0m0 -39h0m1 -39h0m0 81h0m0 -36h0m0 -2h0m0 -27h0m0 78h0m1 -84h0m0 22h0m1 68h0m1 -10h0m0 -35h0m0 0h0m0 10h0m1 11h0m0 -29h0m0 -20h0m0 -7h0m0 20h0m0 -11h0m1 53h0m0 -54h0m0 2h0m0 33h0m0 25h0m0 -15h0m0 -33h0m0 11h0m1 1h0m0 -48h0m0 27h0m0 39h0m0 0h0m1 -10h0m0 -30h0m0 5h0m0 46h0m1 -4h0m0 1h0m1 -31h0m0 13h0m0 -22h0m0 53h0m0 -30h0m0 -19h0m1 6h0m0 -30h0m0 21h0m0 7h0m1 28h0m1 -40h0m0 -3h0m1 13h0m0 -3h0m0 -21h0m1 8h0m2 53h0m0 -30h0m0 -26h0m3 16h0m4 -35h0m0 81h0m1 -43h0m1 -33h0m1 61h0m1 -21h0m1 5h0m1 -13h0m1 -19h0m0 15h0m1 37h0m1 -30h0m0 -29h0m0 14h0m0 6h0m1 -31h0m0 65h0m0 26h0m0 -85h0m0 10h0m0 42h0m1 -42h0m0 19h0m0 -23h0m1 6h0m0 27h0m0 -24h0m0 -23h0m0 28h0m0 3h0m1 -1h0m0 -14h0m0 47h0m0 6h0m0 -55h0m1 23h0m0 -26h0m0 46h0m0 -55h0m1 25h0m1 19h0m0 -16h0m0 21h0m1 -9h0m1 -21h0m0 32h0m0 -43h0m1 41h0m1 30h0m0 -94h0m0 43h0m2 26h0m0 -23h0m0 33h0m1 0h0m0 -46h0m0 -1h0m0 41h0m1 -15h0m0 -3h0m0 -41h0m0 77h0m0 -31h0m2 -16h0m0 42h0m0 -65h0m1 35h0m0 7h0m0 19h0m1 22h0m0 -55h0m0 11h0m1 -14h0m1 38h0m1 -60h0m0 -5h0m0 24h0m0 40h0m0 -40h0m0 8h0m0 49h0m0 -51h0m0 -7h0m1 -19h0m0 39h0m0 -11h0m1 -16h0m0 -6h0m0 66h0m1 -21h0m0 -10h0m0 -46h0m0 52h0m0 -46h0m0 0h0m0 8h0m0 31h0m1 3h0m0 3h0m0 -16h0m0 -3h0m1 9h0m0 1h0m0 -17h0m0 27h0m0 5h0m1 -26h0m0 31h0m0 -29h0m0 -19h0m1 1h0m0 2h0m0 25h0m0 17h0m1 -14h0m0 -36h0m0 31h0m0 -16h0m1 38h0m0 -10h0m0 -48h0m1 40h0m1 7h0m0 -39h0m0 24h0m1 -47h0m1 27h0m0 28h0m3 -20h0m5 -19h0m0 40h0m5 39h0m0 -40h0m0 -32h0m2 67h0m0 -14h0m6 -13h0m1 18h0m5 -24h0m1 10h0m0 37h0m3 -42h0m1 -26h0m1 4h0m1 -20h0m1 -11h0m0 17h0m2 -8h0m1 42h0m2 -43h0m0 18h0m2 -8h0m1 39h0m4 -43h0m1 57h0m2 -4h0m1 -44h0m2 36h0m0 -10h0m0 -28h0m0 42h0m1 -8h0m1 -6h0m0 33h0m2 -36h0m0 -40h0m0 28h0m1 -1h0m1 3h0m5 38h0m0 -39h0m0 5h0m1 -30h0m3 34h0m3 8h0m1 -20h0m1 -23h0m0 6h0m1 32h0m2 28h0m0 -27h0m0 -7h0m2 6h0m1 -9h0m0 -3h0m2 -27h0m3 77h0m3 8h0m5 -71h0m5 -20h0m0 100h0m3 -19h0m1 -20h0m1 -38h0m6 19h0m0 10h0m0 -22h0m1 -14h0m0 11h0m0 3h0m0 27h0m0 -32h0m0 10h0m0 27h0m1 -53h0m0 29h0m1 -10h0m0 -37h0m0 44h0m0 -11h0m1 41h0m0 -3h0m0 -27h0m1 -9h0m0 30h0m0 -39h0m0 21h0m1 5h0m0 3h0m0 24h0m1 -7h0m1 -55h0m0 41h0m0 -13h0m0 -12h0m0 -10h0m1 5h0m15 45h0m1 -37h0m0 1h0m3 36h0m2 -4h0m4 -34h0m0 -7h0m1 40h0m3 5h0m2 -18h0m5 -5h0m1 25h0m1 -58h0m1 43h0m0 -6h0m1 -26h0m0 27h0m0 -16h0m1 -21h0m2 55h0m0 6h0m0 -39h0m0 -5h0m1 -8h0m0 43h0m1 15h0m0 -6h0m0 -45h0m1 -15h0m0 44h0m0 -35h0m0 -19h0m0 15h0m1 14h0m0 -26h0m0 29h0m0 31h0m0 -10h0m1 -21h0m0 15h0m0 -30h0m0 -19h0m0 22h0m0 27h0m1 -44h0m0 44h0m2 -10h0m2 -22h0m3 51h0m0 -35h0m0 29h0m1 -32h0m0 39h0m1 -12h0m3 5h0m0 6h0m3 -60h0m1 61h0m2 -7h0m0 -14h0m1 13h0m1 -10h0m3 16h0m1 -3h0m0 -35h0m1 17h0m0 21h0m1 -5h0m1 -41h0m0 32h0m1 -24h0m0 23h0m2 20h0m2 -17h0m0 -29h0m5 19h0m0 9h0m1 -5h0m0 0h0m1 -2h0m1 -41h0m1 22h0m0 -7h0m1 45h0m0 -18h0m14 5h0m0 -17h0m0 15h0m0 -18h0m1 21h0m0 -32h0m1 37h0m1 -26h0m0 -24h0m1 27h0m0 28h0m1 -39h0m1 27h0m1 7h0m0 -25h0m1 5h0m0 25h0m1 -25h0m0 0h0m1 -22h0m0 51h0m0 -84h0m1 71h0m0 -28h0m0 -14h0m0 35h0m1 -44h0m1 39h0m1 -8h0m1 5h0m1 23h0m0 -20h0m0 -30h0m2 30h0m0 -17h0m0 -5h0m1 34h0m1 0h0m2 -50h0m0 27h0m1 12h0m0 -47h0m0 36h0m0 13h0m1 -49h0m0 46h0m0 11h0m1 -58h0m0 82h0m0 -4h0m0 18h0m0 -34h0m1 -9h0m0 4h0m0 -26h0m0 41h0m0 -7h0m1 5h0m0 -6h0m0 -54h0m0 57h0m1 14h0m0 -23h0m0 -29h0m0 -11h0m0 72h0m0 -29h0m1 -13h0m0 -19h0m0 66h0m0 -48h0m0 -37h0m0 10h0m1 21h0m0 -32h0m0 47h0m0 15h0m0 -21h0m1 -21h0m0 -7h0m0 37h0m1 6h0m0 -22h0m1 33h0m0 18h0m0 -52h0m0 36h0m0 -26h0m0 -38h0m1 25h0m0 4h0m0 -32h0m0 41h0m0 -26h0m1 66h0m0 -29h0m0 -50h0m0 10h0m0 -12h0m1 6h0m0 78h0m0 -41h0m0 -32h0m0 43h0m0 -24h0m0 15h0m1 -45h0m0 39h0m0 13h0m0 -16h0m0 -21h0m1 40h0m0 -4h0m1 12h0m0 -14h0m0 -48h0m0 56h0m0 -20h0m1 -27h0m0 -8h0m1 44h0m0 32h0m0 -28h0m1 -7h0m0 -3h0m0 -36h0m1 -12h0m0 47h0m0 -44h0m1 15h0m1 -8h0m0 21h0m1 -11h0m0 65h0m1 -89h0m0 45h0m2 -29h0m1 8h0m1 34h0m0 24h0m0 -64h0m1 54h0m0 -58h0m1 62h0m1 -89h0m0 68h0m1 -11h0m1 -20h0m0 -1h0m1 54h0m0 9h0m2 -35h0m0 -47h0m0 101h0m0 -57h0m0 -25h0m1 -21h0m0 89h0m0 -7h0m0 -39h0m3 -27h0m1 33h0m0 6h0m1 -35h0m1 22h0m18 -15h0m1 -2h0m0 43h0m0 -15h0m0 -32h0m1 18h0m1 12h0m1 -28h0m0 37h0m2 -60h0m0 44h0m1 -30h0m0 35h0m0 14h0m0 12h0m0 4h0m1 -41h0m0 10h0m1 1h0m0 -1h0m0 1h0m0 -15h0m1 40h0m0 -51h0m0 11h0m0 24h0m0 -15h0m1 38h0m0 -28h0m1 -12h0m0 -30h0m1 44h0m0 -10h0m0 51h0m1 -69h0m0 1h0m0 37h0m1 -20h0m0 -39h0m0 78h0m0 -2h0m0 -75h0m1 40h0m0 -25h0m0 48h0m0 -13h0m0 0h0m1 -36h0m0 13h0m0 0h0m0 -21h0m1 38h0m0 -13h0m0 -18h0m1 13h0m0 14h0m0 -45h0m0 54h0m0 -11h0m1 -28h0m0 31h0m0 -42h0m1 58h0m0 -4h0m0 -40h0m2 7h0m0 16h0m1 -4h0m0 -9h0m1 -6h0m1 34h0m0 -20h0m0 -6h0m0 28h0m0 11h0m1 -36h0m1 -13h0m0 5h0m0 23h0m2 -28h0m4 52h0m1 -54h0m2 -5h0m2 33h0m0 14h0m1 -59h0m0 78h0m4 -66h0m0 40h0m2 -21h0m0 -3h0m0 -8h0m2 43h0m0 -40h0m0 -10h0m1 49h0m0 30h0m1 -71h0m1 -5h0m0 21h0m1 17h0m0 4h0m0 24h0m1 -1h0m1 -50h0m0 21h0m0 14h0m0 -7h0m1 -50h0m0 6h0m2 57h0m0 -68h0m1 28h0m5 5h0m1 20h0m0 -2h0m0 -15h0m1 5h0m0 -9h0m0 -43h0m2 38h0m0 35h0m1 -79h0m1 41h0m1 34h0m0 -19h0m1 13h0m2 -23h0m0 25h0m1 -52h0m1 63h0m0 -15h0m1 1h0m0 -64h0m1 70h0m0 -31h0m0 -22h0m1 51h0m0 -23h0m1 30h0m0 -20h0m0 20h0m0 -56h0m1 30h0m0 19h0m0 -14h0m0 2h0m1 -3h0m0 -31h0m1 39h0m0 -16h0m0 34h0m0 -11h0m1 -55h0m0 36h0m0 7h0m1 -45h0m0 21h0m1 36h0m0 -61h0m1 52h0m0 16h0m1 -19h0m1 -42h0m0 38h0m0 -27h0m10 -17h0m2 35h0m1 9h0m2 -39h0m0 -1h0m0 44h0m1 6h0m0 -26h0m0 51h0m2 -72h0m2 46h0m0 3h0m1 -13h0m1 -58h0m0 60h0m0 20h0m1 -31h0m0 -23h0m0 21h0m0 39h0m1 -37h0m0 22h0m0 -39h0m0 -12h0m0 68h0m3 -15h0m1 -17h0m2 -28h0m0 43h0m2 -12h0m0 -6h0m0 -20h0m1 -2h0m0 51h0m0 -12h0m0 -1h0m1 31h0m0 -46h0m1 7h0m0 -17h0m0 -19h0m1 54h0m1 -10h0m0 -47h0m1 44h0m0 -44h0m0 29h0m1 -39h0m1 27h0m4 55h0m3 0h0m0 -61h0m0 -16h0m1 42h0m2 -7h0m0 18h0m1 -13h0m0 -13h0m0 24h0m1 -42h0m1 4h0m2 50h0m0 -62h0m0 12h0m0 27h0m2 -5h0m1 -18h0m0 -21h0m0 13h0m0 39h0m1 13h0m0 -19h0m3 15h0m0 -36h0m0 -33h0m1 39h0m0 21h0m0 -37h0m0 15h0m1 50h0m0 -56h0m0 8h0m1 -12h0m0 41h0m0 -35h0m0 15h0m1 -13h0m0 -20h0m0 63h0m0 -54h0m0 64h0m0 -28h0m1 -45h0m0 74h0m0 -52h0m0 -2h0m0 34h0m0 -21h0m0 26h0m1 -62h0m1 25h0m0 -5h0m0 51h0m0 -52h0m1 -16h0m0 38h0m0 -43h0m2 20h0m1 10h0m0 25h0m0 -31h0m1 30h0m1 6h0m2 -51h0m3 -3h0m0 61h0m0 32h0m0 -93h0m1 -10h0m1 49h0m0 -32h0m1 24h0m2 -18h0m0 -3h0m0 47h0m0 -25h0m1 -17h0m2 3h0m1 16h0m0 22h0m0 -7h0m1 -13h0m0 -17h0m0 27h0m0 -10h0m1 3h0m1 0h0m0 -21h0m0 -30h0m0 95h0m0 -51h0m1 18h0m0 -41h0m0 12h0m2 24h0m0 -38h0m1 61h0m0 -65h0m0 45h0m0 -46h0m0 2h0m1 -5h0m0 36h0m0 1h0m0 -8h0m1 -30h0m0 6h0m0 21h0m1 -2h0m0 -25h0m0 61h0m1 -30h0m2 -17h0m0 40h0m0 -2h0m4 -56h0m1 34h0m0 -38h0m0 44h0m1 -26h0m0 42h0m0 -34h0m0 34h0m0 -65h0m0 2h0m0 10h0m0 10h0m1 52h0m0 -45h0m0 12h0m1 42h0m0 -44h0m1 23h0m0 -1h0m1 -12h0m0 -13h0m2 32h0m0 -12h0m0 -15h0m1 29h0m1 -30h0m3 5h0m1 13h0m1 -39h0m1 -5h0m0 -8h0m0 39h0m1 25h0m0 -26h0m3 2h0m0 42h0m0 -67h0m3 29h0m2 -38h0m3 26h0m3 26h0m1 -54h0m1 23h0m1 12h0m0 5h0m1 13h0m0 -77h0m1 73h0m1 -29h0m1 -26h0m1 74h0m1 -27h0m1 9h0m0 -7h0m0 13h0m1 -21h0m0 31h0m1 -64h0m1 46h0m2 -17h0m0 10h0m0 12h0m0 -56h0m1 67h0m1 -40h0m1 -11h0m0 24h0m1 -21h0m0 44h0m1 -46h0m1 -13h0m1 42h0m0 -41h0m1 73h0m0 -81h0m1 3h0m0 7h0m0 42h0m1 -8h0m0 12h0m0 -13h0m4 51h0m0 -66h0m1 9h0m0 26h0m0 29h0m1 -8h0m0 -25h0m0 -17h0m0 1h0m1 8h0m2 12h0m0 -41h0m1 37h0m2 16h0m0 -17h0m1 -3h0m0 -26h0m0 -14h0m0 41h0m2 53h0m0 -48h0m0 -7h0m2 44h0m1 -25h0m1 -42h0m0 23h0m0 -4h0m1 27h0m0 40h0m0 -31h0m0 -7h0m6 -19h0m2 14h0m1 -48h0m0 15h0m0 30h0m1 -42h0m0 1h0m0 35h0m1 -18h0m0 -23h0m2 11h0m2 68h0m1 -61h0m0 59h0m0 -33h0m0 -10h0m1 5h0m0 -12h0m0 23h0m1 -30h0m1 29h0m1 19h0m0 -48h0m0 3h0m0 -5h0m1 -7h0m0 34h0m0 -30h0m0 6h0m1 7h0m0 -6h0m0 27h0m0 -54h0m1 54h0m0 11h0m1 -41h0m1 37h0m4 -88h0m1 50h0m0 -28h0m0 2h0m1 9h0m0 -17h0m1 23h0m1 8h0m0 2h0m0 -51h0m0 72h0m0 -50h0m1 26h0m0 21h0m1 -41h0m1 -10h0m0 -20h0m0 24h0m0 18h0m0 2h0m2 17h0m0 15h0m0 -12h0m1 -32h0m2 -25h0m0 41h0m1 -21h0m1 4h0m0 1h0m0 13h0m0 9h0m0 10h0m0 3h0m1 -17h0m1 10h0m1 20h0m2 4h0m0 -37h0m2 -28h0m0 24h0m0 -5h0m0 3h0m1 -4h0m1 20h0m1 13h0m1 -12h0m2 14h0m0 -47h0m0 29h0m2 -14h0m1 52h0m0 -94h0m0 47h0m4 35h0m2 -52h0m0 9h0m1 -4h0m0 19h0m0 10h0m3 10h0m0 -14h0m2 -36h0m1 27h0m0 14h0m0 -8h0m0 9h0m1 -10h0m0 39h0m0 -51h0m11 15h0m0 35h0m0 -68h0m0 1h0m0 52h0m1 -31h0m0 10h0m1 4h0m0 -44h0m0 42h0m0 -2h0m1 -27h0m1 42h0m0 -52h0m1 93h0m0 -103h0m1 71h0m0 -53h0m0 -2h0m1 -23h0m0 84h0m1 -13h0m0 -28h0m0 14h0m0 19h0m0 -5h0m1 -45h0m0 22h0m1 -24h0m0 -9h0m0 -3h0m0 20h0m1 36h0m1 -38h0m0 16h0m0 25h0m0 -21h0m0 -25h0m1 -6h0m0 40h0m0 -6h0m0 27h0m1 -56h0m0 48h0m0 -19h0m1 3h0m0 17h0m0 -9h0m0 -3h0m0 -23h0m0 -23h0m0 55h0m1 -5h0m0 -48h0m0 47h0m1 -27h0m1 48h0m1 -63h0m0 8h0m1 13h0m0 -5h0m0 -19h0m1 21h0m1 46h0m0 -15h0m0 4h0m1 -8h0m0 -38h0m0 12h0m1 42h0m0 -46h0m1 34h0m0 -9h0m0 -40h0m1 47h0m0 -38h0m0 31h0m0 -43h0m1 61h0m0 -35h0m1 16h0m0 -2h0m0 -5h0m1 -1h0m11 7h0m0 25h0m0 -41h0m1 8h0m0 37h0m0 -25h0m0 -24h0m1 -16h0m0 46h0m0 -37h0m0 -1h0m1 -3h0m0 -6h0m0 -4h0m0 52h0m1 12h0m0 -22h0m1 -5h0m0 0h0m1 -28h0m1 22h0m0 -4h0m1 32h0m0 -22h0m1 -54h0m0 102h0m0 0h0m1 -44h0m0 -13h0m2 33h0m0 -10h0m3 -27h0m1 -16h0m0 51h0m1 -13h0m1 3h0m2 -17h0m1 -7h0m1 8h0m0 -8h0m0 -10h0m0 11h0m2 -24h0m0 -1h0m0 33h0m0 23h0m1 -26h0m0 -16h0m1 1h0m1 4h0m4 -73h0m1 14h0m1 0h0m0 15h0m1 3h0m1 42h0m3 -39h0m0 0h0m1 -59h0m3 53h0m1 0h0m1 -2h0m1 40h0m2 -42h0m0 -12h0m3 6h0m1 9h0m0 -52h0m2 83h0m0 -51h0m0 23h0m0 1h0m1 25h0m7 -57h0m0 12h0m2 14h0m1 -10h0m1 66h0m1 -10h0m2 -33h0m1 -13h0m0 20h0m2 21h0m1 -49h0m0 39h0m0 -25h0m0 -12h0m2 27h0m1 -18h0m1 -5h0m0 55h0m1 -64h0m1 22h0m0 -13h0m3 -41h0m0 90h0m1 -10h0m2 -15h0m1 -14h0m0 18h0m2 -19h0m1 -10h0m1 -14h0m0 32h0m1 -33h0m0 30h0m1 11h0m9 -17h0m1 -1h0m0 17h0m4 26h0m1 -56h0m0 36h0m0 -26h0m3 -3h0m1 23h0m1 -48h0m0 -1h0m0 21h0m2 23h0m2 -26h0m1 13h0m1 59h0m1 -43h0m2 1h0m0 -16h0m2 56h0m0 -49h0m1 -39h0m1 53h0m1 -38h0m1 3h0m1 77h0m1 -49h0m3 -40h0m1 67h0m6 -63h0m2 5h0m1 25h0m0 38h0m1 -80h0m0 93h0m1 -60h0m2 34h0m0 -25h0m0 -54h0"/><path stroke-width="8.0" d="M124 569h0m2 -8h0m0 3h0m1 56h0m0 -34h0m1 -15h0m0 51h0m1 -41h0m1 20h0m0 -12h0m1 -36h0m1 3h0m1 26h0m0 -3h0m0 -24h0m1 42h0m2 -25h0m0 -10h0m3 32h0m0 -19h0m0 -13h0m1 12h0m0 19h0m0 6h0m2 -3h0m1 15h0m1 -3h0m0 0h0m1 3h0m0 -35h0m1 17h0m0 -7h0m1 -37h0m1 68h0m0 -38h0m0 -27h0m0 -2h0m1 33h0m0 3h0m0 -25h0m1 1h0m0 -19h0m0 44h0m0 -23h0m0 5h0m3 32h0m4 -48h0m1 19h0m0 27h0m1 -12h0m0 2h0m0 -43h0m1 23h0m0 14h0m1 17h0m0 3h0m0 -58h0m1 46h0m1 -38h0m1 38h0m0 -30h0m3 37h0m3 -18h0m0 -33h0m0 9h0m0 15h0m1 33h0m0 -53h0m0 74h0m2 -63h0m1 -4h0m0 30h0m1 -1h0m0 1h0m1 -14h0m0 48h0m0 -65h0m0 35h0m2 -13h0m0 27h0m0 -49h0m1 57h0m0 29h0m3 -72h0m1 10h0m0 52h0m1 -97h0m0 59h0m0 8h0m1 -27h0m0 31h0m1 -29h0m1 -15h0m0 21h0m0 24h0m0 -23h0m1 27h0m0 -23h0m0 6h0m1 25h0m0 -44h0m1 -23h0m0 29h0m0 -30h0m1 15h0m0 41h0m0 0h0m0 -16h0m1 -40h0m0 31h0m1 -9h0m0 30h0m0 -12h0m0 9h0m0 -13h0m0 -42h0m1 38h0m0 40h0m1 -7h0m0 -60h0m0 38h0m0 35h0m0 -28h0m1 15h0m0 -57h0m1 9h0m0 49h0m0 -40h0m0 -5h0m0 25h0m1 13h0m0 -31h0m0 27h0m0 -8h0m1 13h0m0 3h0m0 -64h0m1 10h0m0 51h0m1 15h0m0 -73h0m0 26h0m0 -12h0m1 39h0m0 -4h0m0 -43h0m0 12h0m1 29h0m0 14h0m0 -18h0m1 -22h0m2 -14h0m0 34h0m2 -32h0m0 29h0m1 -29h0m0 41h0m2 19h0m1 -14h0m0 -39h0m1 -8h0m1 52h0m21 -23h0m2 8h0m0 11h0m0 -56h0m0 65h0m1 -47h0m0 38h0m1 -10h0m0 -7h0m0 31h0m1 -3h0m0 -65h0m1 28h0m1 -29h0m0 25h0m1 40h0m0 -74h0m1 2h0m0 55h0m0 -9h0m1 -10h0m1 -25h0m1 3h0m1 49h0m1 -46h0m2 -4h0m0 -8h0m1 2h0m2 34h0m0 42h0m0 -23h0m0 -13h0m0 2h0m2 -48h0m0 51h0m0 15h0m1 -23h0m0 -25h0m0 -20h0m0 9h0m1 55h0m2 -11h0m0 -31h0m0 43h0m1 -11h0m0 -20h0m0 -17h0m1 35h0m1 9h0m1 -19h0m0 -6h0m1 7h0m0 -29h0m3 38h0m2 -44h0m2 -3h0m1 26h0m0 16h0m0 29h0m1 -51h0m0 -9h0m1 24h0m1 1h0m2 23h0m2 -8h0m1 -31h0m0 23h0m3 -29h0m0 8h0m0 -17h0m1 32h0m0 -29h0m0 20h0m0 4h0m0 13h0m1 0h0m1 8h0m0 -16h0m0 -39h0m1 37h0m0 14h0m0 2h0m1 -49h0m0 26h0m1 0h0m1 -11h0m0 23h0m0 -8h0m0 40h0m0 -73h0m2 33h0m1 30h0m0 -18h0m0 11h0m2 -3h0m0 12h0m1 -56h0m0 -6h0m1 72h0m0 -36h0m1 28h0m0 -56h0m1 -13h0m1 18h0m0 0h0m0 36h0m0 -22h0m0 9h0m0 -44h0m1 57h0m0 -49h0m0 -21h0m0 113h0m0 -46h0m1 2h0m0 15h0m0 -70h0m0 57h0m1 -42h0m0 25h0m0 7h0m1 -4h0m0 2h0m0 -17h0m1 -2h0m1 28h0m0 -25h0m0 43h0m1 -47h0m0 -15h0m1 39h0m1 -35h0m0 -12h0m1 1h0m5 -3h0m2 15h0m0 38h0m0 0h0m0 1h0m0 -9h0m1 18h0m0 7h0m0 -15h0m1 -66h0m0 36h0m1 -13h0m0 -12h0m0 26h0m1 22h0m1 -14h0m0 9h0m0 3h0m1 12h0m2 -28h0m2 28h0m0 -30h0m0 6h0m0 -26h0m0 -9h0m0 93h0m0 -34h0m0 19h0m1 -38h0m1 -9h0m1 7h0m0 -33h0m0 49h0m0 28h0m0 -61h0m1 7h0m1 -30h0m0 9h0m1 50h0m0 7h0m1 -5h0m2 -21h0m0 -4h0m1 -29h0m0 33h0m0 23h0m0 -2h0m1 -33h0m0 -13h0m0 8h0m1 33h0m0 -47h0m0 26h0m1 -8h0m0 17h0m0 -27h0m0 12h0m0 7h0m0 -13h0m0 9h0m1 35h0m0 -11h0m0 4h0m0 -34h0m1 13h0m0 26h0m0 -22h0m0 -3h0m1 40h0m1 -40h0m0 -39h0m1 -9h0m0 6h0m0 50h0m0 -20h0m1 -8h0m1 36h0m3 -14h0m1 30h0m2 -18h0m1 10h0m1 -30h0m0 10h0m2 -22h0m0 -1h0m0 58h0m1 -77h0m0 42h0m0 0h0m1 -10h0m0 33h0m0 -66h0m0 10h0m1 36h0m0 -15h0m1 27h0m0 -23h0m0 24h0m1 -56h0m1 53h0m0 -23h0m0 -16h0m3 4h0m0 24h0m3 -3h0m1 -50h0m0 14h0m1 30h0m0 22h0m1 3h0m0 -32h0m1 10h0m1 40h0m2 -12h0m2 -25h0m3 -6h0m4 23h0m2 -41h0m0 -8h0m1 42h0m3 -19h0m4 -1h0m0 -8h0m2 31h0m5 -23h0m3 15h0m0 -25h0m0 3h0m1 50h0m0 -46h0m1 53h0m0 -46h0m2 -30h0m1 38h0m0 23h0m1 -69h0m0 78h0m0 -78h0m1 36h0m0 47h0m0 -29h0m1 -9h0m2 0h0m1 -11h0m0 -17h0m1 47h0m1 -58h0m0 27h0m1 19h0m0 9h0m0 -29h0m0 -42h0m1 22h0m0 56h0m1 -3h0m0 -52h0m1 -27h0m0 46h0m1 -14h0m0 2h0m0 18h0m1 0h0m0 -13h0m1 37h0m0 -29h0m0 -13h0m1 -21h0m0 19h0m0 28h0m1 -40h0m0 33h0m0 24h0m0 -10h0m1 -29h0m3 8h0m1 23h0m2 14h0m0 -52h0m1 51h0m0 -36h0m2 5h0m2 -14h0m0 36h0m1 9h0m0 -38h0m1 23h0m1 -11h0m0 17h0m1 -33h0m1 -24h0m1 59h0m0 -12h0m0 9h0m1 -18h0m0 24h0m0 28h0m0 -57h0m1 -14h0m0 10h0m1 0h0m0 48h0m2 -56h0m1 52h0m2 -42h0m0 -13h0m0 69h0m1 -56h0m1 -4h0m0 -3h0m1 17h0m0 9h0m1 -53h0m0 59h0m2 -36h0m0 62h0m1 -69h0m0 23h0m1 37h0m0 -18h0m1 -18h0m1 4h0m1 31h0m2 -37h0m0 60h0m1 -83h0m0 -5h0m1 -24h0m1 43h0m0 -19h0m0 56h0m2 -48h0m0 4h0m1 3h0m1 25h0m0 18h0m0 -50h0m0 40h0m1 26h0m0 -54h0m1 36h0m1 -63h0m0 60h0m1 -15h0m0 -1h0m0 4h0m1 -30h0m0 32h0m0 -44h0m1 25h0m0 -13h0m1 -3h0m0 77h0m0 -103h0m1 80h0m0 -34h0m0 8h0m1 -10h0m0 -24h0m1 26h0m0 -35h0m1 5h0m0 31h0m0 -1h0m0 73h0m0 -79h0m1 -8h0m0 38h0m0 -36h0m1 18h0m0 -40h0m0 43h0m0 -18h0m1 26h0m2 -27h0m0 22h0m1 7h0m1 -27h0m1 9h0m0 -18h0m0 -6h0m1 11h0m2 15h0m0 -11h0m0 68h0m1 -88h0m4 62h0m0 -49h0m0 56h0m0 -76h0m1 64h0m3 -54h0m1 80h0m4 -39h0m0 -46h0m1 21h0m0 41h0m0 -30h0m2 13h0m1 -15h0m0 1h0m0 -4h0m0 76h0m1 -122h0m1 62h0m0 12h0m1 -25h0m0 44h0m1 -45h0m0 -13h0m0 50h0m0 -60h0m1 9h0m0 -10h0m1 60h0m5 -20h0m0 -38h0m0 -4h0m0 50h0m1 -29h0m1 -20h0m2 7h0m1 7h0m0 54h0m0 -37h0m1 -10h0m1 72h0m1 -47h0m0 26h0m0 -54h0m0 26h0m4 1h0m0 5h0m1 -20h0m0 -10h0m0 52h0m0 -47h0m3 65h0m0 -5h0m0 -69h0m1 -10h0m0 6h0m1 16h0m0 -25h0m1 16h0m0 -8h0m0 15h0m1 31h0m1 -40h0m0 4h0m2 10h0m0 10h0m1 25h0m0 -5h0m0 1h0m0 -18h0m1 20h0m0 -50h0m1 41h0m0 -35h0m0 17h0m1 -2h0m0 13h0m0 9h0m0 -49h0m0 63h0m0 -19h0m0 -15h0m0 -36h0m1 44h0m0 41h0m0 -46h0m0 7h0m1 -13h0m0 -20h0m1 66h0m0 -46h0m0 11h0m0 6h0m1 -42h0m1 44h0m0 -23h0m0 -20h0m12 45h0m0 -36h0m0 47h0m0 -70h0m0 90h0m0 -79h0m0 33h0m0 10h0m1 -19h0m0 51h0m0 -26h0m0 -55h0m1 50h0m0 -35h0m0 55h0m1 -27h0m0 -45h0m0 47h0m1 -59h0m1 50h0m0 -6h0m1 -19h0m0 79h0m1 -46h0m0 -45h0m1 34h0m0 -11h0m0 42h0m1 -55h0m0 23h0m0 -4h0m0 -30h0m1 21h0m0 -15h0m0 7h0m0 -17h0m1 22h0m0 -5h0m0 -3h0m1 36h0m0 -28h0m1 5h0m0 12h0m0 -9h0m0 21h0m0 -24h0m0 20h0m0 -18h0m0 32h0m1 -48h0m0 5h0m0 32h0m0 -35h0m1 17h0m0 15h0m1 -5h0m0 -18h0m1 58h0m0 -15h0m1 -66h0m0 47h0m0 -7h0m0 -39h0m0 55h0m1 56h0m0 -36h0m0 -1h0m0 -13h0m0 4h0m0 -57h0m0 32h0m1 24h0m0 -15h0m0 21h0m0 -7h0m0 -4h0m0 -10h0m0 -36h0m0 15h0m1 0h0m0 42h0m0 -71h0m0 79h0m0 -26h0m0 -47h0m1 35h0m0 -37h0m0 47h0m0 0h0m0 -42h0m0 6h0m0 -9h0m1 44h0m0 -4h0m0 -2h0m1 -12h0m0 -16h0m0 49h0m1 -52h0m0 -4h0m0 -8h0m0 89h0m0 -64h0m0 33h0m1 -53h0m0 41h0m0 20h0m0 -43h0m0 13h0m0 2h0m1 -23h0m0 -25h0m0 24h0m0 59h0m1 -30h0m0 -44h0m0 27h0m0 35h0m0 -46h0m0 32h0m1 -15h0m0 -2h0m0 33h0m0 16h0m0 -52h0m1 -3h0m0 18h0m0 4h0m1 -2h0m0 -6h0m2 5h0m0 9h0m1 -22h0m1 30h0m2 -6h0m1 0h0m0 -40h0m1 53h0m0 -29h0m0 -10h0m0 27h0m1 -62h0m0 23h0m1 -10h0m0 3h0m1 5h0m0 55h0m0 -5h0m1 -40h0m0 11h0m0 46h0m0 -23h0m1 -16h0m0 -36h0m1 13h0m0 27h0m1 9h0m0 -39h0m0 47h0m1 -54h0m0 20h0m1 -26h0m0 41h0m1 -9h0m0 -17h0m0 0h0m0 86h0m0 -48h0m0 -52h0m1 17h0m0 2h0m0 10h0m0 -20h0m0 32h0m0 -3h0m0 -31h0m1 0h0m0 1h0m0 28h0m0 23h0m0 -49h0m1 22h0m0 -4h0m0 -50h0m0 71h0m0 -47h0m0 21h0m1 -1h0m0 6h0m0 21h0m0 -28h0m0 -4h0m0 27h0m1 -49h0m0 51h0m0 -8h0m1 6h0m0 -7h0m0 -46h0m0 22h0m0 -5h0m1 63h0m1 -31h0m0 -43h0m0 58h0m1 -77h0m0 42h0m0 -29h0m0 11h0m0 49h0m1 1h0m1 0h0m0 -11h0m0 23h0m1 -28h0m1 0h0m1 41h0m0 -24h0m0 -44h0m1 16h0m1 4h0m5 -5h0m1 -17h0m1 12h0m1 27h0m1 -29h0m1 12h0m0 38h0m0 -32h0m1 -18h0m2 23h0m0 -13h0m1 -17h0m0 -9h0m4 0h0m1 51h0m0 7h0m0 -44h0m1 26h0m0 6h0m0 29h0m1 -53h0m1 12h0m1 8h0m0 -31h0m1 27h0m0 16h0m0 -45h0m0 35h0m2 7h0m0 6h0m0 -32h0m1 7h0m0 11h0m0 -3h0m0 -45h0m1 27h0m0 36h0m0 -69h0m1 18h0m0 34h0m0 -38h0m0 20h0m0 25h0m0 -35h0m0 -16h0m1 49h0m0 -43h0m1 38h0m0 -19h0m0 23h0m0 -9h0m0 11h0m1 -14h0m0 30h0m0 -5h0m0 -50h0m0 86h0m1 -51h0m0 -25h0m0 23h0m0 -19h0m0 48h0m1 13h0m0 -46h0m0 32h0m1 27h0m0 -52h0m0 6h0m2 37h0m0 -49h0m1 -11h0m1 -3h0m0 -32h0m2 49h0m0 30h0m2 -38h0m0 -14h0m0 1h0m1 -5h0m0 25h0m0 -2h0m1 21h0m2 2h0m0 -44h0m0 52h0m0 -44h0m1 -11h0m0 -10h0m0 -1h0m0 17h0m1 11h0m1 26h0m1 -46h0m1 48h0m0 -26h0m1 20h0m1 -38h0m0 52h0m3 -18h0m3 15h0m2 -57h0m0 65h0m1 -51h0m0 40h0m1 14h0m0 -10h0m0 -39h0m0 5h0m0 6h0m0 3h0m1 16h0m1 -51h0m0 32h0m0 2h0m1 31h0m0 -68h0m0 57h0m1 -49h0m0 50h0m0 -42h0m0 23h0m0 13h0m0 -4h0m2 3h0m0 10h0m0 -4h0m0 -3h0m1 3h0m1 -37h0m0 -9h0m0 45h0m0 -42h0m0 72h0m1 -47h0m0 -6h0m0 -17h0m0 29h0m2 14h0m1 5h0m0 -49h0m0 36h0m1 -16h0m0 27h0m0 -11h0m1 -61h0m2 60h0m0 9h0m1 -45h0m3 -12h0m1 -12h0m1 3h0m0 55h0m0 -6h0m1 12h0m0 3h0m3 -31h0m0 18h0m1 -29h0m0 45h0m0 -9h0m1 -48h0m3 55h0m1 -36h0m0 -18h0m0 26h0m2 -34h0m2 74h0m0 -36h0m0 -22h0m1 37h0m0 5h0m1 5h0m1 -1h0m1 10h0m1 -67h0m0 39h0m0 9h0m3 -11h0m1 -40h0m0 79h0m0 -22h0m1 -13h0m0 -31h0m0 -8h0m0 32h0m1 -10h0m0 37h0m1 -59h0m0 25h0m0 22h0m0 -35h0m1 -3h0m0 60h0m0 -19h0m0 30h0m1 -5h0m0 -50h0m0 -6h0m0 2h0m1 39h0m0 -75h0m0 -12h0m0 81h0m0 -8h0m0 -40h0m0 15h0m0 41h0m0 -48h0m0 39h0m0 -51h0m1 23h0m0 19h0m0 8h0m0 -4h0m1 10h0m0 -40h0m0 19h0m0 -40h0m1 46h0m1 12h0m1 -56h0m0 16h0m1 37h0m1 -24h0m0 -34h0m0 12h0m2 -11h0m0 67h0m1 -34h0m0 19h0m0 -28h0m0 15h0m0 40h0m1 -20h0m0 -25h0m0 0h0m1 -26h0m0 8h0m0 -17h0m0 16h0m0 17h0m1 0h0m0 -5h0m1 47h0m0 -65h0m0 9h0m0 25h0m0 41h0m0 -31h0m1 -8h0m0 -18h0m1 -17h0m0 48h0m0 -21h0m1 -28h0m0 38h0m0 1h0m0 -11h0m0 8h0m1 24h0m0 1h0m0 0h0m0 -9h0m0 4h0m0 -20h0m0 -3h0m1 8h0m0 -35h0m0 -15h0m0 10h0m0 -20h0m1 53h0m0 -48h0m0 71h0m0 -22h0m1 -2h0m0 -3h0m0 12h0m0 20h0m0 -5h0m0 -21h0m1 -46h0m0 12h0m1 30h0m0 -60h0m0 61h0m0 -30h0m0 38h0m0 2h0m2 -50h0m0 26h0m0 4h0m1 -3h0m0 10h0m0 -11h0m0 11h0m1 -23h0m0 66h0m1 -80h0m0 -17h0m1 23h0m1 23h0m0 3h0m0 -47h0m0 70h0m0 -39h0m1 -11h0m1 -9h0m1 48h0m0 17h0m1 3h0m1 -12h0m1 5h0m1 -46h0m2 -8h0m1 31h0m3 -19h0m1 4h0m5 3h0m2 24h0m0 -32h0m1 51h0m0 -24h0m0 -5h0m1 -41h0m1 61h0m1 -33h0m1 -16h0m0 12h0m0 -11h0m0 25h0m1 18h0m0 20h0m1 -54h0m0 30h0m0 -4h0m0 31h0m1 -60h0m1 29h0m0 -43h0m0 -9h0m1 14h0m0 0h0m0 34h0m0 -29h0m1 9h0m2 10h0m0 17h0m2 -39h0m1 52h0m2 -59h0m3 20h0m0 13h0m0 -31h0m0 34h0m1 -11h0m2 21h0m0 -18h0m0 -44h0m1 92h0m0 -44h0m1 8h0m0 7h0m0 10h0m1 -42h0m1 -22h0m0 35h0m1 24h0m0 -60h0m0 59h0m2 -2h0m2 0h0m0 5h0m3 -50h0m3 47h0m3 -17h0m2 -34h0m0 8h0m2 27h0m0 2h0m1 5h0m2 20h0m0 -69h0m1 40h0m0 -23h0m0 -8h0m1 10h0m0 11h0m0 3h0m1 48h0m1 -24h0m0 10h0m0 -20h0m1 -13h0m0 22h0m0 -43h0m0 28h0m0 -22h0m1 39h0m0 -6h0m1 -8h0m0 -25h0m0 50h0m0 -16h0m0 4h0m1 -49h0m1 39h0m0 -41h0m0 9h0m1 2h0m0 2h0m1 -18h0m0 90h0m0 -89h0m0 54h0m0 -3h0m1 -28h0m0 18h0m0 26h0m0 -16h0m1 4h0m0 -24h0m1 25h0m0 -56h0m0 21h0m0 -28h0m1 -7h0m0 36h0m0 -11h0m0 2h0m0 40h0m1 -11h0m0 -19h0m0 11h0m0 -25h0m0 8h0m0 73h0m2 -62h0m0 15h0m0 -21h0m1 -24h0m0 21h0m0 8h0m0 1h0m0 -17h0m0 -1h0m1 48h0m1 -44h0m0 12h0m0 15h0m1 -23h0m0 -8h0m0 12h0m1 -10h0m0 20h0m0 -29h0m0 12h0m1 4h0m0 21h0m0 -59h0m0 56h0m0 -17h0m1 17h0m0 20h0m0 -29h0m1 18h0m0 -22h0m0 34h0m1 -53h0m0 22h0m0 33h0m0 -55h0m1 31h0m0 10h0m0 -18h0m0 6h0m0 17h0m0 -24h0m1 -2h0m0 24h0m0 29h0m0 -38h0m0 -9h0m0 2h0m0 -36h0m0 43h0m1 -42h0m0 5h0m0 11h0m0 37h0m0 9h0m0 -64h0m0 20h0m0 -17h0m1 65h0m0 -21h0m0 -37h0m0 33h0m0 4h0m1 -8h0m0 7h0m1 -1h0m0 25h0m2 -15h0m1 -19h0m1 20h0m0 -17h0m1 -47h0m0 61h0m1 -17h0m1 -1h0m1 29h0m1 -51h0m0 9h0m0 15h0m1 25h0m0 4h0m3 -61h0m1 32h0m0 -36h0m1 59h0m0 -20h0m0 -41h0m0 8h0m1 50h0m0 -25h0m1 -25h0m1 -6h0m0 87h0m0 -23h0m0 -43h0m0 75h0m2 -57h0m0 13h0m0 -64h0m0 24h0m1 27h0m0 16h0m0 -24h0m0 -37h0m1 70h0m0 -59h0m0 73h0m0 0h0m0 -11h0m0 -29h0m1 -6h0m0 21h0m0 -33h0m0 -9h0m1 36h0m0 -21h0m0 23h0m0 -20h0m1 28h0m0 8h0m0 -30h0m0 37h0m1 -40h0m0 -31h0m0 28h0m1 50h0m0 -27h0m0 -55h0m1 23h0m0 9h0m2 8h0m0 -23h0m0 -24h0m0 12h0m0 70h0m1 -4h0m0 -35h0m0 14h0m1 30h0m2 -29h0m1 7h0m0 28h0m0 -36h0m0 -18h0m1 5h0m0 -27h0m2 3h0m0 10h0m0 -15h0m1 4h0m0 37h0m0 -40h0m1 19h0m2 11h0m1 21h0m0 -56h0m0 74h0m1 -26h0m0 -56h0m0 67h0m0 -22h0m1 8h0m1 -21h0m1 18h0m1 37h0m0 -27h0m0 -39h0m6 97h0m0 -72h0m0 -41h0m1 19h0m0 -9h0m0 9h0m0 28h0m2 -52h0m1 69h0m0 -58h0m1 16h0m0 39h0m1 18h0m0 7h0m0 -28h0m0 -32h0m2 43h0m0 -39h0m1 -6h0m0 54h0m1 -15h0m0 -5h0m1 -37h0m1 14h0m0 40h0m1 -44h0m1 3h0m1 -18h0m0 32h0m0 -53h0m0 19h0m1 31h0m0 -8h0m0 -28h0m1 58h0m0 -63h0m0 16h0m0 -3h0m0 40h0m1 -53h0m0 65h0m0 -31h0m0 9h0m0 10h0m0 -51h0m0 28h0m1 -24h0m0 65h0m0 5h0m0 -42h0m0 0h0m0 22h0m0 0h0m1 -54h0m0 51h0m0 -46h0m0 -3h0m1 6h0m0 36h0m0 -40h0m1 34h0m2 2h0m0 -24h0m0 -17h0m1 47h0m1 -40h0m0 13h0m0 -36h0m0 74h0m1 3h0m0 -14h0m0 -12h0m0 23h0m0 5h0m1 -31h0m0 -23h0m1 43h0m0 -12h0m0 1h0m0 -31h0m0 32h0m0 -63h0m1 57h0m0 12h0m0 -46h0m0 32h0m1 -35h0m0 39h0m0 -29h0m0 14h0m0 -8h0m1 33h0m0 -5h0m2 -42h0m1 26h0m1 0h0m0 16h0m1 -22h0m1 -1h0m0 -18h0m0 -3h0m0 51h0m1 -6h0m1 5h0m1 -45h0m0 53h0m1 -23h0m1 4h0m1 13h0m7 -19h0m0 -20h0m0 75h0m0 -86h0m0 8h0m1 39h0m0 24h0m0 -57h0m1 57h0m0 -70h0m1 3h0m0 77h0m0 -34h0m0 10h0m0 -46h0m0 9h0m1 13h0m1 -33h0m0 50h0m0 -20h0m0 -3h0m0 -15h0m0 -12h0m1 58h0m0 -55h0m0 17h0m1 16h0m0 -3h0m0 -14h0m0 69h0m0 -71h0m1 6h0m1 47h0m0 -31h0m1 3h0m0 14h0m1 -56h0m0 17h0m1 -10h0m0 -17h0m0 50h0m0 31h0m1 -17h0m0 -16h0m1 6h0m0 -27h0m1 -9h0m1 24h0m0 20h0m1 8h0m0 -37h0m1 9h0m0 49h0m0 -56h0m0 8h0m0 22h0m0 -34h0m1 -3h0m0 -10h0m0 26h0m1 22h0m1 -38h0m0 -9h0m0 6h0m2 -8h0m3 81h0m3 -29h0m0 -36h0m4 -25h0m8 73h0m0 -13h0m1 -68h0m1 31h0m0 60h0m0 -36h0m1 -3h0m0 15h0m1 -30h0m1 -27h0m0 31h0m0 14h0m0 3h0m1 -12h0m0 -5h0m0 10h0m1 4h0m0 -7h0m0 -1h0m0 35h0m0 -14h0m0 -42h0m1 7h0m1 17h0m0 -7h0m0 8h0m0 27h0m0 -48h0m1 -13h0m0 27h0m1 -19h0m1 6h0m0 28h0m0 -33h0m0 18h0m0 -2h0m2 -13h0m0 -3h0m1 41h0m1 -9h0m0 36h0m0 -70h0m1 -10h0m2 33h0m0 11h0m1 -34h0m0 4h0m0 7h0m1 22h0m0 -26h0m0 22h0m1 -43h0m0 49h0m1 -13h0m0 -32h0m0 33h0m1 13h0m0 2h0m1 -32h0m0 18h0m2 21h0m0 -24h0m0 -8h0m1 20h0m1 -47h0m0 27h0m1 -43h0m1 62h0m0 -13h0m1 -1h0m1 8h0m1 -8h0m1 35h0m4 -18h0m0 -2h0m0 -5h0m0 30h0m1 -36h0m1 -22h0m0 49h0m0 -33h0m1 -2h0m0 -10h0m0 23h0m0 -9h0m0 -24h0m0 49h0m1 1h0m0 -54h0m0 27h0m0 29h0m1 -22h0m1 -53h0m0 69h0m2 16h0m1 -2h0m0 -38h0m1 -8h0m1 38h0m1 -60h0m0 63h0m0 -16h0m3 51h0m2 -48h0m1 -42h0m2 -3h0m1 24h0m0 19h0m0 -55h0m0 15h0m1 29h0m3 -35h0m1 -1h0m0 38h0m1 -19h0m0 47h0m0 -66h0m0 51h0m0 -25h0m0 27h0m1 -28h0m0 15h0m1 -20h0m0 -18h0m0 23h0m1 49h0m0 -7h0m0 -36h0m0 21h0m1 -30h0m0 47h0m0 -66h0m0 -6h0m0 -11h0m0 12h0m1 20h0m0 -24h0m0 62h0m0 -53h0m1 45h0m0 1h0m1 -37h0m0 43h0m0 -9h0m0 31h0m0 -32h0m1 17h0m0 -14h0m0 -50h0m0 30h0m0 -22h0m1 29h0m0 -17h0m1 -17h0m0 -7h0m0 82h0m0 -56h0m0 -20h0m0 7h0m0 40h0m1 -10h0m0 7h0m0 -35h0m0 17h0m1 37h0m0 9h0m0 -32h0m0 7h0m1 -13h0m0 -28h0m0 -13h0m1 52h0m0 12h0m0 -46h0m0 11h0m2 37h0m3 -72h0m1 61h0m1 15h0m0 1h0m0 -46h0m0 16h0m0 -33h0m1 40h0m0 3h0m0 -39h0m0 30h0m1 17h0m0 -46h0m1 19h0m0 16h0m0 -38h0m0 41h0m0 -47h0m0 17h0m1 24h0m0 -4h0m1 -29h0m0 10h0m0 43h0m0 -22h0m0 -31h0m0 33h0m0 -12h0m0 28h0m1 -18h0m0 1h0m0 -17h0m1 -6h0m0 32h0m1 -13h0m0 21h0m0 -65h0m8 49h0m0 45h0m5 -54h0m2 -17h0m0 8h0m3 -4h0m0 19h0m1 -32h0m0 42h0m1 -27h0m0 14h0m0 -17h0m0 70h0m1 -15h0m1 -59h0m0 18h0m0 -1h0m0 15h0m1 -34h0m0 -21h0m0 3h0m1 41h0m0 -19h0m0 29h0m1 -12h0m2 39h0m2 9h0m0 -82h0m2 50h0m0 0h0m1 2h0m0 1h0m1 12h0m0 -67h0m0 48h0m0 19h0m1 -8h0m0 -37h0m2 44h0m0 -40h0m1 11h0m0 -11h0m2 -13h0m4 32h0m6 23h0m0 -28h0m0 -21h0m0 4h0m1 34h0m3 -24h0m3 -21h0m1 59h0m0 -76h0m3 31h0m1 -24h0m1 26h0m4 -37h0m0 28h0m0 52h0m1 -21h0m0 -21h0m0 3h0m1 -23h0m0 10h0m0 -17h0m1 7h0m0 26h0m1 -11h0m0 14h0m0 -9h0m0 40h0m1 -33h0m0 16h0m0 -40h0m1 17h0m0 -14h0m0 27h0m1 -14h0m0 9h0m1 7h0m0 3h0m1 -8h0m0 -27h0m0 40h0m0 -73h0m0 23h0m1 33h0m0 50h0m0 -46h0m1 29h0m0 -48h0m2 30h0m1 15h0m0 -64h0m0 48h0m1 -52h0m0 33h0m0 19h0m0 -2h0m0 5h0m1 5h0m2 0h0m0 -69h0m1 35h0m0 33h0m0 3h0m1 -25h0m0 -40h0m1 79h0m0 -44h0m0 -13h0m1 4h0m0 -16h0m0 4h0m0 45h0m1 6h0m0 -18h0m0 -16h0m1 2h0m0 -8h0m0 -22h0m0 65h0m1 9h0m0 -1h0m0 -35h0m0 -14h0m0 10h0m0 27h0m1 -8h0m0 -4h0m0 -35h0m1 15h0m0 11h0m1 -33h0m2 13h0m3 13h0m1 7h0m0 2h0m0 -25h0m0 56h0m1 -15h0m0 -41h0m1 -7h0m1 90h0m0 -63h0m0 9h0m0 30h0m1 -20h0m0 -21h0m0 18h0m0 5h0m0 -27h0m1 8h0m0 11h0m1 -16h0m0 -7h0m0 -24h0m0 48h0m0 -45h0m0 14h0m1 22h0m0 26h0m0 -39h0m0 -4h0m1 18h0m0 -29h0m1 17h0m0 14h0m1 -23h0m1 -24h0m0 63h0m0 26h0m0 -85h0m0 36h0m0 -38h0m1 34h0m0 16h0m0 -34h0m0 -8h0m0 61h0m0 7h0m0 -18h0m1 -36h0m0 -6h0m0 55h0m0 -60h0m1 38h0m0 -29h0m1 -30h0m0 34h0m0 9h0m0 -18h0m0 -1h0m1 -1h0m0 32h0m0 -44h0m1 19h0m0 -32h0m0 66h0m1 -62h0m0 44h0m0 -21h0m0 42h0m0 -5h0m1 -27h0m0 40h0m0 -37h0m0 18h0m0 -13h0m1 10h0m0 0h0m0 24h0m0 -12h0m1 -24h0m0 29h0m1 -13h0m0 10h0m0 -24h0m1 -1h0m0 -25h0m0 39h0m1 -26h0m0 -17h0m0 13h0m1 15h0m1 2h0m1 22h0m0 -11h0m2 -11h0m1 4h0m1 30h0m0 -50h0m0 18h0m1 58h0m0 -41h0m1 4h0m0 -56h0m0 50h0m1 -43h0m0 14h0m0 -5h0m0 -12h0m1 24h0m0 -1h0m0 27h0m1 -11h0m0 52h0m1 -82h0m1 21h0m1 -35h0m2 37h0m1 -27h0m0 9h0m1 -1h0m0 32h0m1 -43h0m0 18h0m1 21h0m0 -64h0m0 37h0m0 18h0m0 -39h0m0 49h0m0 -41h0m0 27h0m0 70h0m1 -110h0m1 79h0m0 -30h0m0 36h0m0 -62h0m1 -5h0m0 52h0m0 -15h0m0 -58h0m1 69h0m0 -15h0m0 8h0m0 12h0m0 -39h0m0 16h0m0 -20h0m0 0h0m0 23h0m0 -17h0m1 -6h0m0 58h0m0 -39h0m0 -37h0m0 15h0m0 -14h0m1 30h0m0 10h0m0 -11h0m0 -13h0m0 9h0m0 -31h0m0 93h0m0 -42h0m1 -23h0m0 18h0m1 -13h0m0 -23h0m0 20h0m0 43h0m0 -57h0m1 3h0m0 38h0m0 -25h0m0 48h0m1 -95h0m0 85h0m0 -27h0m0 14h0m0 -18h0m0 25h0m0 -32h0m1 23h0m0 -46h0m1 67h0m1 13h0m0 -41h0m0 30h0m0 -24h0m0 8h0m1 9h0m0 -36h0m0 14h0m1 15h0m0 13h0m0 -33h0m0 -14h0m0 -5h0m1 -32h0m0 47h0m0 11h0m0 1h0m0 -47h0m1 21h0m0 -2h0m0 35h0m0 -26h0m0 -25h0m0 41h0m1 10h0m0 -22h0m0 0h0m0 2h0m1 24h0m0 -54h0m0 39h0m0 -26h0m0 26h0m0 -16h0m1 -21h0m0 23h0m0 -38h0m0 48h0m1 -32h0m0 48h0m0 -65h0m0 19h0m0 16h0m2 -15h0m0 5h0m1 -22h0m0 11h0m0 83h0m0 -90h0m0 59h0m1 -24h0m0 5h0m0 12h0m1 -2h0m0 -44h0m0 5h0m0 42h0m1 -4h0m1 7h0m0 31h0m1 -75h0m4 14h0m0 48h0m0 -22h0m1 -1h0m1 -5h0m0 38h0m1 -25h0m0 12h0m0 -30h0m0 31h0m3 -20h0m1 8h0m1 23h0m0 -12h0m1 -7h0m1 -28h0m0 -27h0m0 27h0m0 -14h0m1 40h0m1 -29h0m0 -1h0m2 39h0m0 5h0m0 -1h0m2 -18h0m0 3h0m2 -11h0m1 8h0m1 -4h0m1 -38h0m0 9h0m0 -9h0m0 -11h0m0 26h0m1 -10h0m0 1h0m0 40h0m0 -35h0m1 9h0m0 50h0m0 -63h0m1 26h0m0 -53h0m0 84h0m0 -50h0m0 -20h0m1 53h0m0 16h0m0 -51h0m1 21h0m0 -27h0m0 44h0m1 -15h0m0 -40h0m0 3h0m0 30h0m0 43h0m0 -25h0m1 -13h0m0 13h0m0 -3h0m0 3h0m0 -18h0m1 -5h0m0 -5h0m1 -18h0m0 9h0m0 7h0m0 38h0m17 -52h0m0 -25h0m2 34h0m0 41h0m2 -14h0m0 -9h0m0 -9h0m1 14h0m1 -6h0m1 -7h0m0 -9h0m2 52h0m1 -54h0m1 84h0m1 -111h0m0 59h0m0 -68h0m0 42h0m1 20h0m2 33h0m1 -45h0m2 6h0m1 22h0m0 -17h0m0 -18h0m2 -3h0m0 -10h0m0 15h0m1 65h0m0 -51h0m0 -20h0m1 42h0m1 -18h0m0 -43h0m1 19h0m0 -3h0m0 7h0m1 -1h0m0 12h0m0 -55h0m0 73h0m3 -7h0m0 14h0m2 -41h0m0 -12h0m0 3h0m0 32h0m1 14h0m0 -34h0m0 -7h0m1 54h0m0 -29h0m0 -12h0m0 -1h0m1 8h0m0 27h0m0 -49h0m0 10h0m0 -4h0m0 -7h0m1 36h0m1 -12h0m0 -35h0m1 25h0m0 -8h0m0 4h0m0 26h0m0 4h0m2 -20h0m0 -12h0m1 51h0m0 -28h0m0 -54h0m0 44h0m1 15h0m1 -35h0m0 19h0m0 -45h0m0 62h0m1 -17h0m0 -22h0m0 8h0m0 1h0m0 3h0m0 15h0m1 -49h0m1 42h0m0 22h0m1 -39h0m0 -18h0m1 18h0m0 74h0m0 -32h0m0 -20h0m0 -27h0m1 12h0m0 27h0m0 -9h0m0 -32h0m1 15h0m0 5h0m0 24h0m0 -45h0m1 36h0m1 -10h0m0 12h0m1 -42h0m0 2h0m3 21h0m5 -23h0m0 41h0m0 4h0m0 -36h0m0 -13h0m0 -2h0m1 57h0m0 -50h0m0 24h0m2 -11h0m0 24h0m0 -10h0m3 -20h0m1 24h0m0 -51h0m2 17h0m1 6h0m2 -2h0m1 -26h0m1 48h0m3 25h0m0 -44h0m2 -6h0m0 80h0m1 -19h0m0 -80h0m0 69h0m1 -20h0m0 -1h0m1 13h0m0 -56h0m0 59h0m1 -9h0m0 13h0m0 -9h0m1 12h0m1 -16h0m0 -5h0m0 16h0m3 -5h0m0 1h0m3 -21h0m2 -22h0m1 38h0m0 -19h0m1 0h0m1 -26h0m0 60h0m1 -15h0m1 -12h0m0 -17h0m0 -5h0m0 5h0m0 43h0m1 -42h0m0 2h0m0 -9h0m1 -2h0m0 23h0m0 -36h0m1 36h0m0 13h0m0 -10h0m1 -19h0m0 0h0m1 15h0m0 14h0m0 -18h0m0 -12h0m0 -17h0m1 20h0m1 -5h0m0 -33h0m0 36h0m1 -17h0m0 46h0m1 -41h0m0 14h0m0 60h0m0 -64h0m0 -12h0m1 47h0m0 -19h0m0 -29h0m1 10h0m0 15h0m0 8h0m0 14h0m0 15h0m0 -14h0m0 10h0m0 -13h0m1 30h0m1 -58h0m0 -3h0m0 2h0m0 16h0m0 -7h0m1 -11h0m0 42h0m0 -9h0m1 12h0m1 -21h0m0 -5h0m1 5h0m0 14h0m1 -42h0m0 61h0m0 -59h0m0 -18h0m1 76h0m0 -28h0m0 1h0m0 26h0m0 -7h0m0 -29h0m0 -8h0m0 -5h0m0 -10h0m0 -16h0m1 -4h0m0 6h0m0 4h0m1 83h0m0 -69h0m0 -6h0m0 -14h0m1 1h0m0 54h0m1 -14h0m0 -34h0m0 49h0m0 -30h0m1 27h0m1 10h0m5 -44h0m0 -18h0m0 59h0m1 -45h0m0 51h0m0 -25h0m0 -3h0m1 -8h0m0 12h0m0 -19h0m0 64h0m1 -77h0m0 35h0m0 12h0m0 -15h0m0 -14h0m0 13h0m0 -1h0m1 -19h0m0 -13h0m0 8h0m0 14h0m0 -6h0m1 -11h0m0 49h0m0 19h0m0 -18h0m1 -52h0m0 26h0m1 20h0m0 -23h0m0 -8h0m2 -26h0m0 5h0m0 26h0m1 -32h0m0 55h0m0 -12h0m0 -9h0m0 3h0m0 -18h0m0 35h0m0 -13h0m1 -10h0m0 -22h0m0 23h0m0 13h0m1 -34h0m0 40h0m0 -12h0m0 5h0m0 -14h0m1 22h0m0 -45h0m0 20h0m1 38h0m0 -35h0m0 -14h0m0 18h0m1 24h0m0 5h0m0 22h0m0 -40h0m1 27h0m0 -56h0m1 27h0m0 5h0m0 2h0m1 -44h0m0 19h0m1 -4h0m0 55h0m1 -12h0m0 -16h0m0 -21h0m1 -36h0m0 42h0m1 -5h0m0 16h0m0 32h0m1 -54h0m1 7h0m0 -16h0m0 6h0m0 57h0m1 -12h0m0 -7h0m0 -38h0m0 4h0m0 -9h0m0 60h0m1 -8h0m0 -20h0m0 -29h0m0 10h0m1 -16h0m1 24h0m0 1h0m0 17h0m0 27h0m1 -46h0m0 38h0m0 -54h0m0 34h0m0 41h0m1 -99h0m0 6h0m0 42h0m0 -9h0m0 -13h0m0 -22h0m1 26h0m0 26h0m0 3h0m0 -43h0m1 53h0m0 -26h0m0 10h0m3 18h0m0 -32h0m0 14h0m1 -7h0m1 -17h0m0 -6h0m0 59h0m0 -44h0m1 9h0m0 26h0m0 -18h0m1 -62h0m0 48h0m1 21h0m0 -19h0m0 -29h0m0 31h0m0 0h0m1 28h0m0 22h0m0 -94h0m0 50h0m0 13h0m1 -38h0m2 8h0m0 -3h0m1 -15h0m0 49h0m0 2h0m0 -41h0m0 8h0m0 -12h0m0 63h0m1 -42h0m0 -9h0m0 21h0m0 -3h0m0 22h0m0 14h0m0 -13h0m0 -57h0m1 21h0m0 -2h0m0 38h0m0 -62h0m0 42h0m0 -20h0m1 32h0m0 6h0m0 19h0m1 -33h0m0 -26h0m1 47h0m0 -74h0m0 4h0m0 20h0m1 49h0m0 -29h0m0 -12h0m0 -16h0m0 -10h0m0 5h0m0 39h0m1 -11h0m0 40h0m0 -37h0m0 11h0m1 -10h0m0 -9h0m1 -6h0m0 30h0m1 -1h0m1 -43h0m0 36h0m0 13h0m0 -35h0m0 23h0m1 -11h0m0 31h0m0 -7h0m1 -44h0m0 7h0m0 54h0m1 -30h0m0 -5h0m0 -5h0m0 12h0m0 45h0m1 -87h0m1 4h0m0 18h0m0 18h0m0 -53h0m0 37h0m1 41h0m0 -6h0m0 -29h0m0 34h0m0 -9h0m0 -18h0m0 16h0m0 2h0m1 -31h0m0 41h0m0 -54h0m1 29h0m1 -2h0m0 17h0m0 -16h0m1 -32h0m0 48h0m0 -28h0m0 46h0m1 -40h0m0 -46h0m0 75h0m0 -13h0m0 6h0m0 -35h0m1 -6h0m0 -13h0m1 45h0m3 -24h0m0 -13h0m4 25h0m1 2h0m0 -25h0m2 41h0m0 15h0m1 -19h0m0 -16h0m1 10h0m0 16h0m0 -22h0m1 4h0m0 5h0m1 -8h0m0 3h0m0 7h0m0 -28h0m1 29h0m1 -4h0m0 -27h0m0 54h0m0 -11h0m1 -28h0m2 8h0m0 -10h0m1 40h0m0 -43h0m1 18h0m1 -33h0m0 26h0m1 5h0m1 -10h0m0 34h0m1 -32h0m0 25h0m1 -12h0m0 -36h0m1 14h0m0 21h0m0 22h0m0 -72h0m1 37h0m0 18h0m0 -16h0m1 -29h0m0 27h0m0 -26h0m0 -3h0m1 3h0m0 36h0m1 -25h0m0 -31h0m1 14h0m0 18h0m1 38h0m0 -45h0m0 -22h0m1 17h0m1 33h0m0 -4h0m0 -36h0m1 34h0m0 -16h0m0 16h0m1 -14h0m0 16h0m2 -21h0m0 13h0m0 6h0m1 4h0m0 -21h0m0 23h0m0 8h0m1 -32h0m0 4h0m1 14h0m0 -11h0m0 -25h0m0 13h0m0 9h0m0 -22h0m0 25h0m0 -28h0m1 41h0m0 7h0m0 -61h0m0 43h0m0 -13h0m0 47h0m1 -4h0m0 -21h0m0 -12h0m0 55h0m0 -53h0m0 -29h0m0 50h0m0 -3h0m0 -23h0m1 20h0m0 -49h0m1 37h0m0 9h0m1 -18h0m0 -6h0m0 88h0m1 -60h0m0 -45h0m3 26h0m1 14h0m0 -9h0m1 23h0m1 -59h0m0 30h0m1 -26h0m1 3h0m2 32h0m1 -24h0m3 15h0m1 53h0m0 -56h0m1 33h0m0 -58h0m0 30h0m2 17h0m0 -28h0m5 38h0m7 -13h0m2 32h0m1 -67h0m0 43h0m1 -12h0m0 -32h0m1 25h0m4 -14h0m2 -2h0m1 -4h0m1 27h0m4 3h0m0 -19h0m1 80h0m2 -80h0m2 53h0m2 -39h0m0 9h0m1 -3h0m0 -46h0m1 48h0m0 15h0m2 -41h0m0 14h0m3 14h0m2 11h0m0 -41h0m1 -2h0m0 36h0m1 -30h0m1 39h0m0 23h0m2 -38h0m1 -46h0m2 34h0m1 -5h0m1 55h0m0 -14h0m0 -23h0m1 -14h0m1 -4h0m0 -13h0m5 2h0m0 57h0m2 -17h0m3 10h0m4 6h0m0 -57h0m2 34h0m0 -25h0m3 -12h0m2 41h0m0 -43h0m2 3h0m3 19h0m5 4h0m2 14h0m1 -13h0m0 -6h0m0 15h0m1 11h0m0 -52h0m1 36h0m1 -10h0m0 10h0m0 -40h0m0 32h0m1 36h0m0 -10h0m0 -48h0m1 15h0m0 50h0m0 -9h0m1 -43h0m1 37h0m0 -63h0m0 36h0m0 -4h0m1 30h0m0 -50h0m0 36h0m0 -52h0m1 46h0m0 -13h0m0 15h0m0 -18h0m0 48h0m0 -26h0m1 7h0m0 -54h0m0 50h0m0 12h0m0 -17h0m1 -20h0m0 17h0m0 44h0m0 -60h0m0 5h0m15 20h0m1 13h0m0 -53h0m2 66h0m0 -36h0m1 8h0m0 -45h0m1 90h0m1 -68h0m1 35h0m2 -36h0m0 23h0m2 -55h0m1 78h0m0 -23h0m0 2h0m1 9h0m0 -55h0m2 13h0m1 51h0m3 14h0m5 -49h0m0 -25h0m1 11h0m1 -16h0m1 35h0m0 0h0m1 17h0m1 8h0m0 -11h0m0 21h0m0 -24h0m0 -32h0m1 17h0m0 -36h0m1 24h0m0 18h0m0 -27h0m0 22h0m1 21h0m0 -4h0m0 -14h0m0 -5h0m0 24h0m0 -46h0m0 6h0m1 26h0m0 -2h0m1 -28h0m2 24h0m1 36h0m2 -41h0m3 19h0m0 0h0m1 4h0m1 13h0m1 -18h0m1 41h0m0 -36h0m2 11h0m0 -3h0m0 0h0m2 0h0m0 0h0m1 -17h0m1 16h0m2 6h0m2 -49h0m0 29h0m1 -10h0m0 11h0m1 -39h0m0 9h0m0 6h0m1 20h0m1 9h0m1 4h0m0 6h0m2 -2h0m0 -32h0m3 -13h0m2 42h0m1 14h0m1 -28h0m3 -16h0m1 32h0m1 12h0m0 -8h0m0 -52h0m0 31h0m1 20h0m14 -2h0m0 -27h0m0 33h0m0 -16h0m1 -8h0m0 3h0m0 -33h0m0 31h0m0 -26h0m0 4h0m0 60h0m1 -29h0m1 -28h0m0 13h0m1 2h0m0 -24h0m0 20h0m0 18h0m1 30h0m1 -31h0m1 -9h0m0 11h0m1 7h0m1 5h0m0 -59h0m3 28h0m1 5h0m1 -27h0m0 26h0m1 5h0m0 28h0m1 -54h0m1 -15h0m0 11h0m1 58h0m1 -14h0m1 -51h0m0 35h0m1 -35h0m1 68h0m0 -48h0m0 41h0m1 -4h0m0 1h0m0 -57h0m1 58h0m0 24h0m0 -13h0m1 -25h0m0 -8h0m0 -9h0m1 -17h0m0 -20h0m1 12h0m0 15h0m0 12h0m1 18h0m0 2h0m0 -24h0m0 16h0m0 4h0m0 -52h0m1 20h0m0 7h0m0 -8h0m0 11h0m0 -24h0m1 61h0m0 -55h0m0 63h0m0 -13h0m0 -6h0m0 -40h0m1 43h0m0 34h0m0 -84h0m0 44h0m1 35h0m0 -65h0m0 35h0m0 20h0m1 -34h0m0 -21h0m1 18h0m0 -45h0m0 57h0m0 -39h0m1 37h0m0 33h0m1 -30h0m0 -30h0m0 32h0m0 15h0m1 -33h0m0 -30h0m0 -3h0m0 33h0m0 -4h0m0 -12h0m0 -26h0m0 0h0m1 26h0m0 67h0m1 -73h0m1 37h0m0 29h0m0 -73h0m1 2h0m0 19h0m0 20h0m0 39h0m0 -39h0m1 -48h0m0 52h0m0 -16h0m0 37h0m2 -22h0m1 10h0m1 -54h0m0 -18h0m1 35h0m0 -5h0m1 42h0m0 -48h0m0 -8h0m0 -12h0m1 44h0m0 50h0m0 -38h0m1 9h0m1 -22h0m1 -17h0m0 65h0m2 -39h0m0 -4h0m0 -21h0m1 34h0m0 -38h0m0 8h0m0 3h0m1 61h0m0 -17h0m0 -11h0m0 -16h0m0 -18h0m1 25h0m2 -62h0m0 28h0m2 -7h0m0 47h0m2 -10h0m0 -4h0m1 -33h0m0 51h0m1 -34h0m2 11h0m17 -3h0m1 35h0m0 -56h0m3 48h0m0 -48h0m1 29h0m0 -16h0m0 -31h0m0 69h0m2 -29h0m0 1h0m0 49h0m1 -62h0m0 -15h0m1 4h0m0 37h0m0 -55h0m0 17h0m1 -10h0m0 13h0m0 50h0m0 1h0m0 -63h0m0 45h0m1 -13h0m0 4h0m0 7h0m0 8h0m1 -15h0m0 -14h0m0 -7h0m0 28h0m0 -12h0m0 24h0m0 -4h0m1 -48h0m0 39h0m0 -10h0m0 -14h0m0 -22h0m2 46h0m0 2h0m0 -16h0m0 39h0m0 -46h0m0 -25h0m1 20h0m0 27h0m0 0h0m0 39h0m0 -56h0m0 -24h0m1 -3h0m0 41h0m0 23h0m0 -13h0m1 -53h0m0 75h0m0 -63h0m0 -13h0m0 49h0m0 -38h0m0 32h0m1 10h0m0 20h0m0 -53h0m0 20h0m0 -5h0m1 -12h0m0 24h0m0 13h0m1 -45h0m0 -1h0m0 46h0m1 -22h0m0 26h0m1 -35h0m0 -19h0m0 24h0m1 -9h0m0 23h0m0 17h0m0 15h0m1 -59h0m0 41h0m0 -6h0m0 -31h0m0 -20h0m1 30h0m0 -35h0m0 42h0m0 0h0m1 14h0m1 6h0m1 -14h0m2 -6h0m0 -15h0m1 8h0m1 7h0m0 -54h0m0 15h0m3 31h0m0 33h0m1 -54h0m0 -6h0m1 36h0m2 -25h0m0 34h0m0 -36h0m1 20h0m1 3h0m1 -42h0m1 14h0m0 -4h0m0 45h0m1 -14h0m1 31h0m0 -21h0m0 -50h0m2 60h0m0 -58h0m1 60h0m0 -23h0m0 59h0m0 -28h0m1 -45h0m0 47h0m2 -53h0m1 88h0m0 -89h0m1 27h0m1 -27h0m1 22h0m0 23h0m1 -12h0m0 24h0m0 -43h0m0 35h0m1 -32h0m0 29h0m0 -8h0m0 -30h0m1 24h0m0 20h0m5 -25h0m0 8h0m0 -46h0m2 23h0m1 16h0m1 -37h0m1 43h0m0 -20h0m0 -19h0m0 37h0m0 -7h0m1 10h0m0 -12h0m1 -5h0m0 -15h0m1 28h0m1 -42h0m0 10h0m1 44h0m0 10h0m1 -19h0m0 -58h0m0 15h0m1 1h0m0 65h0m1 -64h0m1 -14h0m0 21h0m1 22h0m0 -5h0m1 -5h0m0 -6h0m0 6h0m0 -46h0m0 28h0m1 -9h0m0 -4h0m0 41h0m0 15h0m0 -30h0m0 -13h0m0 10h0m1 73h0m0 -95h0m1 9h0m0 -1h0m1 8h0m0 39h0m1 -22h0m0 -34h0m1 10h0m0 61h0m1 -79h0m0 71h0m1 -5h0m10 27h0m2 -60h0m1 50h0m0 -47h0m0 42h0m0 -32h0m2 -4h0m0 7h0m0 -56h0m1 31h0m0 22h0m1 -33h0m1 29h0m0 -18h0m1 31h0m1 -29h0m1 22h0m1 -9h0m0 -9h0m2 -2h0m0 -11h0m0 -1h0m1 52h0m1 -46h0m0 -15h0m1 34h0m1 19h0m2 -21h0m0 29h0m0 -4h0m1 -46h0m0 23h0m1 27h0m1 -3h0m0 -28h0m1 0h0m1 -10h0m0 8h0m0 41h0m1 -35h0m0 16h0m0 -35h0m0 29h0m1 -48h0m1 21h0m1 40h0m1 11h0m6 -17h0m1 12h0m0 -31h0m0 12h0m1 22h0m0 -20h0m2 -37h0m5 62h0m0 10h0m0 -27h0m0 0h0m0 -8h0m0 1h0m1 -32h0m0 3h0m1 25h0m0 32h0m0 -36h0m1 -7h0m0 41h0m0 13h0m1 -12h0m0 -4h0m1 1h0m1 9h0m0 -66h0m0 -5h0m0 14h0m1 50h0m0 -18h0m0 -25h0m0 1h0m0 6h0m0 2h0m0 11h0m1 11h0m0 -35h0m0 -16h0m0 5h0m1 -14h0m0 69h0m0 -45h0m1 -8h0m0 29h0m0 39h0m0 -58h0m0 16h0m1 17h0m1 -33h0m0 51h0m0 -62h0m1 60h0m0 -71h0m0 21h0m0 6h0m0 -7h0m1 3h0m1 26h0m1 -11h0m1 22h0m1 -1h0m0 -58h0m0 23h0m1 -9h0m2 37h0m3 -2h0m1 19h0m1 -6h0m1 0h0m0 3h0m0 -65h0m1 70h0m0 -42h0m1 -13h0m1 11h0m0 17h0m1 -29h0m0 15h0m0 -4h0m0 46h0m1 -12h0m0 -56h0m0 89h0m0 -34h0m0 -36h0m1 -34h0m1 14h0m0 24h0m0 18h0m1 -3h0m0 -8h0m1 11h0m0 -6h0m0 27h0m0 -47h0m2 13h0m0 0h0m0 -2h0m1 8h0m1 -27h0m0 27h0m0 6h0m1 -9h0m0 0h0m0 20h0m0 -16h0m0 32h0m0 -19h0m0 -1h0m1 -53h0m1 67h0m0 -8h0m0 0h0m0 -16h0m0 -26h0m1 22h0m0 21h0m0 -40h0m1 48h0m0 -81h0m1 67h0m0 -21h0m0 19h0m1 -29h0m0 36h0m0 -45h0m4 22h0m0 12h0m0 -20h0m0 -1h0m1 24h0m0 -11h0m0 -32h0m0 21h0m0 -34h0m1 36h0m0 -27h0m1 60h0m0 -18h0m0 25h0m0 -50h0m1 23h0m0 -17h0m0 -8h0m1 11h0m1 -43h0m0 22h0m1 22h0m0 4h0m0 -14h0m2 31h0m0 5h0m5 -2h0m0 -61h0m0 69h0m2 -21h0m0 -33h0m2 26h0m1 26h0m2 -55h0m1 41h0m0 -60h0m2 23h0m0 -5h0m1 2h0m0 3h0m0 23h0m0 -14h0m1 33h0m2 -34h0m3 -27h0m1 14h0m0 65h0m1 -68h0m1 11h0m2 21h0m0 14h0m2 13h0m0 -76h0m1 24h0m0 -1h0m0 1h0m2 46h0m2 18h0m0 -51h0m0 -19h0m2 20h0m0 3h0m0 46h0m1 -6h0m0 0h0m0 -51h0m1 16h0m0 46h0m0 -17h0m2 -33h0m1 -26h0m0 64h0m1 -37h0m0 -22h0m1 24h0m0 12h0m0 0h0m1 15h0m0 -34h0m0 -23h0m2 50h0m1 -23h0m0 49h0m0 -60h0m0 -14h0m0 37h0m4 -28h0m0 65h0m1 -18h0m0 -29h0m0 21h0m1 -16h0m0 6h0m0 14h0m0 -27h0m1 17h0m0 13h0m1 -33h0m1 40h0m0 -42h0m1 90h0m0 -79h0m2 -18h0m1 36h0m0 -10h0m0 14h0m0 12h0m1 4h0m0 -20h0m0 -37h0m1 50h0m0 -45h0m0 20h0m1 -22h0m1 41h0m0 -15h0m0 9h0m1 33h0m1 -42h0m3 17h0m2 33h0m1 -73h0m1 30h0m1 -1h0m0 -15h0m1 -16h0m1 42h0m0 -40h0m0 50h0m0 14h0m0 -29h0m1 12h0m0 -14h0m0 -35h0m0 19h0m0 -18h0m1 -7h0m1 52h0m1 -43h0m1 -3h0m2 32h0m1 15h0m0 -7h0m2 -54h0m0 28h0m0 41h0m1 -44h0m0 13h0m0 -17h0m0 5h0m2 5h0m0 24h0m0 -55h0m0 16h0m1 -9h0m0 70h0m1 -22h0m0 -23h0m0 -17h0m1 44h0m4 -43h0m0 15h0m1 -31h0m0 42h0m0 -3h0m2 14h0m1 -11h0m0 12h0m0 -45h0m0 26h0m1 -24h0m0 3h0m0 44h0m1 7h0m1 -16h0m0 18h0m0 -35h0m1 -20h0m1 9h0m1 25h0m0 -40h0m1 17h0m1 30h0m1 -1h0m0 -22h0m2 47h0m3 -36h0m1 -10h0m0 -38h0m0 43h0m0 10h0m0 -11h0m1 -12h0m0 3h0m0 -7h0m0 13h0m0 -17h0m1 36h0m0 -38h0m0 7h0m0 55h0m1 -46h0m0 23h0m0 -9h0m0 -26h0m0 -9h0m1 12h0m0 -21h0m0 18h0m1 -4h0m0 44h0m1 -14h0m1 -46h0m0 11h0m0 34h0m3 -28h0m1 14h0m2 -5h0m2 -11h0m0 -8h0m1 45h0m1 -7h0m1 28h0m0 -22h0m1 -31h0m0 -14h0m0 44h0m0 -9h0m0 -59h0m0 57h0m1 -30h0m0 -7h0m0 -4h0m0 -4h0m1 67h0m0 -9h0m0 -45h0m1 69h0m1 -55h0m0 22h0m0 13h0m0 -24h0m1 16h0m1 -15h0m0 2h0m0 31h0m0 -49h0m11 28h0m0 -25h0m0 13h0m0 16h0m1 34h0m0 -39h0m1 -36h0m1 53h0m0 -71h0m1 45h0m0 -5h0m0 19h0m0 -35h0m0 0h0m0 27h0m1 -53h0m1 36h0m0 35h0m1 -40h0m0 66h0m0 -94h0m1 63h0m0 -39h0m0 6h0m1 -15h0m0 6h0m1 7h0m0 36h0m0 -22h0m0 7h0m0 10h0m0 13h0m1 -60h0m0 44h0m0 -7h0m0 -54h0m1 50h0m0 25h0m0 -50h0m0 29h0m1 43h0m0 -75h0m0 6h0m1 4h0m0 19h0m0 9h0m0 0h0m0 -58h0m0 36h0m0 11h0m0 16h0m1 -31h0m0 40h0m1 -41h0m0 7h0m0 24h0m0 -18h0m1 -6h0m0 -35h0m1 -6h0m1 72h0m0 -36h0m0 4h0m0 -20h0m1 38h0m0 -41h0m0 -2h0m0 43h0m0 -18h0m1 66h0m1 -72h0m0 10h0m0 -10h0m0 -19h0m1 24h0m0 18h0m0 -2h0m1 32h0m0 -20h0m0 -50h0m0 47h0m0 -1h0m0 -47h0m1 -8h0m0 54h0m1 -19h0m0 27h0m0 -60h0m1 -11h0m0 36h0m1 -19h0m0 19h0m0 -15h0m1 38h0m0 -23h0m0 24h0m0 6h0m11 15h0m0 -26h0m0 4h0m0 -48h0m2 79h0m1 -37h0m0 22h0m0 -66h0m1 45h0m0 -32h0m0 81h0m1 -60h0m0 25h0m0 -1h0m1 -19h0m0 17h0m0 22h0m0 21h0m0 -41h0m0 -27h0m0 54h0m1 -67h0m1 27h0m0 8h0m1 -10h0m1 24h0m0 -22h0m0 -41h0m3 39h0m1 -50h0m0 50h0m1 -60h0m0 49h0m2 40h0m0 -12h0m0 -50h0m2 58h0m1 -23h0m1 1h0m0 -28h0m2 37h0m0 -55h0m2 19h0m1 43h0m0 -51h0m0 33h0m5 -70h0m2 30h0m1 -47h0m4 16h0m1 9h0m1 -15h0m0 37h0m2 -29h0m1 34h0m0 1h0m3 6h0m2 9h0m0 -9h0m1 -72h0m0 40h0m1 1h0m0 25h0m0 -42h0m2 34h0m1 -21h0m4 -4h0m0 22h0m0 3h0m1 -46h0m1 12h0m2 79h0m0 -79h0m0 -38h0m2 114h0m0 -43h0m1 -17h0m1 16h0m1 -43h0m0 43h0m3 -29h0m1 -8h0m1 45h0m0 2h0m1 -26h0m2 31h0m0 -4h0m1 -41h0m1 32h0m2 1h0m3 11h0m1 -12h0m0 -24h0m1 -11h0m3 21h0m0 -29h0m1 9h0m1 55h0m2 -9h0m2 -44h0m0 39h0m3 0h0m1 22h0m1 -38h0m4 -17h0m2 17h0m5 -5h0m2 -20h0m1 -1h0m1 32h0m1 -36h0m0 24h0m1 -20h0m0 35h0m2 19h0m0 -29h0m1 -33h0m0 31h0m2 -27h0m4 53h0m0 -32h0m0 -3h0m0 30h0m1 -26h0m0 -20h0m0 29h0m0 7h0m2 -46h0m1 35h0m1 -7h0m2 -16h0m0 15h0m1 -1h0m3 16h0m0 10h0m0 -62h0m1 34h0m2 -5h0m0 10h0m1 -35h0m1 50h0m1 0h0m0 -46h0m1 0h0m2 19h0m0 27h0m1 -48h0m0 17h0m0 -5h0m0 35h0"/><path stroke-width="9.0" d="M124 602h0m1 -34h0m4 -2h0m2 54h0m1 -46h0m0 -2h0m0 -9h0m2 9h0m1 34h0m2 -30h0m1 -20h0m2 16h0m0 -40h0m1 100h0m0 -32h0m1 -4h0m1 -34h0m1 -6h0m1 46h0m6 4h0m1 -28h0m2 25h0m0 -30h0m3 -14h0m1 41h0m1 -30h0m0 33h0m0 -7h0m1 -30h0m1 31h0m1 -10h0m0 -24h0m1 28h0m1 -32h0m1 -4h0m1 47h0m0 -35h0m1 -6h0m1 26h0m0 6h0m1 -8h0m1 28h0m2 -10h0m0 -8h0m1 -33h0m1 21h0m0 6h0m0 -21h0m0 2h0m1 -8h0m0 4h0m0 -2h0m0 52h0m0 -73h0m1 38h0m1 3h0m4 18h0m1 -17h0m5 -11h0m0 0h0m0 23h0m0 -10h0m1 24h0m0 -29h0m2 30h0m0 -37h0m0 19h0m0 -31h0m1 7h0m0 -8h0m2 70h0m0 -77h0m1 -9h0m0 29h0m0 -15h0m0 -3h0m0 15h0m0 30h0m1 -9h0m0 9h0m0 -44h0m1 -8h0m0 42h0m0 -11h0m0 28h0m1 -11h0m0 -65h0m0 61h0m0 -22h0m0 -23h0m0 23h0m0 -7h0m0 21h0m1 54h0m0 -47h0m0 25h0m0 -24h0m1 -45h0m0 -9h0m0 36h0m1 -3h0m0 2h0m0 28h0m0 -54h0m1 39h0m0 -24h0m0 23h0m0 46h0m0 -30h0m2 -24h0m0 -33h0m0 32h0m1 5h0m0 -5h0m1 -1h0m1 44h0m1 -55h0m0 19h0m0 16h0m3 13h0m2 -11h0m0 -58h0m1 71h0m20 -36h0m0 6h0m1 -41h0m1 16h0m4 -12h0m0 18h0m3 32h0m2 -60h0m0 73h0m1 -58h0m1 34h0m1 18h0m1 -4h0m1 -40h0m1 44h0m1 -43h0m0 32h0m2 1h0m1 6h0m0 11h0m1 -36h0m0 -26h0m0 46h0m1 -35h0m0 14h0m1 41h0m0 -30h0m0 -32h0m1 28h0m1 -18h0m0 -10h0m0 8h0m2 22h0m0 0h0m1 -30h0m1 44h0m1 8h0m1 -22h0m0 2h0m1 1h0m2 8h0m2 -1h0m4 11h0m1 -53h0m0 22h0m0 17h0m3 -4h0m5 -16h0m0 -3h0m1 21h0m0 -41h0m1 19h0m1 46h0m2 -5h0m1 -17h0m1 -3h0m0 -15h0m1 -12h0m1 32h0m0 7h0m1 20h0m0 -18h0m0 11h0m1 -39h0m0 6h0m0 22h0m0 5h0m0 -22h0m1 29h0m1 -70h0m0 58h0m1 -11h0m0 -10h0m0 15h0m0 -7h0m0 7h0m1 -14h0m0 9h0m0 9h0m1 -13h0m0 -18h0m1 6h0m1 -26h0m0 -4h0m1 7h0m0 38h0m0 -7h0m0 17h0m1 11h0m0 -11h0m1 -37h0m0 55h0m0 -60h0m1 19h0m0 -9h0m1 -8h0m0 26h0m1 27h0m0 -17h0m0 -23h0m0 21h0m0 11h0m0 -6h0m2 32h0m0 -33h0m0 -52h0m0 45h0m0 -38h0m0 36h0m6 31h0m1 -37h0m3 -16h0m2 -10h0m0 24h0m0 10h0m1 20h0m0 -41h0m0 35h0m1 -54h0m1 35h0m0 -32h0m0 23h0m0 -8h0m0 11h0m1 10h0m0 -16h0m2 8h0m0 -16h0m1 36h0m0 -51h0m2 52h0m0 12h0m0 -18h0m0 11h0m1 -52h0m0 31h0m2 -29h0m0 58h0m0 -19h0m0 26h0m1 -37h0m0 21h0m0 -1h0m1 -75h0m0 25h0m1 3h0m0 -18h0m0 97h0m0 -22h0m0 -30h0m0 35h0m1 -21h0m1 8h0m0 -40h0m0 38h0m0 -19h0m1 -13h0m0 22h0m0 -49h0m0 10h0m0 30h0m1 -18h0m0 -9h0m0 35h0m0 -8h0m0 2h0m0 -25h0m1 -6h0m0 -29h0m0 41h0m1 44h0m0 -47h0m0 -22h0m4 60h0m2 -53h0m2 10h0m1 31h0m0 -22h0m1 54h0m0 2h0m1 -43h0m1 -11h0m0 2h0m1 -1h0m1 -20h0m0 16h0m2 -26h0m1 7h0m2 19h0m0 62h0m0 -34h0m1 9h0m0 2h0m0 -66h0m1 30h0m0 27h0m1 -17h0m2 -17h0m1 2h0m1 30h0m0 -48h0m1 20h0m1 22h0m1 -15h0m4 -2h0m1 -32h0m0 92h0m0 -46h0m0 14h0m1 -42h0m1 25h0m2 2h0m0 -6h0m2 -20h0m0 41h0m1 -26h0m5 14h0m1 5h0m0 10h0m6 -68h0m1 61h0m2 -31h0m2 16h0m1 3h0m2 -29h0m3 30h0m0 2h0m0 12h0m1 -9h0m1 -18h0m0 9h0m1 -30h0m1 23h0m1 -14h0m0 8h0m0 19h0m1 4h0m1 -54h0m1 73h0m0 -61h0m0 60h0m4 -42h0m0 23h0m1 -18h0m2 14h0m3 -24h0m0 35h0m2 -10h0m1 20h0m0 -5h0m0 -5h0m0 16h0m4 -54h0m1 41h0m0 -16h0m2 22h0m2 7h0m0 -11h0m2 1h0m1 -6h0m1 -16h0m1 -1h0m1 -7h0m0 30h0m0 7h0m2 -15h0m1 -12h0m0 36h0m0 -67h0m3 -18h0m0 76h0m0 -37h0m2 -9h0m4 54h0m0 -48h0m1 20h0m0 11h0m3 -12h0m1 -56h0m2 23h0m5 37h0m4 36h0m1 -58h0m0 3h0m2 20h0m1 23h0m0 -46h0m0 -27h0m1 52h0m0 -18h0m3 20h0m1 -18h0m0 -9h0m1 -20h0m2 41h0m1 -46h0m0 4h0m0 4h0m0 15h0m1 -11h0m0 35h0m0 0h0m0 -19h0m0 -29h0m0 6h0m0 -2h0m2 44h0m1 -19h0m0 -4h0m0 20h0m1 -20h0m1 31h0m2 -18h0m1 7h0m1 -22h0m0 -38h0m1 66h0m0 -5h0m1 -32h0m1 -15h0m0 45h0m1 -39h0m4 42h0m4 -9h0m0 7h0m0 24h0m1 -13h0m2 -42h0m0 46h0m0 -13h0m1 -39h0m0 34h0m2 21h0m0 -39h0m0 -12h0m1 10h0m1 27h0m0 -17h0m0 42h0m0 -19h0m3 -10h0m0 -27h0m0 17h0m1 -23h0m1 58h0m0 -19h0m0 -17h0m0 -28h0m0 28h0m2 0h0m1 22h0m1 -19h0m1 -40h0m1 67h0m1 -34h0m0 10h0m2 -17h0m0 9h0m3 -6h0m1 7h0m1 25h0m0 -3h0m1 4h0m0 -18h0m0 18h0m4 -21h0m3 26h0m1 -24h0m0 17h0m1 -39h0m0 28h0m1 -15h0m3 -18h0m2 20h0m2 43h0m3 -3h0m2 -55h0m0 50h0m1 -38h0m0 19h0m0 -7h0m2 -16h0m0 -10h0m11 6h0m1 43h0m1 -11h0m0 17h0m1 -23h0m1 18h0m1 -54h0m1 29h0m0 8h0m1 -12h0m1 -9h0m0 18h0m1 -42h0m1 25h0m0 -9h0m1 -16h0m0 5h0m0 8h0m1 8h0m0 -39h0m0 59h0m0 17h0m0 -53h0m1 34h0m0 -48h0m1 60h0m0 -32h0m0 28h0m0 -25h0m1 54h0m0 -52h0m1 47h0m1 -32h0m0 11h0m1 -22h0m0 -4h0m0 -8h0m0 11h0m1 -3h0m0 24h0m0 -52h0m0 33h0m1 -32h0m0 18h0m1 22h0m0 13h0m1 -36h0m0 26h0m0 -35h0m0 41h0m0 -25h0m0 -5h0m1 10h0m0 19h0m0 -20h0m0 23h0m1 -11h0m0 4h0m0 -43h0m0 77h0m1 -55h0m0 14h0m1 -17h0m0 37h0m1 -50h0m0 53h0m0 3h0m0 -32h0m1 -16h0m0 23h0m1 19h0m0 7h0m0 -26h0m0 32h0m0 -58h0m1 41h0m0 -15h0m0 9h0m1 11h0m2 -12h0m0 -16h0m0 10h0m1 -20h0m0 35h0m0 -12h0m0 -2h0m1 28h0m0 -44h0m0 -3h0m1 4h0m1 -7h0m0 -14h0m0 20h0m1 -26h0m1 53h0m1 -31h0m1 5h0m0 1h0m1 13h0m0 -45h0m0 60h0m1 -20h0m0 36h0m1 11h0m1 -60h0m1 39h0m1 -40h0m1 -13h0m0 31h0m0 -7h0m0 9h0m0 17h0m1 -27h0m0 -15h0m0 1h0m0 25h0m1 21h0m0 -17h0m0 21h0m1 -44h0m1 -9h0m0 36h0m0 -24h0m0 39h0m0 -28h0m0 16h0m0 -24h0m0 41h0m1 -63h0m0 0h0m0 40h0m1 9h0m0 -16h0m0 -3h0m1 24h0m1 -20h0m0 24h0m0 -10h0m0 -64h0m1 57h0m0 5h0m1 -59h0m0 37h0m0 10h0m0 6h0m1 29h0m0 -45h0m1 -16h0m0 19h0m1 9h0m0 -29h0m1 20h0m0 9h0m1 -25h0m0 -1h0m0 6h0m0 13h0m1 6h0m0 -28h0m0 51h0m0 -29h0m0 -18h0m2 36h0m1 -28h0m0 22h0m1 -10h0m1 -7h0m1 37h0m0 -13h0m4 -12h0m0 -47h0m0 6h0m0 34h0m1 -7h0m1 -7h0m0 -7h0m0 27h0m1 -31h0m0 42h0m2 -33h0m5 38h0m2 -48h0m1 -1h0m0 79h0m1 -63h0m0 -11h0m0 -1h0m1 19h0m0 25h0m0 -5h0m0 -33h0m1 -13h0m1 41h0m0 -36h0m1 11h0m0 -11h0m1 -12h0m0 59h0m0 -47h0m1 4h0m0 15h0m0 -11h0m0 23h0m0 -42h0m0 43h0m0 11h0m0 -9h0m0 -5h0m1 20h0m0 17h0m0 -32h0m0 26h0m0 -6h0m1 -45h0m0 -8h0m0 21h0m0 5h0m1 -21h0m0 31h0m0 -29h0m1 30h0m0 37h0m0 -84h0m0 8h0m1 54h0m0 -35h0m0 -30h0m0 23h0m0 -3h0m1 10h0m0 31h0m0 -27h0m1 5h0m0 20h0m0 -29h0m2 19h0m3 -36h0m1 0h0m2 61h0m2 -7h0m0 -62h0m2 58h0m0 13h0m1 -83h0m0 22h0m0 28h0m1 10h0m2 -18h0m0 -2h0m1 -12h0m0 -7h0m4 14h0m0 -14h0m3 2h0m0 43h0m1 26h0m1 -78h0m0 10h0m1 38h0m1 -1h0m1 -25h0m0 55h0m0 -85h0m1 63h0m1 -3h0m0 -22h0m0 -9h0m1 20h0m0 -14h0m0 25h0m0 -26h0m1 0h0m0 68h0m0 -73h0m0 5h0m0 3h0m0 46h0m1 -73h0m0 25h0m0 -22h0m1 76h0m0 -50h0m1 102h0m0 -92h0m0 5h0m1 5h0m0 3h0m0 15h0m1 -54h0m0 48h0m0 -7h0m1 -19h0m0 7h0m0 1h0m1 -21h0m2 37h0m3 -15h0m0 -16h0m1 7h0m2 11h0m2 -2h0m0 4h0m0 22h0m1 -36h0m1 2h0m1 15h0m1 -11h0m1 -34h0m4 26h0m3 45h0m5 -72h0m1 74h0m1 -65h0m0 39h0m2 3h0m1 -51h0m0 23h0m0 12h0m1 51h0m0 -43h0m0 -7h0m1 -10h0m0 9h0m0 10h0m0 9h0m1 -5h0m0 13h0m0 -81h0m1 64h0m0 -20h0m1 27h0m0 -24h0m0 34h0m0 -22h0m1 -39h0m0 11h0m0 0h0m0 6h0m0 20h0m0 -51h0m0 23h0m0 -12h0m1 0h0m1 46h0m0 3h0m0 19h0m0 -48h0m0 -16h0m0 -11h0m3 57h0m1 -20h0m0 -25h0m0 51h0m1 -60h0m0 39h0m1 -30h0m1 23h0m0 -24h0m0 35h0m0 -12h0m0 17h0m1 -52h0m0 28h0m0 18h0m1 21h0m1 -24h0m0 5h0m1 -9h0m1 26h0m0 8h0m2 -46h0m0 32h0m2 -25h0m0 42h0m0 -51h0m0 -5h0m1 28h0m0 59h0m0 -70h0m0 -27h0m0 46h0m0 -28h0m0 25h0m1 -58h0m0 36h0m0 11h0m0 28h0m0 -28h0m0 -8h0m1 -29h0m0 57h0m1 -33h0m0 -31h0m0 27h0m0 45h0m2 -58h0m0 69h0m0 -19h0m1 -58h0m1 84h0m0 -67h0m0 51h0m0 -22h0m2 -34h0m0 18h0m1 -27h0m1 18h0m0 7h0m0 48h0m1 -44h0m1 28h0m0 -24h0m1 -22h0m0 -7h0m1 61h0m0 -57h0m2 9h0m0 31h0m3 -37h0m3 9h0m1 5h0m1 37h0m2 -39h0m4 -38h0m0 11h0m0 -6h0m2 6h0m1 35h0m1 -2h0m3 23h0m0 -11h0m3 -26h0m1 26h0m4 -17h0m1 -29h0m0 41h0m1 0h0m2 -8h0m1 -2h0m2 -39h0m0 46h0m0 -30h0m1 21h0m2 -16h0m1 -17h0m2 15h0m0 56h0m2 -1h0m2 -17h0m0 0h0m0 -54h0m1 12h0m5 34h0m2 -27h0m1 -13h0m1 39h0m2 -16h0m0 10h0m4 10h0m0 -8h0m1 -12h0m0 18h0m1 -4h0m0 -26h0m1 7h0m1 -9h0m0 -9h0m1 59h0m1 -11h0m0 -35h0m1 17h0m0 -25h0m0 -12h0m1 1h0m0 25h0m1 50h0m1 -36h0m0 8h0m0 -6h0m0 -2h0m1 -45h0m1 45h0m0 5h0m1 -35h0m1 38h0m0 -61h0m1 46h0m0 9h0m1 -22h0m0 31h0m0 8h0m0 -62h0m0 34h0m0 -14h0m0 30h0m1 -9h0m0 20h0m0 -3h0m1 -37h0m1 31h0m1 -27h0m0 -25h0m0 49h0m0 -35h0m1 -11h0m1 56h0m0 -9h0m0 10h0m0 -26h0m1 15h0m1 -21h0m0 25h0m0 -11h0m1 -1h0m0 34h0m0 -36h0m0 -16h0m1 43h0m1 -18h0m0 -45h0m0 91h0m0 -50h0m0 10h0m1 -6h0m0 -27h0m0 27h0m1 37h0m0 -41h0m0 -20h0m0 29h0m1 -1h0m0 -24h0m0 42h0m1 -69h0m0 58h0m0 -42h0m0 2h0m1 37h0m0 -59h0m0 30h0m0 -13h0m2 38h0m0 37h0m0 -55h0m0 -6h0m1 -13h0m0 16h0m0 -4h0m1 4h0m0 35h0m3 -61h0m0 51h0m0 -42h0m1 20h0m0 22h0m0 0h0m0 -61h0m1 53h0m0 -29h0m1 50h0m0 -61h0m1 46h0m1 26h0m0 -28h0m0 -9h0m0 48h0m1 -48h0m2 -35h0m0 22h0m5 -8h0m0 26h0m1 -26h0m1 -12h0m1 38h0m0 -27h0m0 33h0m0 5h0m0 -37h0m1 -15h0m0 54h0m0 -15h0m1 8h0m0 -24h0m0 -40h0m1 61h0m1 3h0m1 -3h0m0 -45h0m0 26h0m1 45h0m0 -46h0m0 44h0m0 -17h0m1 -47h0m1 40h0m0 -51h0m0 58h0m0 -15h0m1 12h0m1 -32h0m2 -36h0m0 79h0m1 -24h0m1 -34h0m1 25h0m2 45h0m1 -21h0m0 -50h0m1 34h0m0 27h0m3 -59h0m0 70h0m1 -46h0m1 17h0m0 -20h0m0 -18h0m1 29h0m0 4h0m2 -5h0m0 -35h0m1 39h0m1 -16h0m0 10h0m1 27h0m1 -41h0m5 -6h0m0 16h0m1 17h0m1 -33h0m0 14h0m1 1h0m1 38h0m1 -23h0m0 18h0m1 -24h0m0 -31h0m1 -17h0m4 56h0m0 -43h0m2 10h0m0 23h0m0 -5h0m0 -29h0m1 54h0m0 -69h0m0 56h0m1 10h0m0 -2h0m0 -27h0m0 22h0m1 -15h0m0 18h0m0 -29h0m1 -17h0m0 70h0m0 -58h0m1 32h0m1 13h0m0 -51h0m0 84h0m0 -68h0m1 -4h0m1 -15h0m0 8h0m0 42h0m1 14h0m1 -53h0m0 25h0m0 -5h0m2 -20h0m0 30h0m1 -3h0m0 -14h0m0 -13h0m1 52h0m0 -8h0m1 14h0m0 -53h0m0 42h0m2 -37h0m1 40h0m0 -23h0m1 17h0m0 18h0m0 -52h0m0 -12h0m1 28h0m1 -3h0m2 -24h0m1 4h0m0 29h0m0 5h0m1 -42h0m0 59h0m1 -45h0m2 32h0m1 19h0m0 -29h0m8 -48h0m0 32h0m1 12h0m0 -11h0m0 -14h0m1 41h0m0 -25h0m0 -23h0m0 29h0m1 0h0m0 -13h0m0 53h0m0 -13h0m1 -70h0m0 21h0m1 -9h0m2 34h0m0 8h0m0 -8h0m0 -18h0m1 23h0m0 2h0m2 -41h0m0 15h0m1 -26h0m3 40h0m2 -11h0m0 37h0m0 -26h0m2 -28h0m0 11h0m1 17h0m0 -36h0m3 45h0m3 22h0m0 -83h0m1 54h0m5 -32h0m1 36h0m2 1h0m1 -38h0m2 10h0m1 -32h0m1 18h0m3 58h0m2 -45h0m1 27h0m1 -1h0m2 -52h0m1 44h0m0 1h0m0 -42h0m0 58h0m2 -25h0m0 5h0m0 25h0m0 -42h0m1 -7h0m0 11h0m0 24h0m1 1h0m0 -15h0m1 -14h0m0 25h0m0 3h0m1 -25h0m0 34h0m1 -27h0m0 54h0m5 -26h0m2 -29h0m0 6h0m1 48h0m1 -90h0m0 84h0m3 -15h0m0 -18h0m0 -25h0m0 21h0m0 -27h0m1 31h0m0 -1h0m0 28h0m0 -60h0m1 52h0m1 5h0m3 -15h0m1 -16h0m5 16h0m0 -35h0m0 -2h0m0 40h0m1 -18h0m0 35h0m0 -25h0m0 -19h0m1 37h0m0 -54h0m0 62h0m1 -18h0m0 17h0m0 -51h0m0 55h0m0 -48h0m0 -6h0m0 -23h0m1 19h0m0 54h0m0 7h0m1 -20h0m0 -4h0m0 -11h0m0 24h0m1 -14h0m1 -2h0m0 -27h0m0 55h0m2 -28h0m2 -14h0m1 3h0m2 -15h0m0 42h0m2 -12h0m1 -17h0m0 -24h0m1 44h0m2 -35h0m4 30h0m0 -30h0m1 4h0m0 7h0m1 17h0m0 -12h0m0 26h0m1 -14h0m0 -12h0m0 -23h0m1 -19h0m0 59h0m1 19h0m0 -10h0m1 -32h0m0 19h0m0 2h0m1 34h0m0 -41h0m0 5h0m0 -10h0m0 7h0m0 -7h0m1 19h0m0 -46h0m0 18h0m0 22h0m1 -3h0m0 2h0m0 -44h0m1 45h0m0 -36h0m0 -9h0m0 19h0m1 37h0m0 9h0m0 9h0m0 -39h0m1 -9h0m0 -12h0m0 27h0m0 -9h0m1 5h0m0 10h0m0 -8h0m1 -24h0m0 18h0m1 -23h0m0 62h0m1 -44h0m0 -20h0m1 19h0m0 7h0m1 23h0m3 -4h0m2 7h0m0 -30h0m0 19h0m0 -26h0m1 15h0m0 -17h0m1 -6h0m0 -7h0m1 44h0m0 -52h0m1 40h0m0 -7h0m1 -5h0m0 24h0m1 -4h0m1 -42h0m0 13h0m0 29h0m1 -15h0m0 28h0m1 -61h0m0 41h0m13 -58h0m3 93h0m1 -27h0m1 -11h0m1 11h0m0 -7h0m0 21h0m0 -30h0m1 -27h0m1 3h0m0 2h0m0 -7h0m1 49h0m0 27h0m0 -85h0m0 3h0m1 56h0m0 -66h0m0 66h0m2 -34h0m1 0h0m0 42h0m3 -5h0m0 -19h0m0 -41h0m2 37h0m1 -17h0m1 23h0m2 -8h0m1 -6h0m1 36h0m0 -43h0m0 56h0m0 -53h0m3 45h0m2 -45h0m4 17h0m0 -36h0m0 -1h0m3 46h0m0 -8h0m1 26h0m5 -36h0m1 -23h0m1 20h0m1 8h0m2 -1h0m0 54h0m6 -73h0m0 39h0m1 -37h0m0 10h0m1 -23h0m0 19h0m0 -12h0m0 9h0m0 14h0m0 4h0m1 -39h0m1 27h0m0 -36h0m1 51h0m0 -46h0m1 35h0m1 -8h0m0 -32h0m0 33h0m1 -6h0m0 2h0m0 36h0m2 -3h0m0 -5h0m0 -21h0m2 -1h0m0 -20h0m2 0h0m1 -13h0m2 48h0m1 -16h0m2 -31h0m0 -6h0m1 36h0m0 48h0m0 -78h0m0 48h0m0 -22h0m2 24h0m0 -51h0m1 49h0m0 23h0m2 -22h0m0 -29h0m1 52h0m1 -17h0m5 -55h0m1 28h0m0 20h0m1 -8h0m0 11h0m0 -23h0m2 -17h0m2 20h0m0 7h0m1 -46h0m1 92h0m0 -32h0m0 -31h0m1 10h0m0 11h0m0 0h0m1 -3h0m0 -3h0m0 -16h0m1 47h0m0 -14h0m1 -13h0m0 3h0m0 14h0m0 -39h0m1 23h0m0 -35h0m0 -11h0m1 47h0m1 -10h0m0 35h0m1 -18h0m0 -44h0m1 65h0m0 -40h0m1 17h0m0 -21h0m1 16h0m1 -37h0m0 53h0m0 -43h0m0 31h0m1 -39h0m0 54h0m0 10h0m0 -32h0m0 -8h0m2 27h0m0 -15h0m0 22h0m0 -27h0m1 14h0m0 -30h0m0 21h0m0 -11h0m1 8h0m1 3h0m0 -6h0m2 -15h0m0 -12h0m3 42h0m0 -6h0m0 6h0m0 -30h0m0 53h0m1 -64h0m0 14h0m1 9h0m1 8h0m0 -4h0m1 -52h0m1 19h0m0 44h0m1 -30h0m1 25h0m1 -23h0m2 5h0m2 -15h0m0 -16h0m1 50h0m0 -24h0m1 53h0m1 -71h0m1 64h0m0 -11h0m0 -18h0m0 -15h0m0 21h0m0 -40h0m0 24h0m1 33h0m0 -61h0m0 62h0m0 -26h0m1 -5h0m0 -1h0m1 -18h0m1 45h0m0 12h0m1 -79h0m0 37h0m2 -24h0m0 46h0m0 -22h0m0 -14h0m0 7h0m1 51h0m0 -50h0m0 -12h0m0 25h0m0 -48h0m0 51h0m1 31h0m0 -68h0m0 2h0m0 51h0m0 -8h0m1 -48h0m0 27h0m0 30h0m0 -10h0m0 -8h0m1 17h0m0 -43h0m0 21h0m0 1h0m1 24h0m0 -23h0m0 -18h0m0 40h0m0 -30h0m0 -37h0m0 41h0m1 -30h0m0 42h0m1 -55h0m0 43h0m0 -11h0m1 48h0m0 -14h0m0 -36h0m0 -10h0m0 15h0m1 11h0m0 9h0m0 2h0m0 -35h0m0 27h0m1 12h0m0 -1h0m0 -5h0m0 -32h0m0 48h0m1 -47h0m0 10h0m0 -6h0m0 0h0m0 63h0m0 -20h0m0 -31h0m0 39h0m1 -23h0m1 -5h0m1 28h0m2 -24h0m0 -29h0m0 33h0m1 -46h0m0 -3h0m0 52h0m1 -12h0m0 -17h0m0 19h0m0 -9h0m1 8h0m0 26h0m0 -27h0m0 -17h0m1 37h0m0 -18h0m0 -16h0m0 -6h0m0 20h0m0 2h0m0 1h0m1 -28h0m0 32h0m0 5h0m3 7h0m2 -22h0m0 16h0m0 -45h0m6 -13h0m1 45h0m0 -12h0m1 21h0m0 -17h0m0 33h0m1 -31h0m1 -31h0m0 2h0m0 40h0m1 -13h0m0 31h0m2 -50h0m2 37h0m1 11h0m2 -30h0m2 41h0m1 6h0m1 -78h0m1 0h0m0 51h0m0 -8h0m0 9h0m0 4h0m1 -11h0m0 -17h0m0 -2h0m1 4h0m0 41h0m0 -49h0m1 19h0m0 -7h0m0 28h0m1 1h0m0 -30h0m0 -37h0m1 11h0m0 16h0m1 -2h0m0 19h0m17 3h0m2 -41h0m2 21h0m1 11h0m1 -1h0m2 9h0m1 -2h0m0 -21h0m1 -9h0m0 42h0m0 -31h0m3 8h0m0 12h0m0 -8h0m2 21h0m2 15h0m3 -23h0m0 4h0m0 -42h0m2 17h0m1 14h0m1 18h0m0 -22h0m0 9h0m1 -43h0m1 53h0m0 3h0m3 11h0m2 -44h0m1 1h0m1 18h0m0 -25h0m0 -15h0m0 33h0m0 19h0m0 -12h0m1 -5h0m0 26h0m0 8h0m0 -22h0m1 -38h0m0 17h0m0 -13h0m0 30h0m0 6h0m1 -22h0m0 2h0m1 -18h0m0 63h0m1 13h0m0 -14h0m1 -36h0m0 2h0m1 -19h0m1 6h0m1 -1h0m0 -16h0m1 18h0m0 -10h0m1 9h0m0 -22h0m0 18h0m0 15h0m0 -2h0m1 28h0m0 -30h0m0 13h0m1 -42h0m0 11h0m1 23h0m0 54h0m1 -10h0m0 -46h0m0 -30h0m0 21h0m1 47h0m0 -57h0m0 23h0m0 -3h0m1 17h0m0 -55h0m1 30h0m0 -3h0m0 21h0m0 -67h0m1 65h0m1 -34h0m0 34h0m1 -2h0m0 -31h0m5 -25h0m1 22h0m0 14h0m1 0h0m1 54h0m1 -40h0m0 -22h0m1 17h0m4 22h0m1 -20h0m2 -29h0m2 29h0m0 -29h0m0 1h0m1 6h0m1 14h0m1 -8h0m0 21h0m0 9h0m1 -23h0m0 58h0m1 -61h0m2 -3h0m0 22h0m0 -40h0m1 31h0m0 -13h0m0 -6h0m1 -4h0m0 42h0m1 1h0m0 2h0m0 6h0m0 -41h0m0 -21h0m1 5h0m0 8h0m0 72h0m1 -58h0m1 22h0m1 26h0m7 -35h0m2 -33h0m0 58h0m0 15h0m1 -82h0m0 32h0m1 20h0m1 -29h0m0 -17h0m1 63h0m0 -19h0m0 8h0m0 -38h0m0 67h0m0 -69h0m1 37h0m0 -5h0m0 -60h0m1 73h0m0 -46h0m1 11h0m0 2h0m1 0h0m0 12h0m1 -23h0m0 -12h0m0 60h0m0 -18h0m2 35h0m0 -27h0m1 -48h0m0 22h0m1 -14h0m0 42h0m0 -8h0m1 -38h0m0 64h0m1 -65h0m0 15h0m1 31h0m0 -9h0m0 11h0m1 -23h0m0 -20h0m0 36h0m1 -3h0m1 -29h0m1 44h0m1 -39h0m0 8h0m0 12h0m1 7h0m0 24h0m0 -43h0m0 37h0m1 -37h0m0 12h0m1 3h0m1 17h0m0 -60h0m1 41h0m0 -3h0m0 22h0m1 -25h0m2 5h0m1 -27h0m1 59h0m0 -35h0m1 10h0m0 -13h0m0 2h0m2 9h0m1 -1h0m1 -28h0m0 35h0m1 -3h0m0 -48h0m0 54h0m1 -18h0m1 -4h0m0 -11h0m0 22h0m1 7h0m0 -62h0m1 28h0m1 38h0m0 -59h0m0 37h0m1 -29h0m1 20h0m0 28h0m0 5h0m0 1h0m1 -4h0m0 -63h0m1 29h0m0 14h0m0 -35h0m1 12h0m0 9h0m0 13h0m0 26h0m1 -50h0m0 31h0m1 0h0m0 -19h0m2 -5h0m0 44h0m0 -50h0m1 -12h0m1 35h0m0 20h0m0 7h0m2 -36h0m0 -18h0m0 35h0m0 8h0m0 -7h0m1 -18h0m0 57h0m0 -82h0m1 21h0m0 28h0m1 -8h0m0 -11h0m0 20h0m0 -7h0m1 19h0m0 -21h0m0 32h0m0 -64h0m0 66h0m0 -40h0m0 10h0m1 -47h0m0 65h0m0 -39h0m0 -7h0m0 -3h0m0 0h0m0 -6h0m1 43h0m0 -19h0m0 -28h0m0 7h0m0 4h0m0 18h0m0 -14h0m1 3h0m0 39h0m0 -26h0m1 -3h0m0 4h0m1 16h0m0 7h0m3 -48h0m0 -1h0m1 28h0m0 23h0m1 -52h0m0 39h0m0 -38h0m0 40h0m0 -32h0m0 31h0m1 -5h0m0 10h0m1 -67h0m0 -12h0m1 73h0m1 11h0m0 -23h0m0 -14h0m0 48h0m1 -65h0m2 3h0m0 18h0m0 -16h0m0 3h0m1 24h0m1 14h0m0 -38h0m1 39h0m1 19h0m0 -20h0m0 3h0m0 12h0m1 -23h0m0 -8h0m0 18h0m0 -57h0m0 72h0m1 -14h0m1 -3h0m1 -48h0m0 34h0m0 8h0m0 -2h0m1 -29h0m0 28h0m0 -15h0m0 31h0m1 -53h0m0 28h0m1 18h0m0 -42h0m0 -6h0m0 1h0m1 21h0m0 -1h0m0 22h0m0 -28h0m0 4h0m0 -14h0m0 19h0m1 -5h0m0 -35h0m1 42h0m0 11h0m0 -4h0m0 -26h0m1 -9h0m0 99h0m0 -68h0m1 30h0m0 37h0m0 -57h0m1 9h0m0 3h0m0 -39h0m0 44h0m1 -17h0m0 17h0m0 -17h0m0 -1h0m0 -8h0m0 -12h0m0 12h0m0 37h0m1 -40h0m3 2h0m0 9h0m0 3h0m2 9h0m0 -39h0m1 40h0m0 -2h0m0 -55h0m0 35h0m1 -30h0m0 32h0m1 48h0m0 -32h0m6 -25h0m3 14h0m0 -33h0m0 7h0m3 53h0m0 -38h0m3 -20h0m0 40h0m2 -22h0m0 -15h0m1 4h0m1 20h0m1 -41h0m0 66h0m1 -46h0m0 20h0m1 44h0m1 -15h0m0 0h0m0 -43h0m0 0h0m1 20h0m1 -23h0m1 68h0m0 -22h0m2 -5h0m0 35h0m1 -19h0m1 -6h0m1 -29h0m2 -11h0m3 57h0m1 -85h0m0 27h0m1 -3h0m0 2h0m0 3h0m0 10h0m0 -45h0m0 3h0m1 47h0m0 -3h0m0 -12h0m0 12h0m0 -46h0m1 104h0m0 -74h0m1 -24h0m0 35h0m0 -16h0m0 17h0m1 7h0m0 -40h0m0 15h0m1 55h0m0 -50h0m1 -9h0m0 27h0m1 -40h0m0 6h0m1 16h0m1 12h0m0 -31h0m2 33h0m1 13h0m0 -4h0m1 -29h0m4 8h0m1 31h0m1 6h0m2 -27h0m2 31h0m1 -28h0m13 40h0m1 -19h0m2 -57h0m1 11h0m2 -12h0m1 38h0m0 -16h0m0 -9h0m1 -5h0m0 64h0m0 -43h0m0 7h0m2 -9h0m0 -10h0m2 -20h0m1 43h0m2 -11h0m0 58h0m0 -58h0m1 -21h0m5 68h0m1 -51h0m1 -22h0m1 9h0m1 38h0m0 21h0m1 -31h0m1 -19h0m0 4h0m0 10h0m1 11h0m0 -47h0m0 48h0m2 35h0m0 -29h0m0 -6h0m0 4h0m0 -47h0m2 15h0m0 53h0m1 -50h0m0 15h0m2 22h0m1 -9h0m1 16h0m0 -84h0m2 51h0m3 5h0m1 -13h0m0 -43h0m1 58h0m0 13h0m1 -12h0m0 45h0m0 -61h0m0 -25h0m0 58h0m1 4h0m3 -5h0m0 -9h0m6 13h0m2 -13h0m8 -54h0m2 58h0m2 -48h0m3 46h0m1 -21h0m2 -37h0m0 18h0m1 49h0m1 -6h0m1 -18h0m0 24h0m1 -26h0m1 -18h0m0 1h0m1 28h0m0 -31h0m2 26h0m0 46h0m0 -91h0m1 28h0m1 15h0m1 -4h0m0 20h0m0 32h0m0 -97h0m0 7h0m0 25h0m0 26h0m0 -14h0m1 37h0m0 -69h0m0 67h0m1 -41h0m0 -9h0m1 29h0m0 -44h0m0 49h0m1 -40h0m0 23h0m1 -5h0m0 33h0m0 -53h0m15 42h0m0 -11h0m1 -9h0m1 -2h0m3 7h0m1 -38h0m1 4h0m0 81h0m1 -17h0m1 -32h0m1 37h0m0 -19h0m0 5h0m3 -41h0m0 -17h0m1 58h0m2 -59h0m4 47h0m2 -18h0m1 3h0m1 30h0m0 -35h0m1 7h0m2 -25h0m0 6h0m1 31h0m1 11h0m2 -26h0m0 3h0m1 -14h0m0 34h0m0 -34h0m0 30h0m0 -45h0m0 9h0m1 -4h0m0 12h0m1 31h0m0 2h0m1 -19h0m1 29h0m0 -30h0m1 2h0m3 -6h0m5 35h0m0 -6h0m1 4h0m0 -12h0m2 -25h0m0 24h0m0 -3h0m1 10h0m0 8h0m0 -10h0m0 5h0m0 -2h0m0 0h0m1 -15h0m2 12h0m4 -36h0m1 1h0m0 32h0m1 -44h0m2 71h0m2 -42h0m1 -34h0m0 -3h0m2 24h0m2 31h0m1 -2h0m0 -26h0m1 61h0m0 -32h0m0 -22h0m2 14h0m0 -10h0m0 47h0m3 -76h0m1 61h0m0 -60h0m1 19h0m15 -2h0m0 31h0m0 -22h0m0 -8h0m1 -28h0m1 50h0m0 -40h0m1 8h0m0 -18h0m0 41h0m0 30h0m1 -34h0m1 13h0m0 18h0m0 -18h0m1 3h0m0 20h0m0 -2h0m5 -56h0m3 13h0m2 2h0m1 2h0m0 -1h0m1 -36h0m0 25h0m1 41h0m0 -16h0m1 -32h0m0 30h0m0 -4h0m1 10h0m1 4h0m0 -27h0m0 36h0m1 -18h0m0 -33h0m1 5h0m0 43h0m0 -5h0m1 -47h0m0 6h0m1 53h0m0 6h0m0 -26h0m0 -17h0m1 60h0m0 -37h0m0 23h0m1 -31h0m0 13h0m1 -52h0m0 9h0m0 3h0m1 5h0m0 -7h0m0 22h0m0 -15h0m0 4h0m0 28h0m0 5h0m0 -17h0m1 9h0m0 -2h0m0 -4h0m0 -34h0m0 39h0m0 -2h0m0 5h0m0 -40h0m0 45h0m0 -12h0m1 -39h0m0 45h0m1 -40h0m0 30h0m1 12h0m0 7h0m1 -35h0m0 0h0m0 -25h0m0 22h0m0 -9h0m1 19h0m1 16h0m0 -23h0m0 -39h0m0 46h0m1 -24h0m0 11h0m0 46h0m1 -37h0m0 1h0m0 4h0m1 5h0m0 0h0m0 15h0m1 -64h0m0 80h0m0 17h0m0 -16h0m1 -59h0m0 31h0m0 44h0m0 -55h0m1 -40h0m0 47h0m0 11h0m0 -22h0m0 12h0m0 -7h0m1 -28h0m0 60h0m0 7h0m1 4h0m1 -59h0m1 31h0m0 13h0m1 -33h0m1 12h0m1 -28h0m1 68h0m0 -90h0m1 68h0m3 2h0m1 7h0m1 -23h0m0 -22h0m2 -32h0m1 60h0m0 -19h0m1 -6h0m0 46h0m2 -58h0m0 -6h0m20 16h0m2 20h0m1 16h0m1 -57h0m0 58h0m1 -15h0m1 -6h0m1 18h0m0 -2h0m1 -12h0m1 -23h0m0 -11h0m1 41h0m0 -5h0m0 2h0m1 -7h0m0 -20h0m0 -34h0m1 39h0m1 7h0m0 -5h0m0 42h0m1 -26h0m0 -3h0m0 -33h0m0 14h0m0 -4h0m1 18h0m0 -17h0m0 25h0m1 0h0m0 -25h0m0 16h0m0 44h0m0 -41h0m0 -1h0m0 26h0m1 -31h0m0 28h0m0 -15h0m0 11h0m0 10h0m1 12h0m1 -41h0m0 -25h0m0 49h0m0 -53h0m0 37h0m0 -4h0m1 -24h0m0 24h0m0 -19h0m1 25h0m0 4h0m1 -37h0m0 -14h0m2 33h0m0 -7h0m1 50h0m0 -55h0m0 30h0m1 1h0m0 -43h0m0 5h0m0 38h0m1 -50h0m0 -14h0m1 73h0m1 -6h0m1 -11h0m0 -1h0m0 -40h0m4 81h0m3 -47h0m1 -4h0m1 -3h0m0 22h0m0 -23h0m1 14h0m1 -29h0m0 28h0m1 -5h0m1 20h0m0 8h0m1 -15h0m1 -7h0m0 -12h0m0 33h0m1 -38h0m2 23h0m1 11h0m1 -66h0m2 61h0m0 -21h0m1 42h0m0 21h0m1 -105h0m0 27h0m2 13h0m0 11h0m0 -41h0m1 48h0m1 7h0m5 2h0m0 -74h0m1 59h0m1 -37h0m2 -6h0m1 15h0m2 44h0m0 7h0m2 -44h0m0 -29h0m1 69h0m1 -62h0m0 30h0m0 -36h0m1 -5h0m0 61h0m1 13h0m0 6h0m0 -19h0m3 -19h0m0 38h0m1 -18h0m0 15h0m0 -41h0m1 40h0m0 -51h0m1 36h0m2 -23h0m0 15h0m2 -54h0m0 39h0m1 -33h0m0 36h0m6 5h0m0 -4h0m2 -31h0m3 22h0m1 46h0m3 -13h0m1 7h0m1 14h0m1 -31h0m0 7h0m2 -21h0m0 16h0m1 -33h0m0 5h0m1 22h0m0 -41h0m1 92h0m0 -22h0m0 -76h0m0 24h0m1 -4h0m1 39h0m1 -5h0m0 15h0m0 -49h0m0 -5h0m0 -18h0m1 14h0m0 32h0m0 16h0m1 -39h0m0 -16h0m0 39h0m0 11h0m1 -15h0m1 -5h0m1 18h0m1 -45h0m0 18h0m0 17h0m1 22h0m0 -44h0m0 9h0m0 5h0m1 -19h0m0 3h0m0 1h0m1 46h0m1 -33h0m2 38h0m0 8h0m0 -53h0m1 -8h0m9 24h0m1 -1h0m0 26h0m4 -53h0m0 -7h0m0 36h0m0 -31h0m3 25h0m1 -16h0m0 21h0m1 -10h0m1 -2h0m0 36h0m1 -36h0m0 12h0m2 -34h0m0 41h0m0 34h0m1 -32h0m1 20h0m0 -50h0m0 -1h0m0 11h0m2 57h0m0 -56h0m0 -9h0m0 37h0m1 -37h0m0 -9h0m1 16h0m0 -26h0m2 21h0m0 7h0m0 41h0m1 2h0m0 -77h0m0 70h0m2 -40h0m1 4h0m2 -18h0m0 20h0m0 8h0m0 -40h0m1 8h0m1 42h0m1 -28h0m3 19h0m1 5h0m1 -14h0m1 1h0m0 25h0m3 -10h0m0 2h0m1 -14h0m1 -28h0m0 -3h0m0 29h0m3 10h0m1 5h0m0 -30h0m0 23h0m0 8h0m1 -3h0m0 -43h0m2 44h0m1 4h0m0 -43h0m0 -10h0m0 54h0m1 22h0m0 -47h0m1 -34h0m0 39h0m1 37h0m0 -55h0m0 27h0m0 -8h0m0 9h0m0 -5h0m1 13h0m0 -10h0m6 22h0m0 -37h0m0 27h0m0 -28h0m0 22h0m1 17h0m1 -31h0m1 -26h0m0 49h0m0 -19h0m1 5h0m0 -7h0m1 -19h0m1 29h0m0 -33h0m1 9h0m1 52h0m0 -15h0m0 -36h0m0 -19h0m0 16h0m3 25h0m3 -42h0m0 18h0m2 21h0m0 -47h0m0 13h0m1 19h0m1 -1h0m0 22h0m0 -56h0m3 38h0m1 10h0m1 46h0m1 -80h0m1 51h0m1 -27h0m7 10h0m1 -19h0m0 38h0m0 -13h0m2 -47h0m1 21h0m1 -14h0m0 81h0m7 -75h0m0 8h0m2 24h0m0 -6h0m0 -4h0m1 51h0m1 -47h0m1 7h0m3 -41h0m0 55h0m0 -6h0m1 -24h0m0 -5h0m1 3h0m0 2h0m3 -1h0m1 -1h0m0 36h0m0 -40h0m0 17h0m0 6h0m1 0h0m0 43h0m1 -77h0m0 15h0m2 61h0m1 37h0m1 -69h0m0 1h0m1 -23h0m1 46h0m1 -2h0m0 -53h0m1 50h0m0 -40h0m0 26h0m1 -40h0m0 32h0m0 4h0m1 39h0m0 -58h0m0 50h0m0 -38h0m0 17h0m1 -45h0m0 10h0m0 3h0m1 52h0m0 -16h0m1 -22h0m4 15h0m0 -64h0m1 100h0m1 -70h0m1 15h0m2 36h0m0 -42h0m0 15h0m0 -7h0m1 -8h0m0 26h0m0 5h0m0 -18h0m1 -43h0m0 23h0m1 -17h0m0 32h0m0 15h0m1 -41h0m1 62h0m1 -16h0m0 -13h0m2 -22h0m1 84h0m1 -89h0m0 63h0m1 -79h0m0 45h0m0 12h0m0 -31h0m0 23h0m1 1h0m0 -23h0m1 18h0m0 5h0m1 -19h0m0 5h0m2 27h0m0 -34h0m0 5h0m1 14h0m4 -28h0m0 1h0m0 -22h0m1 28h0m0 -8h0m0 24h0m0 -65h0m1 60h0m0 13h0m1 -57h0m0 31h0m0 -12h0m1 3h0m1 30h0m0 13h0m0 -74h0m1 67h0m0 -30h0m1 -22h0m0 75h0m1 -38h0m0 -28h0m0 20h0m2 9h0m0 -17h0m1 -6h0m0 -17h0m1 2h0m0 1h0m1 -8h0m0 55h0m0 -53h0m1 22h0m0 -34h0m0 14h0m1 58h0m0 -51h0m0 25h0m2 -6h0m1 16h0m1 -9h0m1 -7h0m0 -5h0m0 20h0m0 -40h0m0 47h0m1 6h0m1 -9h0m0 -32h0m1 -20h0m0 35h0m0 21h0m1 18h0m0 -17h0m1 -28h0m0 -9h0m1 11h0m0 1h0m1 14h0m0 -4h0m1 -10h0m1 9h0m2 -25h0m1 35h0m1 -51h0m1 26h0m3 33h0m1 -20h0m1 -16h0m1 19h0m0 -10h0m0 4h0m1 -12h0m0 30h0m0 18h0m0 -38h0m0 2h0m1 -27h0m0 35h0m0 -11h0m0 -39h0m1 47h0m0 -11h0m1 6h0m0 -12h0m0 -26h0m0 58h0m0 -45h0m0 -5h0m0 26h0m0 9h0m11 -34h0m0 32h0m0 9h0m1 -27h0m0 13h0m0 20h0m2 1h0m0 -21h0m2 -10h0m1 29h0m0 4h0m1 -10h0m0 -41h0m0 10h0m2 41h0m0 -51h0m0 53h0m1 -62h0m0 31h0m0 21h0m0 -47h0m0 25h0m0 46h0m0 -54h0m1 35h0m0 -20h0m0 0h0m1 -4h0m0 -36h0m0 48h0m1 -11h0m0 47h0m0 -90h0m1 22h0m1 20h0m1 15h0m0 -5h0m0 17h0m1 -20h0m1 -7h0m0 10h0m1 -39h0m0 62h0m0 -3h0m0 -42h0m1 -9h0m0 46h0m0 -18h0m0 4h0m1 6h0m1 1h0m1 34h0m0 -75h0m0 66h0m0 -42h0m1 -8h0m1 -17h0m0 -7h0m1 75h0m0 24h0m0 -25h0m0 -23h0m1 -9h0m0 -16h0m0 -10h0m0 26h0m1 0h0m1 -16h0m11 8h0m1 4h0m1 -22h0m1 3h0m0 40h0m0 -31h0m0 4h0m1 -12h0m1 8h0m0 52h0m0 -49h0m0 17h0m1 -27h0m0 22h0m1 -58h0m0 51h0m2 14h0m1 -29h0m0 42h0m1 -47h0m1 -1h0m0 29h0m1 13h0m0 -14h0m1 -30h0m2 31h0m1 -39h0m1 28h0m3 16h0m1 28h0m0 -20h0m1 -34h0m1 -10h0m0 30h0m1 -17h0m1 41h0m0 -13h0m0 23h0m5 -94h0m1 0h0m0 -2h0m0 1h0m1 15h0m0 -15h0m0 22h0m0 -5h0m2 2h0m1 -40h0m1 24h0m0 -21h0m0 15h0m3 19h0m0 -8h0m1 2h0m2 -12h0m0 3h0m1 5h0m1 13h0m0 -22h0m1 -1h0m1 -23h0m2 48h0m1 -33h0m1 15h0m0 -8h0m0 17h0m2 39h0m3 -74h0m0 17h0m0 14h0m1 11h0m0 12h0m0 -12h0m2 -21h0m2 3h0m1 5h0m0 15h0m3 -10h0m1 -14h0m3 10h0m1 -21h0m0 3h0m3 -1h0m9 -21h0m2 -2h0m1 44h0m3 -13h0m3 42h0m9 16h0m1 -56h0m1 2h0m0 21h0m1 -18h0m1 10h0m1 16h0m0 -20h0m0 -23h0m1 11h0m0 10h0m2 12h0m2 -1h0m1 -32h0m1 12h0m1 -13h0m3 -20h0m1 53h0m6 16h0m2 -69h0m0 -2h0m1 12h0m1 39h0m1 -6h0m1 5h0m2 -28h0m0 22h0m2 -6h0m1 -16h0m1 -6h0m1 36h0m1 -22h0m0 22h0m0 -29h0m0 6h0m4 8h0m2 5h0m0 -36h0"/></g>
<path stroke="#00008b" stroke-width="3.2" stroke-linecap="round" fill="none" d="M122.5 586.2H313.3M313.3 583.8H499.1M499.1 586.2H649.8M649.8 592.7H795.9M795.9 585.2H934.4M934.4 586.9H1064.7M1064.7 587.3H1186.5M1186.5 581.4H1298.5M1298.5 584.2H1405.9M1405.9 581.8H1509.4M1509.4 584.2H1612.9M1612.9 586.6H1714.9M1726.5 586.6H1802.9M1816.0 585.2H1884.9M1900.0 583.1H1962.9M1962.9 582.1H2032.0M2032.0 586.2H2093.9M2093.9 580.1H2153.9M2153.9 597.5H2199.1M2199.1 577.0H2247.0M2254.0 582.1H2284.1M2294.0 582.8H2322.9M2322.9 537.6H2441.4M2442.3 1018.3H2463.0M2324 600h0"/>
<rect x="122.5" y="123.0" width="2364.7" height="923.7" fill="none" stroke="#000" stroke-width="1.5"/>
<path stroke="#000" stroke-width="1.9" fill="none" d="M122.8 174.7V995.7"/>
<path stroke="#000" stroke-width="1.5" fill="none" d="M107.2 174.7H122.5M107.2 311.5H122.5M107.2 448.4H122.5M107.2 585.2H122.5M107.2 722.0H122.5M107.2 858.9H122.5M107.2 995.7H122.5"/>
<text transform="translate(58.79 183.41) scale(0.970 1)" font-size="25.0">1.2</text>
<text transform="translate(58.79 320.12) scale(0.970 1)" font-size="25.0">0.8</text>
<text transform="translate(58.79 456.96) scale(0.970 1)" font-size="25.0">0.4</text>
<text transform="translate(58.79 593.80) scale(0.970 1)" font-size="25.0">0.0</text>
<text transform="translate(44.63 730.64) scale(0.970 1)" font-size="25.0">−0.4</text>
<text transform="translate(44.63 867.48) scale(0.970 1)" font-size="25.0">−0.8</text>
<text transform="translate(44.63 1004.45) scale(0.970 1)" font-size="25.0">−1.2</text>
<path stroke="#000" stroke-width="1.9" fill="none" d="M217.9 1046.9H2464.3"/>
<path stroke="#000" stroke-width="1.6" fill="none" d="M217.9 1046.7V1062.5M406.2 1046.7V1062.5M574.5 1046.7V1062.5M722.8 1046.7V1062.5M865.1 1046.7V1062.5M999.5 1046.7V1062.5M1125.6 1046.7V1062.5M1242.5 1046.7V1062.5M1352.2 1046.7V1062.5M1457.7 1046.7V1062.5M1561.2 1046.7V1062.5M1663.9 1046.7V1062.5M1758.9 1046.7V1062.5M1843.9 1046.7V1062.5M1923.9 1046.7V1062.5M1997.5 1046.7V1062.5M2062.9 1046.7V1062.5M2123.9 1046.7V1062.5M2176.5 1046.7V1062.5M2223.1 1046.7V1062.5M2265.6 1046.7V1062.5M2303.5 1046.7V1062.5M2382.2 1046.7V1062.5M2464.3 1046.7V1062.5"/>
<text transform="translate(227.14 1123.87) rotate(-90) scale(0.970 1)" font-size="25.0">chr1</text>
<text transform="translate(415.44 1123.87) rotate(-90) scale(0.970 1)" font-size="25.0">chr2</text>
<text transform="translate(583.69 1123.87) rotate(-90) scale(0.970 1)" font-size="25.0">chr3</text>
<text transform="translate(732.09 1123.87) rotate(-90) scale(0.970 1)" font-size="25.0">chr4</text>
<text transform="translate(874.39 1123.87) rotate(-90) scale(0.970 1)" font-size="25.0">chr5</text>
<text transform="translate(1008.79 1123.87) rotate(-90) scale(0.970 1)" font-size="25.0">chr6</text>
<text transform="translate(1134.84 1123.87) rotate(-90) scale(0.970 1)" font-size="25.0">chr7</text>
<text transform="translate(1251.74 1123.87) rotate(-90) scale(0.970 1)" font-size="25.0">chr8</text>
<text transform="translate(1361.44 1123.87) rotate(-90) scale(0.970 1)" font-size="25.0">chr9</text>
<text transform="translate(1466.89 1137.36) rotate(-90) scale(0.970 1)" font-size="25.0">chr10</text>
<text transform="translate(1570.39 1135.56) rotate(-90) scale(0.970 1)" font-size="25.0">chr11</text>
<text transform="translate(1673.14 1137.36) rotate(-90) scale(0.970 1)" font-size="25.0">chr12</text>
<text transform="translate(1768.14 1137.36) rotate(-90) scale(0.970 1)" font-size="25.0">chr13</text>
<text transform="translate(1853.14 1137.36) rotate(-90) scale(0.970 1)" font-size="25.0">chr14</text>
<text transform="translate(1933.14 1137.36) rotate(-90) scale(0.970 1)" font-size="25.0">chr15</text>
<text transform="translate(2006.69 1137.36) rotate(-90) scale(0.970 1)" font-size="25.0">chr16</text>
<text transform="translate(2072.19 1137.36) rotate(-90) scale(0.970 1)" font-size="25.0">chr17</text>
<text transform="translate(2133.14 1137.36) rotate(-90) scale(0.970 1)" font-size="25.0">chr18</text>
<text transform="translate(2185.74 1137.36) rotate(-90) scale(0.970 1)" font-size="25.0">chr19</text>
<text transform="translate(2232.29 1137.36) rotate(-90) scale(0.970 1)" font-size="25.0">chr20</text>
<text transform="translate(2274.79 1137.36) rotate(-90) scale(0.970 1)" font-size="25.0">chr21</text>
<text transform="translate(2312.74 1137.36) rotate(-90) scale(0.970 1)" font-size="25.0">chr22</text>
<text transform="translate(2391.39 1126.56) rotate(-90) scale(0.970 1)" font-size="25.0">chrX</text>
<text transform="translate(2473.54 1126.56) rotate(-90) scale(0.970 1)" font-size="25.0">chrY</text>
<path stroke="#000" stroke-width="11" stroke-linecap="round" fill="none" d="M242.5 607.0h0M279.2 588.1h0M325.7 631.5h0M498.3 602.3h0M506.6 592.8h0M527.3 578.1h0M637.6 647.3h0M646.7 607.0h0M692.2 579.6h0M692.2 590.6h0M1107.0 567.7h0M1107.0 562.4h0M1153.8 578.9h0M1302.4 599.1h0M1314.9 612.7h0M1314.9 612.7h0M1364.9 580.2h0M1474.2 629.2h0M1657.2 617.6h0M1665.7 630.5h0M1752.2 625.9h0M1911.0 576.3h0M1952.8 560.8h0M2038.1 553.8h0M2054.7 614.4h0M2061.2 594.4h0M2165.5 584.6h0M2306.6 571.1h0M2410.4 619.7h0"/>
<text transform="translate(251.10 702.00) rotate(-90) scale(0.970 1)" font-size="25.0">NTRK1</text>
<text transform="translate(287.80 675.00) rotate(-90) scale(0.970 1)" font-size="25.0">MDM4</text>
<text transform="translate(334.30 718.40) rotate(-90) scale(0.970 1)" font-size="25.0">MYCN</text>
<text transform="translate(506.90 700.00) rotate(-90) scale(0.970 1)" font-size="25.0">PDCD1</text>
<text transform="translate(515.20 655.47) rotate(-90) scale(0.970 1)" font-size="25.0">VHL</text>
<text transform="translate(535.90 563.60) rotate(-90) scale(0.970 1)" font-size="25.0">MLH1</text>
<text transform="translate(646.20 727.50) rotate(-90) scale(0.970 1)" font-size="25.0">SOX2</text>
<text transform="translate(655.30 685.40) rotate(-90) scale(0.970 1)" font-size="25.0">OPA1</text>
<text transform="translate(700.80 565.10) rotate(-90) scale(0.970 1)" font-size="25.0">PDGFRA</text>
<text transform="translate(700.80 643.83) rotate(-90) scale(0.970 1)" font-size="25.0">KIT</text>
<text transform="translate(1115.60 553.20) rotate(-90) scale(0.970 1)" font-size="25.0">EGFR</text>
<text transform="translate(1113.25 547.90) rotate(-90) scale(0.970 1)" font-size="25.0">EGFR_vIII</text>
<text transform="translate(1162.40 564.40) rotate(-90) scale(0.970 1)" font-size="25.0">MET</text>
<text transform="translate(1311.00 690.09) rotate(-90) scale(0.970 1)" font-size="25.0">CD274</text>
<text transform="translate(1323.50 726.57) rotate(-90) scale(0.970 1)" font-size="25.0">CDKN2A</text>
<text transform="translate(1323.50 726.57) rotate(-90) scale(0.970 1)" font-size="25.0">CDKN2B</text>
<text transform="translate(1373.62 565.70) rotate(-90) scale(0.970 1)" font-size="25.0">NTRK2</text>
<text transform="translate(1482.80 709.38) rotate(-90) scale(0.970 1)" font-size="25.0">PTEN</text>
<text transform="translate(1665.80 697.79) rotate(-90) scale(0.970 1)" font-size="25.0">CDK4</text>
<text transform="translate(1674.42 717.40) rotate(-90) scale(0.970 1)" font-size="25.0">MDM2</text>
<text transform="translate(1760.80 688.57) rotate(-90) scale(0.970 1)" font-size="25.0">RB1</text>
<text transform="translate(1919.47 561.80) rotate(-90) scale(0.970 1)" font-size="25.0">NUTM1</text>
<text transform="translate(1961.40 546.30) rotate(-90) scale(0.970 1)" font-size="25.0">NTRK3</text>
<text transform="translate(2046.70 539.30) rotate(-90) scale(0.970 1)" font-size="25.0">TP53</text>
<text transform="translate(2063.30 675.71) rotate(-90) scale(0.970 1)" font-size="25.0">NF1</text>
<text transform="translate(2069.92 689.42) rotate(-90) scale(0.970 1)" font-size="25.0">ERBB2</text>
<text transform="translate(2174.10 570.10) rotate(-90) scale(0.970 1)" font-size="25.0">BRD4</text>
<text transform="translate(2315.32 556.60) rotate(-90) scale(0.970 1)" font-size="25.0">NF2</text>
<text transform="translate(2419.00 729.57) rotate(-90) scale(0.970 1)" font-size="25.0">IL13RA2</text>
<text font-weight="bold" style="stroke:none" transform="translate(1145.79 70.7) scale(0.930 1)" font-size="31.0">210246750094_R07C01</text>
</svg></body></html>
